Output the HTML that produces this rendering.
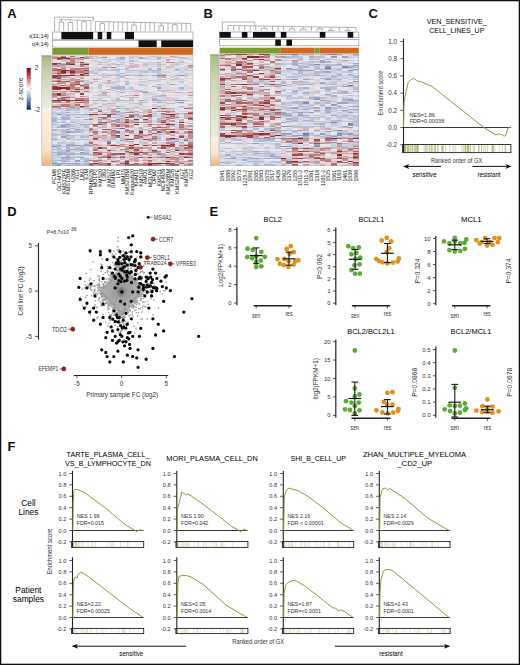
<!DOCTYPE html>
<html><head><meta charset="utf-8"><title>Figure</title>
<style>html,body{margin:0;padding:0;background:#fff;width:520px;height:665px;overflow:hidden}
svg{display:block;font-family:"Liberation Sans", sans-serif}</style></head>
<body><svg width="520" height="665" viewBox="0 0 520 665">
<rect x="0" y="0" width="520" height="665" fill="#fff"/>
<text x="7.2" y="17.78" font-size="13" font-weight="bold" fill="#111">A</text>
<text x="203.5" y="18.48" font-size="13" font-weight="bold" fill="#111">B</text>
<text x="368.4" y="18.28" font-size="13" font-weight="bold" fill="#111">C</text>
<text x="7.2" y="215.88" font-size="13" font-weight="bold" fill="#111">D</text>
<text x="209.5" y="215.78" font-size="13" font-weight="bold" fill="#111">E</text>
<text x="7.5" y="450.78" font-size="13" font-weight="bold" fill="#111">F</text>
<g transform="translate(52.3,55.5) scale(4.5387,1.2244)" shape-rendering="crispEdges">
<path fill="#626c96" d="M10 45h1v1h-1zM12 49h1v1h-1zM17 49h1v1h-1zM15 59h1v1h-1zM16 87h1v1h-1z"/>
<path fill="#6e779f" d="M14 66h1v1h-1zM29 69h1v1h-1zM12 71h1v1h-1z"/>
<path fill="#7a83a8" d="M23 16h1v1h-1zM25 45h1v1h-1zM24 47h1v1h-1zM10 54h1v1h-1z"/>
<path fill="#858eb1" d="M24 16h1v1h-1zM28 16h1v1h-1zM1 48h1v1h-1zM19 63h1v1h-1zM22 67h1v1h-1zM0 74h1v1h-1zM9 76h1v1h-1zM23 80h1v1h-1zM15 82h1v1h-1z"/>
<path fill="#919aba" d="M28 36h1v1h-1zM14 43h1v1h-1zM14 45h1v1h-1zM26 45h1v1h-1zM13 53h1v1h-1zM3 56h1v1h-1zM2 57h1v1h-1zM14 59h1v1h-1zM22 61h1v1h-1zM3 62h1v1h-1zM28 65h1v1h-1zM27 70h1v1h-1zM26 71h1v1h-1zM5 73h1v1h-1zM7 73h1v1h-1zM27 76h1v1h-1zM6 79h1v1h-1zM2 83h1v1h-1zM6 83h1v1h-1zM5 85h1v1h-1zM27 87h1v1h-1zM0 88h1v1h-1zM2 88h1v1h-1zM5 88h1v1h-1zM1 89h1v1h-1z"/>
<path fill="#9da5c3" d="M15 1h1v1h-1zM19 1h1v1h-1zM19 2h1v1h-1zM16 10h1v1h-1zM12 16h1v1h-1zM16 16h1v1h-1zM19 16h1v1h-1zM22 16h1v1h-1zM23 26h1v1h-1zM9 36h1v1h-1zM19 36h1v1h-1zM23 36h1v1h-1zM27 36h1v1h-1zM23 38h1v1h-1zM28 38h1v1h-1zM14 41h1v1h-1zM23 41h1v1h-1zM3 46h1v1h-1zM13 47h1v1h-1zM19 50h1v1h-1zM7 52h1v1h-1zM14 53h1v1h-1zM6 56h1v1h-1zM3 60h1v1h-1zM5 60h1v1h-1zM13 63h1v1h-1zM2 66h1v1h-1zM15 69h1v1h-1zM17 70h1v1h-1zM1 73h1v1h-1zM3 73h1v1h-1zM4 73h1v1h-1zM4 76h1v1h-1zM3 77h1v1h-1zM3 78h1v1h-1zM16 79h1v1h-1zM1 80h1v1h-1zM13 81h1v1h-1zM19 81h1v1h-1zM3 83h1v1h-1zM10 87h1v1h-1z"/>
<path fill="#a9b1cc" d="M10 1h1v1h-1zM23 1h1v1h-1zM23 2h1v1h-1zM29 2h1v1h-1zM15 3h1v1h-1zM23 5h1v1h-1zM2 8h1v1h-1zM7 9h1v1h-1zM23 11h1v1h-1zM27 11h1v1h-1zM22 12h1v1h-1zM15 14h1v1h-1zM14 16h1v1h-1zM27 16h1v1h-1zM29 16h1v1h-1zM6 20h1v1h-1zM16 23h1v1h-1zM22 25h1v1h-1zM13 26h1v1h-1zM14 26h1v1h-1zM15 26h1v1h-1zM28 26h1v1h-1zM19 29h1v1h-1zM22 35h1v1h-1zM15 36h1v1h-1zM22 36h1v1h-1zM24 36h1v1h-1zM19 38h1v1h-1zM27 38h1v1h-1zM10 41h1v1h-1zM1 43h1v1h-1zM5 43h1v1h-1zM7 43h1v1h-1zM3 44h1v1h-1zM8 44h1v1h-1zM21 45h1v1h-1zM14 46h1v1h-1zM3 48h1v1h-1zM5 48h1v1h-1zM6 48h1v1h-1zM7 48h1v1h-1zM18 49h1v1h-1zM2 50h1v1h-1zM5 50h1v1h-1zM0 51h1v1h-1zM2 51h1v1h-1zM3 51h1v1h-1zM23 51h1v1h-1zM2 52h1v1h-1zM3 52h1v1h-1zM11 52h1v1h-1zM0 53h1v1h-1zM23 53h1v1h-1zM2 54h1v1h-1zM4 54h1v1h-1zM0 56h1v1h-1zM1 58h1v1h-1zM2 58h1v1h-1zM3 58h1v1h-1zM4 59h1v1h-1zM13 59h1v1h-1zM19 59h1v1h-1zM22 59h1v1h-1zM0 60h1v1h-1zM4 62h1v1h-1zM5 62h1v1h-1zM14 63h1v1h-1zM3 65h1v1h-1zM19 65h1v1h-1zM10 66h1v1h-1zM3 67h1v1h-1zM27 67h1v1h-1zM0 68h1v1h-1zM7 68h1v1h-1zM8 70h1v1h-1zM3 72h1v1h-1zM4 72h1v1h-1zM7 72h1v1h-1zM21 72h1v1h-1zM6 74h1v1h-1zM28 74h1v1h-1zM3 75h1v1h-1zM1 76h1v1h-1zM5 76h1v1h-1zM6 76h1v1h-1zM6 77h1v1h-1zM30 78h1v1h-1zM0 79h1v1h-1zM1 79h1v1h-1zM2 79h1v1h-1zM23 79h1v1h-1zM2 80h1v1h-1zM3 80h1v1h-1zM4 80h1v1h-1zM6 80h1v1h-1zM7 80h1v1h-1zM3 82h1v1h-1zM24 82h1v1h-1zM4 83h1v1h-1zM3 84h1v1h-1zM18 84h1v1h-1zM1 85h1v1h-1zM2 85h1v1h-1zM7 85h1v1h-1zM2 86h1v1h-1zM5 86h1v1h-1zM7 86h1v1h-1zM0 87h1v1h-1zM15 87h1v1h-1zM1 88h1v1h-1zM3 88h1v1h-1zM4 88h1v1h-1zM7 88h1v1h-1z"/>
<path fill="#b5bcd3" d="M8 1h1v1h-1zM27 1h1v1h-1zM8 2h1v1h-1zM9 2h1v1h-1zM15 2h1v1h-1zM20 2h1v1h-1zM28 2h1v1h-1zM5 3h1v1h-1zM10 5h1v1h-1zM28 5h1v1h-1zM17 6h1v1h-1zM10 7h1v1h-1zM14 7h1v1h-1zM20 7h1v1h-1zM23 7h1v1h-1zM27 7h1v1h-1zM21 10h1v1h-1zM23 10h1v1h-1zM11 11h1v1h-1zM14 11h1v1h-1zM21 11h1v1h-1zM10 12h1v1h-1zM13 12h1v1h-1zM14 12h1v1h-1zM18 12h1v1h-1zM21 12h1v1h-1zM23 12h1v1h-1zM27 12h1v1h-1zM8 13h1v1h-1zM20 13h1v1h-1zM23 14h1v1h-1zM15 16h1v1h-1zM18 16h1v1h-1zM15 17h1v1h-1zM23 17h1v1h-1zM1 19h1v1h-1zM21 20h1v1h-1zM12 21h1v1h-1zM8 22h1v1h-1zM10 23h1v1h-1zM19 23h1v1h-1zM23 23h1v1h-1zM14 24h1v1h-1zM10 25h1v1h-1zM14 25h1v1h-1zM15 25h1v1h-1zM13 28h1v1h-1zM23 28h1v1h-1zM20 29h1v1h-1zM24 29h1v1h-1zM11 31h1v1h-1zM3 32h1v1h-1zM23 32h1v1h-1zM15 33h1v1h-1zM23 33h1v1h-1zM11 36h1v1h-1zM13 36h1v1h-1zM14 36h1v1h-1zM17 36h1v1h-1zM29 36h1v1h-1zM24 38h1v1h-1zM28 41h1v1h-1zM2 43h1v1h-1zM3 43h1v1h-1zM4 43h1v1h-1zM23 43h1v1h-1zM17 45h1v1h-1zM20 45h1v1h-1zM15 47h1v1h-1zM22 47h1v1h-1zM28 47h1v1h-1zM3 49h1v1h-1zM8 49h1v1h-1zM15 49h1v1h-1zM29 49h1v1h-1zM3 50h1v1h-1zM0 52h1v1h-1zM10 53h1v1h-1zM20 53h1v1h-1zM25 53h1v1h-1zM28 53h1v1h-1zM1 54h1v1h-1zM2 56h1v1h-1zM7 56h1v1h-1zM3 57h1v1h-1zM4 57h1v1h-1zM7 57h1v1h-1zM7 58h1v1h-1zM11 58h1v1h-1zM21 59h1v1h-1zM6 60h1v1h-1zM0 61h1v1h-1zM2 61h1v1h-1zM5 61h1v1h-1zM6 61h1v1h-1zM2 62h1v1h-1zM17 63h1v1h-1zM28 63h1v1h-1zM0 64h1v1h-1zM1 64h1v1h-1zM2 64h1v1h-1zM0 65h1v1h-1zM4 65h1v1h-1zM6 65h1v1h-1zM6 66h1v1h-1zM7 66h1v1h-1zM15 67h1v1h-1zM3 68h1v1h-1zM5 68h1v1h-1zM19 68h1v1h-1zM12 69h1v1h-1zM23 69h1v1h-1zM19 70h1v1h-1zM28 71h1v1h-1zM6 73h1v1h-1zM1 74h1v1h-1zM2 74h1v1h-1zM3 74h1v1h-1zM4 74h1v1h-1zM8 74h1v1h-1zM1 75h1v1h-1zM5 75h1v1h-1zM3 76h1v1h-1zM2 77h1v1h-1zM7 77h1v1h-1zM1 78h1v1h-1zM7 79h1v1h-1zM27 79h1v1h-1zM5 80h1v1h-1zM1 81h1v1h-1zM3 81h1v1h-1zM25 81h1v1h-1zM5 83h1v1h-1zM2 84h1v1h-1zM7 84h1v1h-1zM28 84h1v1h-1zM0 85h1v1h-1zM24 85h1v1h-1zM3 86h1v1h-1zM13 87h1v1h-1zM21 87h1v1h-1zM0 89h1v1h-1zM3 89h1v1h-1zM4 89h1v1h-1zM5 89h1v1h-1zM7 89h1v1h-1z"/>
<path fill="#c1c7db" d="M5 1h1v1h-1zM14 1h1v1h-1zM17 1h1v1h-1zM20 1h1v1h-1zM24 1h1v1h-1zM28 1h1v1h-1zM14 2h1v1h-1zM13 3h1v1h-1zM23 3h1v1h-1zM2 4h1v1h-1zM11 5h1v1h-1zM15 5h1v1h-1zM21 5h1v1h-1zM13 6h1v1h-1zM20 6h1v1h-1zM27 6h1v1h-1zM12 7h1v1h-1zM13 7h1v1h-1zM15 7h1v1h-1zM18 7h1v1h-1zM24 7h1v1h-1zM23 8h1v1h-1zM3 9h1v1h-1zM10 10h1v1h-1zM30 10h1v1h-1zM10 11h1v1h-1zM13 11h1v1h-1zM15 11h1v1h-1zM29 11h1v1h-1zM11 12h1v1h-1zM12 12h1v1h-1zM17 12h1v1h-1zM19 12h1v1h-1zM19 13h1v1h-1zM22 13h1v1h-1zM23 13h1v1h-1zM29 14h1v1h-1zM13 15h1v1h-1zM14 15h1v1h-1zM10 16h1v1h-1zM11 16h1v1h-1zM13 16h1v1h-1zM17 16h1v1h-1zM20 16h1v1h-1zM25 16h1v1h-1zM14 18h1v1h-1zM27 18h1v1h-1zM10 19h1v1h-1zM19 19h1v1h-1zM23 19h1v1h-1zM27 19h1v1h-1zM22 20h1v1h-1zM14 21h1v1h-1zM19 21h1v1h-1zM20 21h1v1h-1zM28 21h1v1h-1zM7 22h1v1h-1zM16 22h1v1h-1zM10 24h1v1h-1zM19 24h1v1h-1zM20 24h1v1h-1zM23 25h1v1h-1zM10 26h1v1h-1zM17 26h1v1h-1zM14 27h1v1h-1zM15 27h1v1h-1zM17 27h1v1h-1zM7 28h1v1h-1zM19 28h1v1h-1zM10 29h1v1h-1zM14 29h1v1h-1zM17 29h1v1h-1zM28 30h1v1h-1zM22 33h1v1h-1zM24 33h1v1h-1zM10 35h1v1h-1zM17 35h1v1h-1zM10 36h1v1h-1zM16 36h1v1h-1zM20 36h1v1h-1zM25 36h1v1h-1zM26 36h1v1h-1zM11 37h1v1h-1zM14 37h1v1h-1zM20 38h1v1h-1zM11 40h1v1h-1zM19 40h1v1h-1zM12 41h1v1h-1zM15 41h1v1h-1zM15 43h1v1h-1zM4 44h1v1h-1zM5 44h1v1h-1zM16 44h1v1h-1zM22 45h1v1h-1zM29 45h1v1h-1zM0 46h1v1h-1zM2 46h1v1h-1zM5 46h1v1h-1zM11 46h1v1h-1zM15 46h1v1h-1zM0 47h1v1h-1zM1 47h1v1h-1zM2 47h1v1h-1zM11 47h1v1h-1zM14 47h1v1h-1zM2 48h1v1h-1zM4 48h1v1h-1zM2 49h1v1h-1zM22 49h1v1h-1zM25 49h1v1h-1zM27 49h1v1h-1zM0 50h1v1h-1zM14 50h1v1h-1zM28 50h1v1h-1zM19 51h1v1h-1zM1 52h1v1h-1zM15 53h1v1h-1zM0 54h1v1h-1zM6 54h1v1h-1zM3 55h1v1h-1zM5 55h1v1h-1zM8 55h1v1h-1zM4 56h1v1h-1zM1 57h1v1h-1zM5 58h1v1h-1zM27 59h1v1h-1zM2 60h1v1h-1zM9 60h1v1h-1zM18 60h1v1h-1zM19 60h1v1h-1zM1 61h1v1h-1zM7 61h1v1h-1zM23 61h1v1h-1zM6 62h1v1h-1zM0 63h1v1h-1zM15 63h1v1h-1zM18 63h1v1h-1zM24 63h1v1h-1zM3 64h1v1h-1zM7 64h1v1h-1zM2 65h1v1h-1zM5 65h1v1h-1zM3 66h1v1h-1zM4 66h1v1h-1zM23 66h1v1h-1zM0 67h1v1h-1zM4 67h1v1h-1zM1 68h1v1h-1zM6 68h1v1h-1zM28 68h1v1h-1zM30 69h1v1h-1zM26 70h1v1h-1zM1 71h1v1h-1zM2 71h1v1h-1zM4 71h1v1h-1zM0 72h1v1h-1zM1 72h1v1h-1zM16 72h1v1h-1zM23 72h1v1h-1zM0 73h1v1h-1zM9 74h1v1h-1zM6 75h1v1h-1zM0 76h1v1h-1zM2 78h1v1h-1zM21 78h1v1h-1zM3 79h1v1h-1zM4 79h1v1h-1zM8 80h1v1h-1zM0 81h1v1h-1zM8 81h1v1h-1zM5 82h1v1h-1zM13 82h1v1h-1zM22 82h1v1h-1zM1 83h1v1h-1zM4 84h1v1h-1zM6 84h1v1h-1zM10 84h1v1h-1zM15 84h1v1h-1zM3 85h1v1h-1zM6 86h1v1h-1zM14 87h1v1h-1zM6 88h1v1h-1zM6 89h1v1h-1z"/>
<path fill="#ced2e2" d="M11 0h1v1h-1zM23 0h1v1h-1zM29 1h1v1h-1zM17 2h1v1h-1zM18 2h1v1h-1zM14 3h1v1h-1zM3 4h1v1h-1zM14 4h1v1h-1zM18 4h1v1h-1zM19 5h1v1h-1zM22 5h1v1h-1zM27 5h1v1h-1zM10 6h1v1h-1zM22 6h1v1h-1zM23 6h1v1h-1zM29 6h1v1h-1zM11 7h1v1h-1zM17 7h1v1h-1zM21 7h1v1h-1zM22 7h1v1h-1zM28 7h1v1h-1zM3 8h1v1h-1zM14 8h1v1h-1zM23 9h1v1h-1zM29 9h1v1h-1zM9 10h1v1h-1zM11 10h1v1h-1zM14 10h1v1h-1zM27 10h1v1h-1zM28 10h1v1h-1zM29 10h1v1h-1zM9 11h1v1h-1zM9 12h1v1h-1zM16 12h1v1h-1zM20 12h1v1h-1zM28 12h1v1h-1zM29 12h1v1h-1zM9 13h1v1h-1zM14 13h1v1h-1zM16 13h1v1h-1zM17 13h1v1h-1zM21 13h1v1h-1zM24 13h1v1h-1zM25 13h1v1h-1zM28 13h1v1h-1zM3 14h1v1h-1zM11 14h1v1h-1zM14 14h1v1h-1zM27 14h1v1h-1zM17 15h1v1h-1zM19 15h1v1h-1zM8 16h1v1h-1zM9 16h1v1h-1zM21 16h1v1h-1zM14 17h1v1h-1zM27 17h1v1h-1zM23 20h1v1h-1zM13 21h1v1h-1zM22 21h1v1h-1zM28 22h1v1h-1zM24 23h1v1h-1zM24 24h1v1h-1zM13 25h1v1h-1zM25 25h1v1h-1zM29 25h1v1h-1zM24 26h1v1h-1zM30 26h1v1h-1zM16 27h1v1h-1zM27 27h1v1h-1zM28 27h1v1h-1zM4 28h1v1h-1zM28 28h1v1h-1zM18 29h1v1h-1zM6 30h1v1h-1zM10 31h1v1h-1zM20 31h1v1h-1zM21 31h1v1h-1zM22 31h1v1h-1zM27 32h1v1h-1zM2 33h1v1h-1zM10 33h1v1h-1zM12 33h1v1h-1zM14 34h1v1h-1zM24 34h1v1h-1zM20 35h1v1h-1zM23 35h1v1h-1zM27 35h1v1h-1zM8 36h1v1h-1zM12 36h1v1h-1zM30 36h1v1h-1zM22 37h1v1h-1zM9 38h1v1h-1zM12 38h1v1h-1zM13 38h1v1h-1zM15 38h1v1h-1zM22 38h1v1h-1zM12 40h1v1h-1zM13 40h1v1h-1zM8 41h1v1h-1zM13 41h1v1h-1zM18 41h1v1h-1zM20 41h1v1h-1zM22 41h1v1h-1zM16 42h1v1h-1zM23 42h1v1h-1zM28 42h1v1h-1zM29 42h1v1h-1zM19 43h1v1h-1zM0 44h1v1h-1zM1 44h1v1h-1zM2 44h1v1h-1zM11 44h1v1h-1zM12 44h1v1h-1zM23 44h1v1h-1zM2 45h1v1h-1zM28 45h1v1h-1zM1 46h1v1h-1zM18 46h1v1h-1zM4 47h1v1h-1zM7 47h1v1h-1zM18 47h1v1h-1zM0 48h1v1h-1zM0 49h1v1h-1zM4 49h1v1h-1zM6 49h1v1h-1zM7 49h1v1h-1zM9 49h1v1h-1zM14 49h1v1h-1zM23 49h1v1h-1zM6 50h1v1h-1zM7 50h1v1h-1zM9 51h1v1h-1zM14 51h1v1h-1zM18 51h1v1h-1zM4 52h1v1h-1zM5 52h1v1h-1zM2 53h1v1h-1zM4 53h1v1h-1zM5 53h1v1h-1zM22 53h1v1h-1zM5 54h1v1h-1zM7 54h1v1h-1zM26 55h1v1h-1zM5 57h1v1h-1zM6 57h1v1h-1zM27 57h1v1h-1zM0 58h1v1h-1zM27 58h1v1h-1zM5 59h1v1h-1zM9 59h1v1h-1zM10 59h1v1h-1zM1 60h1v1h-1zM7 60h1v1h-1zM3 61h1v1h-1zM4 61h1v1h-1zM20 61h1v1h-1zM1 63h1v1h-1zM2 63h1v1h-1zM21 63h1v1h-1zM24 64h1v1h-1zM1 65h1v1h-1zM7 65h1v1h-1zM15 65h1v1h-1zM22 65h1v1h-1zM23 65h1v1h-1zM0 66h1v1h-1zM2 67h1v1h-1zM6 67h1v1h-1zM17 67h1v1h-1zM4 68h1v1h-1zM0 69h1v1h-1zM2 69h1v1h-1zM13 69h1v1h-1zM20 69h1v1h-1zM26 69h1v1h-1zM27 69h1v1h-1zM2 70h1v1h-1zM14 70h1v1h-1zM25 70h1v1h-1zM29 70h1v1h-1zM3 71h1v1h-1zM7 71h1v1h-1zM14 71h1v1h-1zM17 71h1v1h-1zM19 71h1v1h-1zM24 71h1v1h-1zM19 72h1v1h-1zM7 74h1v1h-1zM0 75h1v1h-1zM7 75h1v1h-1zM2 76h1v1h-1zM7 76h1v1h-1zM22 76h1v1h-1zM0 77h1v1h-1zM1 77h1v1h-1zM4 77h1v1h-1zM5 77h1v1h-1zM5 78h1v1h-1zM7 78h1v1h-1zM8 78h1v1h-1zM14 78h1v1h-1zM17 78h1v1h-1zM28 78h1v1h-1zM0 80h1v1h-1zM4 81h1v1h-1zM23 81h1v1h-1zM29 81h1v1h-1zM0 82h1v1h-1zM1 82h1v1h-1zM18 82h1v1h-1zM0 83h1v1h-1zM0 84h1v1h-1zM8 84h1v1h-1zM13 84h1v1h-1zM24 84h1v1h-1zM0 86h1v1h-1zM4 86h1v1h-1zM15 86h1v1h-1zM22 86h1v1h-1zM7 87h1v1h-1zM11 87h1v1h-1zM23 87h1v1h-1zM29 87h1v1h-1zM30 87h1v1h-1zM2 89h1v1h-1z"/>
<path fill="#dadce8" d="M5 0h1v1h-1zM14 0h1v1h-1zM16 1h1v1h-1zM30 1h1v1h-1zM10 2h1v1h-1zM16 2h1v1h-1zM21 2h1v1h-1zM22 2h1v1h-1zM8 3h1v1h-1zM22 3h1v1h-1zM27 3h1v1h-1zM10 4h1v1h-1zM15 4h1v1h-1zM12 5h1v1h-1zM17 5h1v1h-1zM20 5h1v1h-1zM29 5h1v1h-1zM8 6h1v1h-1zM12 6h1v1h-1zM15 6h1v1h-1zM24 6h1v1h-1zM30 6h1v1h-1zM9 7h1v1h-1zM19 7h1v1h-1zM15 8h1v1h-1zM27 8h1v1h-1zM0 9h1v1h-1zM1 9h1v1h-1zM10 9h1v1h-1zM28 9h1v1h-1zM8 10h1v1h-1zM12 10h1v1h-1zM13 10h1v1h-1zM22 10h1v1h-1zM25 10h1v1h-1zM26 10h1v1h-1zM12 11h1v1h-1zM17 11h1v1h-1zM20 11h1v1h-1zM25 11h1v1h-1zM26 11h1v1h-1zM28 11h1v1h-1zM26 12h1v1h-1zM26 13h1v1h-1zM29 13h1v1h-1zM8 14h1v1h-1zM16 14h1v1h-1zM18 14h1v1h-1zM20 14h1v1h-1zM22 14h1v1h-1zM24 14h1v1h-1zM28 14h1v1h-1zM16 15h1v1h-1zM18 15h1v1h-1zM21 15h1v1h-1zM27 15h1v1h-1zM28 15h1v1h-1zM26 16h1v1h-1zM30 16h1v1h-1zM18 17h1v1h-1zM20 17h1v1h-1zM22 17h1v1h-1zM29 17h1v1h-1zM12 18h1v1h-1zM21 18h1v1h-1zM28 18h1v1h-1zM16 19h1v1h-1zM11 20h1v1h-1zM14 20h1v1h-1zM27 20h1v1h-1zM29 20h1v1h-1zM8 21h1v1h-1zM11 21h1v1h-1zM15 21h1v1h-1zM24 21h1v1h-1zM27 21h1v1h-1zM14 22h1v1h-1zM19 22h1v1h-1zM20 22h1v1h-1zM21 22h1v1h-1zM12 23h1v1h-1zM22 23h1v1h-1zM27 23h1v1h-1zM29 23h1v1h-1zM12 24h1v1h-1zM13 24h1v1h-1zM15 24h1v1h-1zM16 24h1v1h-1zM23 24h1v1h-1zM27 24h1v1h-1zM29 24h1v1h-1zM8 25h1v1h-1zM17 25h1v1h-1zM18 25h1v1h-1zM9 26h1v1h-1zM25 26h1v1h-1zM26 26h1v1h-1zM29 26h1v1h-1zM8 27h1v1h-1zM13 27h1v1h-1zM18 27h1v1h-1zM20 27h1v1h-1zM23 27h1v1h-1zM26 27h1v1h-1zM29 27h1v1h-1zM3 28h1v1h-1zM10 28h1v1h-1zM16 28h1v1h-1zM11 29h1v1h-1zM12 29h1v1h-1zM15 29h1v1h-1zM22 29h1v1h-1zM25 29h1v1h-1zM7 30h1v1h-1zM19 30h1v1h-1zM14 31h1v1h-1zM17 31h1v1h-1zM29 31h1v1h-1zM7 32h1v1h-1zM14 32h1v1h-1zM21 32h1v1h-1zM11 33h1v1h-1zM14 33h1v1h-1zM20 33h1v1h-1zM5 34h1v1h-1zM8 34h1v1h-1zM13 34h1v1h-1zM27 34h1v1h-1zM13 35h1v1h-1zM21 35h1v1h-1zM24 35h1v1h-1zM18 36h1v1h-1zM21 36h1v1h-1zM2 37h1v1h-1zM10 37h1v1h-1zM13 37h1v1h-1zM20 37h1v1h-1zM23 37h1v1h-1zM27 37h1v1h-1zM28 37h1v1h-1zM10 38h1v1h-1zM14 38h1v1h-1zM16 38h1v1h-1zM2 39h1v1h-1zM10 39h1v1h-1zM23 39h1v1h-1zM16 40h1v1h-1zM17 40h1v1h-1zM18 40h1v1h-1zM23 40h1v1h-1zM24 40h1v1h-1zM17 41h1v1h-1zM29 41h1v1h-1zM10 42h1v1h-1zM15 42h1v1h-1zM19 42h1v1h-1zM20 42h1v1h-1zM24 42h1v1h-1zM26 42h1v1h-1zM27 42h1v1h-1zM0 43h1v1h-1zM6 44h1v1h-1zM7 44h1v1h-1zM15 44h1v1h-1zM27 44h1v1h-1zM0 45h1v1h-1zM3 45h1v1h-1zM4 45h1v1h-1zM5 45h1v1h-1zM7 45h1v1h-1zM15 45h1v1h-1zM4 46h1v1h-1zM7 46h1v1h-1zM10 47h1v1h-1zM23 47h1v1h-1zM25 47h1v1h-1zM19 48h1v1h-1zM23 48h1v1h-1zM5 49h1v1h-1zM16 49h1v1h-1zM1 50h1v1h-1zM18 50h1v1h-1zM6 51h1v1h-1zM27 51h1v1h-1zM6 52h1v1h-1zM6 53h1v1h-1zM7 53h1v1h-1zM9 53h1v1h-1zM30 53h1v1h-1zM8 54h1v1h-1zM13 54h1v1h-1zM0 55h1v1h-1zM7 55h1v1h-1zM18 55h1v1h-1zM21 55h1v1h-1zM27 55h1v1h-1zM1 56h1v1h-1zM5 56h1v1h-1zM19 56h1v1h-1zM20 56h1v1h-1zM0 57h1v1h-1zM10 57h1v1h-1zM4 58h1v1h-1zM6 58h1v1h-1zM8 58h1v1h-1zM18 58h1v1h-1zM20 58h1v1h-1zM30 58h1v1h-1zM3 59h1v1h-1zM6 59h1v1h-1zM7 59h1v1h-1zM17 59h1v1h-1zM23 59h1v1h-1zM30 59h1v1h-1zM15 60h1v1h-1zM21 60h1v1h-1zM14 61h1v1h-1zM0 62h1v1h-1zM1 62h1v1h-1zM7 62h1v1h-1zM3 63h1v1h-1zM4 63h1v1h-1zM6 63h1v1h-1zM24 65h1v1h-1zM5 66h1v1h-1zM16 66h1v1h-1zM26 66h1v1h-1zM14 68h1v1h-1zM4 69h1v1h-1zM5 69h1v1h-1zM6 69h1v1h-1zM7 69h1v1h-1zM8 69h1v1h-1zM14 69h1v1h-1zM10 70h1v1h-1zM13 70h1v1h-1zM15 70h1v1h-1zM20 70h1v1h-1zM22 70h1v1h-1zM28 70h1v1h-1zM5 71h1v1h-1zM9 71h1v1h-1zM2 72h1v1h-1zM5 72h1v1h-1zM6 72h1v1h-1zM14 72h1v1h-1zM27 72h1v1h-1zM2 73h1v1h-1zM19 73h1v1h-1zM5 74h1v1h-1zM10 74h1v1h-1zM19 74h1v1h-1zM20 74h1v1h-1zM2 75h1v1h-1zM4 75h1v1h-1zM10 76h1v1h-1zM8 77h1v1h-1zM11 77h1v1h-1zM23 77h1v1h-1zM24 77h1v1h-1zM4 78h1v1h-1zM11 78h1v1h-1zM13 78h1v1h-1zM15 78h1v1h-1zM20 78h1v1h-1zM25 78h1v1h-1zM29 79h1v1h-1zM25 80h1v1h-1zM2 81h1v1h-1zM6 81h1v1h-1zM7 81h1v1h-1zM14 81h1v1h-1zM28 81h1v1h-1zM2 82h1v1h-1zM4 82h1v1h-1zM6 82h1v1h-1zM7 83h1v1h-1zM1 84h1v1h-1zM30 84h1v1h-1zM26 85h1v1h-1zM28 85h1v1h-1zM1 86h1v1h-1zM2 87h1v1h-1zM3 87h1v1h-1zM4 87h1v1h-1zM5 87h1v1h-1zM6 87h1v1h-1zM9 87h1v1h-1zM17 87h1v1h-1z"/>
<path fill="#e6e7ed" d="M13 0h1v1h-1zM19 0h1v1h-1zM13 1h1v1h-1zM26 2h1v1h-1zM27 2h1v1h-1zM16 3h1v1h-1zM18 3h1v1h-1zM19 3h1v1h-1zM24 3h1v1h-1zM28 3h1v1h-1zM13 4h1v1h-1zM16 4h1v1h-1zM19 4h1v1h-1zM20 4h1v1h-1zM27 4h1v1h-1zM2 5h1v1h-1zM18 5h1v1h-1zM30 5h1v1h-1zM5 6h1v1h-1zM9 6h1v1h-1zM11 6h1v1h-1zM14 6h1v1h-1zM16 6h1v1h-1zM18 6h1v1h-1zM19 6h1v1h-1zM25 7h1v1h-1zM10 8h1v1h-1zM13 8h1v1h-1zM5 9h1v1h-1zM15 9h1v1h-1zM21 9h1v1h-1zM24 9h1v1h-1zM17 10h1v1h-1zM18 10h1v1h-1zM20 10h1v1h-1zM18 11h1v1h-1zM22 11h1v1h-1zM15 12h1v1h-1zM24 12h1v1h-1zM11 13h1v1h-1zM12 13h1v1h-1zM13 13h1v1h-1zM15 13h1v1h-1zM17 14h1v1h-1zM21 14h1v1h-1zM5 15h1v1h-1zM8 15h1v1h-1zM9 15h1v1h-1zM15 15h1v1h-1zM20 15h1v1h-1zM22 15h1v1h-1zM25 15h1v1h-1zM4 17h1v1h-1zM8 17h1v1h-1zM9 17h1v1h-1zM10 17h1v1h-1zM16 17h1v1h-1zM25 17h1v1h-1zM28 17h1v1h-1zM2 18h1v1h-1zM7 18h1v1h-1zM22 18h1v1h-1zM7 19h1v1h-1zM15 19h1v1h-1zM25 19h1v1h-1zM30 19h1v1h-1zM8 20h1v1h-1zM17 20h1v1h-1zM18 20h1v1h-1zM20 20h1v1h-1zM24 20h1v1h-1zM10 21h1v1h-1zM21 21h1v1h-1zM25 21h1v1h-1zM0 22h1v1h-1zM22 22h1v1h-1zM23 22h1v1h-1zM24 22h1v1h-1zM26 22h1v1h-1zM27 22h1v1h-1zM14 23h1v1h-1zM15 23h1v1h-1zM21 23h1v1h-1zM28 23h1v1h-1zM9 24h1v1h-1zM17 24h1v1h-1zM28 24h1v1h-1zM5 25h1v1h-1zM9 25h1v1h-1zM19 25h1v1h-1zM20 25h1v1h-1zM21 25h1v1h-1zM28 25h1v1h-1zM30 25h1v1h-1zM11 26h1v1h-1zM12 26h1v1h-1zM9 27h1v1h-1zM10 27h1v1h-1zM11 27h1v1h-1zM19 27h1v1h-1zM21 27h1v1h-1zM22 27h1v1h-1zM30 27h1v1h-1zM0 28h1v1h-1zM2 28h1v1h-1zM6 28h1v1h-1zM12 28h1v1h-1zM20 28h1v1h-1zM21 28h1v1h-1zM13 29h1v1h-1zM23 29h1v1h-1zM27 29h1v1h-1zM28 29h1v1h-1zM3 30h1v1h-1zM13 30h1v1h-1zM16 30h1v1h-1zM23 30h1v1h-1zM7 31h1v1h-1zM8 31h1v1h-1zM9 31h1v1h-1zM12 31h1v1h-1zM13 31h1v1h-1zM16 31h1v1h-1zM19 31h1v1h-1zM23 31h1v1h-1zM25 31h1v1h-1zM5 32h1v1h-1zM15 32h1v1h-1zM28 32h1v1h-1zM29 32h1v1h-1zM8 33h1v1h-1zM9 33h1v1h-1zM16 33h1v1h-1zM21 33h1v1h-1zM25 33h1v1h-1zM27 33h1v1h-1zM29 33h1v1h-1zM30 33h1v1h-1zM15 34h1v1h-1zM19 34h1v1h-1zM23 34h1v1h-1zM0 35h1v1h-1zM4 35h1v1h-1zM8 35h1v1h-1zM9 35h1v1h-1zM12 35h1v1h-1zM15 35h1v1h-1zM16 35h1v1h-1zM19 35h1v1h-1zM29 35h1v1h-1zM9 37h1v1h-1zM18 37h1v1h-1zM21 37h1v1h-1zM26 37h1v1h-1zM11 38h1v1h-1zM18 38h1v1h-1zM29 38h1v1h-1zM30 38h1v1h-1zM6 39h1v1h-1zM14 39h1v1h-1zM16 39h1v1h-1zM21 39h1v1h-1zM14 40h1v1h-1zM21 40h1v1h-1zM29 40h1v1h-1zM11 41h1v1h-1zM25 41h1v1h-1zM27 41h1v1h-1zM30 41h1v1h-1zM8 42h1v1h-1zM14 42h1v1h-1zM21 42h1v1h-1zM6 43h1v1h-1zM10 43h1v1h-1zM20 43h1v1h-1zM21 43h1v1h-1zM14 44h1v1h-1zM22 44h1v1h-1zM29 44h1v1h-1zM19 45h1v1h-1zM6 46h1v1h-1zM23 46h1v1h-1zM27 46h1v1h-1zM29 46h1v1h-1zM3 47h1v1h-1zM5 47h1v1h-1zM12 47h1v1h-1zM21 47h1v1h-1zM1 49h1v1h-1zM11 49h1v1h-1zM4 50h1v1h-1zM23 50h1v1h-1zM1 51h1v1h-1zM5 51h1v1h-1zM7 51h1v1h-1zM16 51h1v1h-1zM17 51h1v1h-1zM22 51h1v1h-1zM28 51h1v1h-1zM13 52h1v1h-1zM22 52h1v1h-1zM26 52h1v1h-1zM3 53h1v1h-1zM27 53h1v1h-1zM3 54h1v1h-1zM26 54h1v1h-1zM30 54h1v1h-1zM1 55h1v1h-1zM6 55h1v1h-1zM19 55h1v1h-1zM22 55h1v1h-1zM23 55h1v1h-1zM29 55h1v1h-1zM12 56h1v1h-1zM29 56h1v1h-1zM30 56h1v1h-1zM8 57h1v1h-1zM12 57h1v1h-1zM26 58h1v1h-1zM1 59h1v1h-1zM11 59h1v1h-1zM12 59h1v1h-1zM20 59h1v1h-1zM26 59h1v1h-1zM4 60h1v1h-1zM17 60h1v1h-1zM18 61h1v1h-1zM5 63h1v1h-1zM7 63h1v1h-1zM8 63h1v1h-1zM11 63h1v1h-1zM16 63h1v1h-1zM5 64h1v1h-1zM6 64h1v1h-1zM27 64h1v1h-1zM29 64h1v1h-1zM1 67h1v1h-1zM5 67h1v1h-1zM7 67h1v1h-1zM14 67h1v1h-1zM24 67h1v1h-1zM28 67h1v1h-1zM2 68h1v1h-1zM1 69h1v1h-1zM17 69h1v1h-1zM0 70h1v1h-1zM3 70h1v1h-1zM5 70h1v1h-1zM6 70h1v1h-1zM7 70h1v1h-1zM18 70h1v1h-1zM23 70h1v1h-1zM24 70h1v1h-1zM0 71h1v1h-1zM6 71h1v1h-1zM11 71h1v1h-1zM13 71h1v1h-1zM16 71h1v1h-1zM18 71h1v1h-1zM21 71h1v1h-1zM27 71h1v1h-1zM29 71h1v1h-1zM22 72h1v1h-1zM18 73h1v1h-1zM22 74h1v1h-1zM27 74h1v1h-1zM29 74h1v1h-1zM8 75h1v1h-1zM20 76h1v1h-1zM23 76h1v1h-1zM24 76h1v1h-1zM10 77h1v1h-1zM26 77h1v1h-1zM9 78h1v1h-1zM5 79h1v1h-1zM8 79h1v1h-1zM13 79h1v1h-1zM14 79h1v1h-1zM24 79h1v1h-1zM5 81h1v1h-1zM20 81h1v1h-1zM22 81h1v1h-1zM7 82h1v1h-1zM8 82h1v1h-1zM21 82h1v1h-1zM27 82h1v1h-1zM8 83h1v1h-1zM5 84h1v1h-1zM11 84h1v1h-1zM29 84h1v1h-1zM4 85h1v1h-1zM6 85h1v1h-1zM15 85h1v1h-1zM1 87h1v1h-1zM8 87h1v1h-1zM18 87h1v1h-1zM24 87h1v1h-1zM13 88h1v1h-1zM27 88h1v1h-1z"/>
<path fill="#e9e5e9" d="M3 0h1v1h-1zM6 0h1v1h-1zM10 0h1v1h-1zM12 0h1v1h-1zM16 0h1v1h-1zM20 0h1v1h-1zM24 0h1v1h-1zM25 0h1v1h-1zM28 0h1v1h-1zM29 0h1v1h-1zM30 0h1v1h-1zM9 1h1v1h-1zM12 2h1v1h-1zM13 2h1v1h-1zM25 2h1v1h-1zM7 3h1v1h-1zM9 3h1v1h-1zM10 3h1v1h-1zM20 3h1v1h-1zM29 3h1v1h-1zM0 4h1v1h-1zM1 4h1v1h-1zM7 4h1v1h-1zM21 4h1v1h-1zM22 4h1v1h-1zM23 4h1v1h-1zM26 4h1v1h-1zM29 4h1v1h-1zM30 4h1v1h-1zM0 5h1v1h-1zM8 5h1v1h-1zM13 5h1v1h-1zM14 5h1v1h-1zM24 5h1v1h-1zM25 6h1v1h-1zM8 7h1v1h-1zM16 7h1v1h-1zM29 7h1v1h-1zM8 8h1v1h-1zM28 8h1v1h-1zM14 9h1v1h-1zM19 9h1v1h-1zM22 9h1v1h-1zM27 9h1v1h-1zM3 10h1v1h-1zM15 10h1v1h-1zM24 10h1v1h-1zM30 11h1v1h-1zM25 12h1v1h-1zM27 13h1v1h-1zM30 13h1v1h-1zM10 14h1v1h-1zM13 14h1v1h-1zM26 14h1v1h-1zM2 15h1v1h-1zM7 17h1v1h-1zM13 17h1v1h-1zM17 17h1v1h-1zM21 17h1v1h-1zM30 17h1v1h-1zM5 18h1v1h-1zM15 18h1v1h-1zM18 18h1v1h-1zM20 18h1v1h-1zM23 18h1v1h-1zM24 18h1v1h-1zM26 18h1v1h-1zM6 19h1v1h-1zM11 19h1v1h-1zM12 19h1v1h-1zM21 19h1v1h-1zM29 19h1v1h-1zM9 20h1v1h-1zM10 20h1v1h-1zM13 20h1v1h-1zM15 20h1v1h-1zM19 20h1v1h-1zM30 20h1v1h-1zM17 21h1v1h-1zM18 21h1v1h-1zM30 21h1v1h-1zM6 22h1v1h-1zM9 22h1v1h-1zM15 22h1v1h-1zM29 22h1v1h-1zM2 23h1v1h-1zM8 23h1v1h-1zM11 23h1v1h-1zM17 23h1v1h-1zM25 23h1v1h-1zM30 23h1v1h-1zM8 24h1v1h-1zM18 24h1v1h-1zM21 24h1v1h-1zM22 24h1v1h-1zM26 24h1v1h-1zM11 25h1v1h-1zM16 25h1v1h-1zM24 25h1v1h-1zM26 25h1v1h-1zM27 25h1v1h-1zM18 26h1v1h-1zM19 26h1v1h-1zM21 26h1v1h-1zM22 26h1v1h-1zM24 27h1v1h-1zM1 28h1v1h-1zM9 28h1v1h-1zM14 28h1v1h-1zM17 28h1v1h-1zM22 28h1v1h-1zM27 28h1v1h-1zM9 29h1v1h-1zM21 29h1v1h-1zM29 29h1v1h-1zM30 29h1v1h-1zM10 30h1v1h-1zM17 30h1v1h-1zM22 30h1v1h-1zM24 30h1v1h-1zM5 31h1v1h-1zM15 31h1v1h-1zM26 31h1v1h-1zM27 31h1v1h-1zM6 32h1v1h-1zM8 32h1v1h-1zM13 32h1v1h-1zM19 32h1v1h-1zM5 33h1v1h-1zM13 33h1v1h-1zM18 33h1v1h-1zM19 33h1v1h-1zM26 33h1v1h-1zM28 33h1v1h-1zM6 34h1v1h-1zM10 34h1v1h-1zM28 34h1v1h-1zM29 34h1v1h-1zM11 35h1v1h-1zM18 35h1v1h-1zM28 35h1v1h-1zM30 35h1v1h-1zM8 37h1v1h-1zM12 37h1v1h-1zM15 37h1v1h-1zM24 37h1v1h-1zM30 37h1v1h-1zM21 38h1v1h-1zM25 38h1v1h-1zM0 39h1v1h-1zM1 39h1v1h-1zM8 39h1v1h-1zM15 39h1v1h-1zM20 39h1v1h-1zM22 39h1v1h-1zM24 39h1v1h-1zM27 39h1v1h-1zM10 40h1v1h-1zM20 40h1v1h-1zM26 40h1v1h-1zM27 40h1v1h-1zM28 40h1v1h-1zM9 41h1v1h-1zM16 41h1v1h-1zM19 41h1v1h-1zM26 41h1v1h-1zM2 42h1v1h-1zM13 42h1v1h-1zM25 42h1v1h-1zM11 43h1v1h-1zM28 43h1v1h-1zM18 44h1v1h-1zM28 44h1v1h-1zM1 45h1v1h-1zM6 45h1v1h-1zM8 45h1v1h-1zM9 45h1v1h-1zM11 45h1v1h-1zM16 45h1v1h-1zM27 45h1v1h-1zM24 46h1v1h-1zM28 46h1v1h-1zM6 47h1v1h-1zM16 47h1v1h-1zM17 47h1v1h-1zM20 48h1v1h-1zM28 49h1v1h-1zM8 50h1v1h-1zM20 50h1v1h-1zM22 50h1v1h-1zM19 52h1v1h-1zM29 52h1v1h-1zM1 53h1v1h-1zM19 53h1v1h-1zM29 53h1v1h-1zM9 54h1v1h-1zM2 55h1v1h-1zM4 55h1v1h-1zM9 55h1v1h-1zM12 55h1v1h-1zM18 57h1v1h-1zM19 57h1v1h-1zM22 57h1v1h-1zM24 57h1v1h-1zM9 58h1v1h-1zM14 58h1v1h-1zM15 58h1v1h-1zM21 58h1v1h-1zM0 59h1v1h-1zM2 59h1v1h-1zM16 59h1v1h-1zM10 60h1v1h-1zM10 61h1v1h-1zM11 61h1v1h-1zM15 61h1v1h-1zM26 61h1v1h-1zM29 61h1v1h-1zM20 62h1v1h-1zM20 63h1v1h-1zM4 64h1v1h-1zM10 64h1v1h-1zM14 64h1v1h-1zM12 65h1v1h-1zM17 65h1v1h-1zM25 65h1v1h-1zM27 65h1v1h-1zM1 66h1v1h-1zM17 66h1v1h-1zM18 68h1v1h-1zM3 69h1v1h-1zM19 69h1v1h-1zM1 70h1v1h-1zM13 74h1v1h-1zM23 74h1v1h-1zM12 75h1v1h-1zM15 75h1v1h-1zM22 75h1v1h-1zM14 76h1v1h-1zM0 78h1v1h-1zM6 78h1v1h-1zM27 78h1v1h-1zM29 78h1v1h-1zM15 79h1v1h-1zM27 80h1v1h-1zM19 82h1v1h-1zM14 84h1v1h-1zM19 84h1v1h-1zM23 85h1v1h-1zM29 85h1v1h-1zM8 86h1v1h-1zM19 86h1v1h-1zM20 86h1v1h-1zM12 87h1v1h-1zM19 87h1v1h-1zM22 87h1v1h-1z"/>
<path fill="#e3d7da" d="M15 0h1v1h-1zM12 1h1v1h-1zM18 1h1v1h-1zM21 1h1v1h-1zM22 1h1v1h-1zM26 1h1v1h-1zM11 2h1v1h-1zM24 2h1v1h-1zM30 2h1v1h-1zM0 3h1v1h-1zM17 3h1v1h-1zM6 4h1v1h-1zM8 4h1v1h-1zM11 4h1v1h-1zM24 4h1v1h-1zM1 5h1v1h-1zM7 5h1v1h-1zM9 5h1v1h-1zM16 5h1v1h-1zM21 6h1v1h-1zM26 6h1v1h-1zM28 6h1v1h-1zM5 7h1v1h-1zM30 7h1v1h-1zM4 8h1v1h-1zM9 8h1v1h-1zM11 8h1v1h-1zM19 8h1v1h-1zM21 8h1v1h-1zM22 8h1v1h-1zM24 8h1v1h-1zM25 8h1v1h-1zM29 8h1v1h-1zM6 9h1v1h-1zM9 9h1v1h-1zM16 9h1v1h-1zM20 9h1v1h-1zM1 10h1v1h-1zM19 10h1v1h-1zM3 11h1v1h-1zM8 11h1v1h-1zM19 11h1v1h-1zM8 12h1v1h-1zM10 13h1v1h-1zM18 13h1v1h-1zM12 14h1v1h-1zM19 14h1v1h-1zM25 14h1v1h-1zM0 15h1v1h-1zM3 15h1v1h-1zM10 15h1v1h-1zM12 15h1v1h-1zM26 15h1v1h-1zM29 15h1v1h-1zM30 15h1v1h-1zM12 17h1v1h-1zM19 17h1v1h-1zM3 18h1v1h-1zM8 18h1v1h-1zM10 18h1v1h-1zM11 18h1v1h-1zM13 18h1v1h-1zM17 18h1v1h-1zM19 18h1v1h-1zM29 18h1v1h-1zM0 19h1v1h-1zM8 19h1v1h-1zM13 19h1v1h-1zM14 19h1v1h-1zM17 19h1v1h-1zM18 19h1v1h-1zM22 19h1v1h-1zM2 20h1v1h-1zM16 20h1v1h-1zM25 20h1v1h-1zM26 20h1v1h-1zM28 20h1v1h-1zM7 21h1v1h-1zM26 21h1v1h-1zM29 21h1v1h-1zM3 22h1v1h-1zM10 22h1v1h-1zM17 22h1v1h-1zM18 22h1v1h-1zM30 22h1v1h-1zM9 23h1v1h-1zM13 23h1v1h-1zM18 23h1v1h-1zM20 23h1v1h-1zM5 24h1v1h-1zM11 24h1v1h-1zM25 24h1v1h-1zM30 24h1v1h-1zM2 25h1v1h-1zM6 26h1v1h-1zM16 26h1v1h-1zM20 26h1v1h-1zM27 26h1v1h-1zM8 28h1v1h-1zM29 28h1v1h-1zM30 28h1v1h-1zM8 29h1v1h-1zM26 29h1v1h-1zM0 30h1v1h-1zM1 30h1v1h-1zM4 30h1v1h-1zM9 30h1v1h-1zM14 30h1v1h-1zM25 30h1v1h-1zM29 30h1v1h-1zM18 31h1v1h-1zM24 31h1v1h-1zM28 31h1v1h-1zM30 31h1v1h-1zM4 32h1v1h-1zM20 32h1v1h-1zM22 32h1v1h-1zM25 32h1v1h-1zM26 32h1v1h-1zM1 33h1v1h-1zM17 33h1v1h-1zM12 34h1v1h-1zM20 34h1v1h-1zM26 34h1v1h-1zM5 37h1v1h-1zM17 37h1v1h-1zM19 37h1v1h-1zM25 37h1v1h-1zM29 37h1v1h-1zM4 38h1v1h-1zM8 38h1v1h-1zM17 38h1v1h-1zM26 38h1v1h-1zM3 39h1v1h-1zM29 39h1v1h-1zM30 39h1v1h-1zM6 40h1v1h-1zM9 40h1v1h-1zM15 40h1v1h-1zM25 40h1v1h-1zM21 41h1v1h-1zM9 42h1v1h-1zM12 42h1v1h-1zM17 42h1v1h-1zM22 42h1v1h-1zM18 43h1v1h-1zM27 43h1v1h-1zM9 44h1v1h-1zM19 44h1v1h-1zM30 44h1v1h-1zM12 45h1v1h-1zM10 46h1v1h-1zM22 46h1v1h-1zM8 47h1v1h-1zM19 47h1v1h-1zM22 48h1v1h-1zM28 48h1v1h-1zM10 49h1v1h-1zM13 49h1v1h-1zM4 51h1v1h-1zM12 51h1v1h-1zM13 51h1v1h-1zM20 51h1v1h-1zM9 52h1v1h-1zM27 52h1v1h-1zM8 53h1v1h-1zM11 53h1v1h-1zM22 54h1v1h-1zM25 54h1v1h-1zM20 55h1v1h-1zM28 55h1v1h-1zM17 56h1v1h-1zM27 56h1v1h-1zM12 58h1v1h-1zM18 59h1v1h-1zM13 60h1v1h-1zM14 60h1v1h-1zM25 61h1v1h-1zM27 61h1v1h-1zM28 61h1v1h-1zM30 61h1v1h-1zM18 62h1v1h-1zM22 62h1v1h-1zM28 62h1v1h-1zM10 63h1v1h-1zM23 63h1v1h-1zM26 63h1v1h-1zM8 64h1v1h-1zM11 64h1v1h-1zM16 64h1v1h-1zM22 64h1v1h-1zM28 64h1v1h-1zM29 65h1v1h-1zM8 66h1v1h-1zM21 66h1v1h-1zM24 66h1v1h-1zM25 66h1v1h-1zM27 66h1v1h-1zM8 67h1v1h-1zM12 67h1v1h-1zM20 67h1v1h-1zM10 68h1v1h-1zM11 68h1v1h-1zM23 68h1v1h-1zM24 68h1v1h-1zM16 69h1v1h-1zM18 69h1v1h-1zM28 69h1v1h-1zM4 70h1v1h-1zM9 70h1v1h-1zM10 71h1v1h-1zM15 71h1v1h-1zM23 71h1v1h-1zM10 72h1v1h-1zM11 72h1v1h-1zM16 73h1v1h-1zM27 73h1v1h-1zM11 74h1v1h-1zM12 74h1v1h-1zM26 75h1v1h-1zM8 76h1v1h-1zM11 76h1v1h-1zM19 76h1v1h-1zM20 77h1v1h-1zM24 78h1v1h-1zM11 80h1v1h-1zM10 81h1v1h-1zM15 81h1v1h-1zM16 81h1v1h-1zM17 81h1v1h-1zM9 82h1v1h-1zM14 82h1v1h-1zM25 82h1v1h-1zM17 83h1v1h-1zM9 84h1v1h-1zM16 84h1v1h-1zM21 84h1v1h-1zM23 84h1v1h-1zM12 85h1v1h-1zM12 86h1v1h-1zM23 86h1v1h-1zM14 88h1v1h-1zM17 88h1v1h-1zM13 89h1v1h-1zM28 89h1v1h-1z"/>
<path fill="#dcc8ca" d="M1 0h1v1h-1zM17 0h1v1h-1zM18 0h1v1h-1zM21 0h1v1h-1zM22 0h1v1h-1zM27 0h1v1h-1zM4 1h1v1h-1zM25 1h1v1h-1zM11 3h1v1h-1zM12 3h1v1h-1zM21 3h1v1h-1zM26 3h1v1h-1zM30 3h1v1h-1zM5 4h1v1h-1zM9 4h1v1h-1zM12 4h1v1h-1zM25 4h1v1h-1zM28 4h1v1h-1zM26 7h1v1h-1zM5 8h1v1h-1zM7 8h1v1h-1zM12 8h1v1h-1zM16 8h1v1h-1zM20 8h1v1h-1zM26 8h1v1h-1zM4 9h1v1h-1zM8 9h1v1h-1zM18 9h1v1h-1zM26 9h1v1h-1zM16 11h1v1h-1zM24 11h1v1h-1zM30 14h1v1h-1zM11 15h1v1h-1zM23 15h1v1h-1zM5 17h1v1h-1zM6 17h1v1h-1zM11 17h1v1h-1zM26 17h1v1h-1zM9 18h1v1h-1zM25 18h1v1h-1zM30 18h1v1h-1zM20 19h1v1h-1zM28 19h1v1h-1zM3 20h1v1h-1zM4 21h1v1h-1zM23 21h1v1h-1zM11 22h1v1h-1zM13 22h1v1h-1zM25 22h1v1h-1zM3 23h1v1h-1zM12 25h1v1h-1zM8 26h1v1h-1zM7 27h1v1h-1zM25 27h1v1h-1zM11 28h1v1h-1zM15 28h1v1h-1zM26 28h1v1h-1zM16 29h1v1h-1zM8 30h1v1h-1zM12 30h1v1h-1zM18 30h1v1h-1zM21 30h1v1h-1zM26 30h1v1h-1zM9 32h1v1h-1zM12 32h1v1h-1zM4 33h1v1h-1zM1 34h1v1h-1zM7 34h1v1h-1zM9 34h1v1h-1zM11 34h1v1h-1zM16 34h1v1h-1zM21 34h1v1h-1zM22 34h1v1h-1zM30 34h1v1h-1zM25 35h1v1h-1zM26 35h1v1h-1zM16 37h1v1h-1zM5 39h1v1h-1zM11 39h1v1h-1zM17 39h1v1h-1zM19 39h1v1h-1zM28 39h1v1h-1zM0 40h1v1h-1zM8 40h1v1h-1zM22 40h1v1h-1zM24 41h1v1h-1zM7 42h1v1h-1zM11 42h1v1h-1zM13 43h1v1h-1zM17 43h1v1h-1zM17 44h1v1h-1zM20 44h1v1h-1zM24 44h1v1h-1zM25 44h1v1h-1zM26 44h1v1h-1zM30 45h1v1h-1zM8 46h1v1h-1zM12 46h1v1h-1zM20 46h1v1h-1zM26 46h1v1h-1zM9 47h1v1h-1zM26 47h1v1h-1zM15 48h1v1h-1zM9 50h1v1h-1zM15 50h1v1h-1zM10 51h1v1h-1zM17 52h1v1h-1zM21 52h1v1h-1zM24 52h1v1h-1zM27 54h1v1h-1zM14 55h1v1h-1zM16 55h1v1h-1zM17 55h1v1h-1zM24 55h1v1h-1zM20 57h1v1h-1zM13 58h1v1h-1zM29 58h1v1h-1zM24 59h1v1h-1zM9 61h1v1h-1zM12 61h1v1h-1zM10 62h1v1h-1zM15 62h1v1h-1zM12 64h1v1h-1zM15 64h1v1h-1zM17 64h1v1h-1zM18 64h1v1h-1zM25 64h1v1h-1zM9 65h1v1h-1zM12 66h1v1h-1zM15 66h1v1h-1zM20 66h1v1h-1zM29 66h1v1h-1zM10 67h1v1h-1zM8 68h1v1h-1zM15 68h1v1h-1zM30 68h1v1h-1zM9 69h1v1h-1zM10 69h1v1h-1zM24 69h1v1h-1zM11 70h1v1h-1zM21 70h1v1h-1zM17 72h1v1h-1zM20 72h1v1h-1zM25 72h1v1h-1zM28 72h1v1h-1zM11 73h1v1h-1zM18 74h1v1h-1zM21 74h1v1h-1zM13 75h1v1h-1zM14 75h1v1h-1zM13 76h1v1h-1zM17 76h1v1h-1zM14 77h1v1h-1zM16 77h1v1h-1zM26 79h1v1h-1zM28 79h1v1h-1zM16 80h1v1h-1zM19 80h1v1h-1zM21 80h1v1h-1zM22 80h1v1h-1zM26 80h1v1h-1zM26 81h1v1h-1zM16 82h1v1h-1zM20 82h1v1h-1zM9 83h1v1h-1zM20 84h1v1h-1zM22 84h1v1h-1zM13 85h1v1h-1zM19 85h1v1h-1zM22 85h1v1h-1zM25 85h1v1h-1zM10 86h1v1h-1zM11 86h1v1h-1zM17 86h1v1h-1zM24 86h1v1h-1zM26 87h1v1h-1zM29 88h1v1h-1zM24 89h1v1h-1z"/>
<path fill="#d5b6b8" d="M7 0h1v1h-1zM8 0h1v1h-1zM9 0h1v1h-1zM17 4h1v1h-1zM5 5h1v1h-1zM2 6h1v1h-1zM17 8h1v1h-1zM18 8h1v1h-1zM12 9h1v1h-1zM30 9h1v1h-1zM30 12h1v1h-1zM0 13h1v1h-1zM6 14h1v1h-1zM7 15h1v1h-1zM24 15h1v1h-1zM3 17h1v1h-1zM16 18h1v1h-1zM3 19h1v1h-1zM24 19h1v1h-1zM26 19h1v1h-1zM7 20h1v1h-1zM16 21h1v1h-1zM12 22h1v1h-1zM1 23h1v1h-1zM6 23h1v1h-1zM0 24h1v1h-1zM1 24h1v1h-1zM3 24h1v1h-1zM2 27h1v1h-1zM18 28h1v1h-1zM24 28h1v1h-1zM25 28h1v1h-1zM6 29h1v1h-1zM2 30h1v1h-1zM3 31h1v1h-1zM4 31h1v1h-1zM10 32h1v1h-1zM11 32h1v1h-1zM16 32h1v1h-1zM17 32h1v1h-1zM3 33h1v1h-1zM7 33h1v1h-1zM17 34h1v1h-1zM18 34h1v1h-1zM25 34h1v1h-1zM3 35h1v1h-1zM14 35h1v1h-1zM4 37h1v1h-1zM6 37h1v1h-1zM4 39h1v1h-1zM9 39h1v1h-1zM12 39h1v1h-1zM13 39h1v1h-1zM18 39h1v1h-1zM25 39h1v1h-1zM26 39h1v1h-1zM1 40h1v1h-1zM4 40h1v1h-1zM7 40h1v1h-1zM30 40h1v1h-1zM5 41h1v1h-1zM3 42h1v1h-1zM5 42h1v1h-1zM18 42h1v1h-1zM12 43h1v1h-1zM26 43h1v1h-1zM13 46h1v1h-1zM19 46h1v1h-1zM20 47h1v1h-1zM16 48h1v1h-1zM27 48h1v1h-1zM19 49h1v1h-1zM24 49h1v1h-1zM30 49h1v1h-1zM13 50h1v1h-1zM15 51h1v1h-1zM21 51h1v1h-1zM24 51h1v1h-1zM29 51h1v1h-1zM15 52h1v1h-1zM28 52h1v1h-1zM12 53h1v1h-1zM18 53h1v1h-1zM29 54h1v1h-1zM15 55h1v1h-1zM11 57h1v1h-1zM23 57h1v1h-1zM26 57h1v1h-1zM29 57h1v1h-1zM17 58h1v1h-1zM19 58h1v1h-1zM25 59h1v1h-1zM20 60h1v1h-1zM27 60h1v1h-1zM8 62h1v1h-1zM12 62h1v1h-1zM27 63h1v1h-1zM20 64h1v1h-1zM26 64h1v1h-1zM10 65h1v1h-1zM21 65h1v1h-1zM9 66h1v1h-1zM11 66h1v1h-1zM16 67h1v1h-1zM19 67h1v1h-1zM29 67h1v1h-1zM12 68h1v1h-1zM13 68h1v1h-1zM11 69h1v1h-1zM22 69h1v1h-1zM30 70h1v1h-1zM20 71h1v1h-1zM8 72h1v1h-1zM13 72h1v1h-1zM24 72h1v1h-1zM29 72h1v1h-1zM9 73h1v1h-1zM21 73h1v1h-1zM25 75h1v1h-1zM28 75h1v1h-1zM12 76h1v1h-1zM25 76h1v1h-1zM15 77h1v1h-1zM17 77h1v1h-1zM19 77h1v1h-1zM21 77h1v1h-1zM10 78h1v1h-1zM12 78h1v1h-1zM19 78h1v1h-1zM11 81h1v1h-1zM18 81h1v1h-1zM10 82h1v1h-1zM23 82h1v1h-1zM26 82h1v1h-1zM30 82h1v1h-1zM16 83h1v1h-1zM22 83h1v1h-1zM28 83h1v1h-1zM25 84h1v1h-1zM11 85h1v1h-1zM17 85h1v1h-1zM18 86h1v1h-1zM20 87h1v1h-1zM25 87h1v1h-1zM28 87h1v1h-1zM19 88h1v1h-1z"/>
<path fill="#cda3a5" d="M0 0h1v1h-1zM26 0h1v1h-1zM6 2h1v1h-1zM2 3h1v1h-1zM6 6h1v1h-1zM7 6h1v1h-1zM1 7h1v1h-1zM0 8h1v1h-1zM2 9h1v1h-1zM17 9h1v1h-1zM25 9h1v1h-1zM5 14h1v1h-1zM9 14h1v1h-1zM4 15h1v1h-1zM24 17h1v1h-1zM4 19h1v1h-1zM9 19h1v1h-1zM0 20h1v1h-1zM5 20h1v1h-1zM12 20h1v1h-1zM9 21h1v1h-1zM7 24h1v1h-1zM6 25h1v1h-1zM4 27h1v1h-1zM12 27h1v1h-1zM5 28h1v1h-1zM1 29h1v1h-1zM3 29h1v1h-1zM15 30h1v1h-1zM27 30h1v1h-1zM24 32h1v1h-1zM0 34h1v1h-1zM2 38h1v1h-1zM7 39h1v1h-1zM4 41h1v1h-1zM30 42h1v1h-1zM8 43h1v1h-1zM16 43h1v1h-1zM10 44h1v1h-1zM13 44h1v1h-1zM21 44h1v1h-1zM18 45h1v1h-1zM9 46h1v1h-1zM10 48h1v1h-1zM14 48h1v1h-1zM17 48h1v1h-1zM29 48h1v1h-1zM30 48h1v1h-1zM21 50h1v1h-1zM24 50h1v1h-1zM26 50h1v1h-1zM29 50h1v1h-1zM25 51h1v1h-1zM12 52h1v1h-1zM23 52h1v1h-1zM17 53h1v1h-1zM21 53h1v1h-1zM21 54h1v1h-1zM23 54h1v1h-1zM13 55h1v1h-1zM30 55h1v1h-1zM8 56h1v1h-1zM11 56h1v1h-1zM16 56h1v1h-1zM23 56h1v1h-1zM13 57h1v1h-1zM15 57h1v1h-1zM17 57h1v1h-1zM21 57h1v1h-1zM25 57h1v1h-1zM10 58h1v1h-1zM16 58h1v1h-1zM28 59h1v1h-1zM29 59h1v1h-1zM16 60h1v1h-1zM16 62h1v1h-1zM21 62h1v1h-1zM24 62h1v1h-1zM27 62h1v1h-1zM29 63h1v1h-1zM23 64h1v1h-1zM30 64h1v1h-1zM26 65h1v1h-1zM13 66h1v1h-1zM11 67h1v1h-1zM13 67h1v1h-1zM21 67h1v1h-1zM25 69h1v1h-1zM22 71h1v1h-1zM12 72h1v1h-1zM15 73h1v1h-1zM14 74h1v1h-1zM16 74h1v1h-1zM17 74h1v1h-1zM9 75h1v1h-1zM20 75h1v1h-1zM21 75h1v1h-1zM21 76h1v1h-1zM26 76h1v1h-1zM28 76h1v1h-1zM29 76h1v1h-1zM30 76h1v1h-1zM13 77h1v1h-1zM28 77h1v1h-1zM18 78h1v1h-1zM11 79h1v1h-1zM12 79h1v1h-1zM17 80h1v1h-1zM24 80h1v1h-1zM24 81h1v1h-1zM30 81h1v1h-1zM17 82h1v1h-1zM20 83h1v1h-1zM12 84h1v1h-1zM17 84h1v1h-1zM14 86h1v1h-1zM27 86h1v1h-1zM28 86h1v1h-1zM9 89h1v1h-1zM15 89h1v1h-1z"/>
<path fill="#c69193" d="M3 1h1v1h-1zM7 1h1v1h-1zM11 1h1v1h-1zM0 2h1v1h-1zM3 3h1v1h-1zM4 3h1v1h-1zM6 3h1v1h-1zM25 3h1v1h-1zM4 5h1v1h-1zM25 5h1v1h-1zM26 5h1v1h-1zM1 8h1v1h-1zM30 8h1v1h-1zM11 9h1v1h-1zM4 10h1v1h-1zM2 11h1v1h-1zM6 11h1v1h-1zM7 11h1v1h-1zM5 12h1v1h-1zM6 12h1v1h-1zM3 13h1v1h-1zM7 13h1v1h-1zM0 14h1v1h-1zM1 15h1v1h-1zM2 17h1v1h-1zM4 18h1v1h-1zM6 18h1v1h-1zM2 19h1v1h-1zM5 19h1v1h-1zM4 20h1v1h-1zM1 22h1v1h-1zM2 22h1v1h-1zM4 22h1v1h-1zM0 23h1v1h-1zM26 23h1v1h-1zM1 25h1v1h-1zM3 25h1v1h-1zM5 26h1v1h-1zM2 29h1v1h-1zM5 30h1v1h-1zM11 30h1v1h-1zM20 30h1v1h-1zM30 30h1v1h-1zM2 31h1v1h-1zM30 32h1v1h-1zM0 33h1v1h-1zM4 34h1v1h-1zM7 35h1v1h-1zM7 37h1v1h-1zM3 38h1v1h-1zM7 38h1v1h-1zM1 42h1v1h-1zM9 43h1v1h-1zM25 43h1v1h-1zM13 45h1v1h-1zM23 45h1v1h-1zM25 46h1v1h-1zM27 47h1v1h-1zM29 47h1v1h-1zM18 48h1v1h-1zM12 50h1v1h-1zM8 51h1v1h-1zM10 52h1v1h-1zM25 52h1v1h-1zM26 53h1v1h-1zM14 54h1v1h-1zM15 54h1v1h-1zM17 54h1v1h-1zM19 54h1v1h-1zM10 55h1v1h-1zM11 55h1v1h-1zM15 56h1v1h-1zM22 56h1v1h-1zM30 57h1v1h-1zM25 58h1v1h-1zM8 59h1v1h-1zM29 60h1v1h-1zM8 61h1v1h-1zM17 61h1v1h-1zM19 61h1v1h-1zM21 61h1v1h-1zM25 62h1v1h-1zM29 62h1v1h-1zM9 63h1v1h-1zM12 63h1v1h-1zM9 64h1v1h-1zM13 64h1v1h-1zM11 65h1v1h-1zM30 66h1v1h-1zM23 67h1v1h-1zM30 67h1v1h-1zM21 68h1v1h-1zM27 68h1v1h-1zM29 68h1v1h-1zM12 70h1v1h-1zM16 70h1v1h-1zM15 72h1v1h-1zM8 73h1v1h-1zM10 73h1v1h-1zM23 73h1v1h-1zM15 74h1v1h-1zM16 75h1v1h-1zM18 75h1v1h-1zM23 75h1v1h-1zM27 75h1v1h-1zM15 76h1v1h-1zM25 77h1v1h-1zM29 77h1v1h-1zM26 78h1v1h-1zM21 79h1v1h-1zM30 79h1v1h-1zM12 80h1v1h-1zM9 81h1v1h-1zM21 81h1v1h-1zM27 81h1v1h-1zM11 82h1v1h-1zM28 82h1v1h-1zM29 82h1v1h-1zM14 83h1v1h-1zM18 83h1v1h-1zM26 84h1v1h-1zM27 84h1v1h-1zM14 85h1v1h-1zM16 85h1v1h-1zM18 85h1v1h-1zM20 85h1v1h-1zM27 85h1v1h-1zM26 86h1v1h-1zM29 86h1v1h-1zM30 86h1v1h-1zM30 88h1v1h-1zM14 89h1v1h-1zM23 89h1v1h-1zM29 89h1v1h-1z"/>
<path fill="#bd7f81" d="M2 0h1v1h-1zM0 1h1v1h-1zM4 2h1v1h-1zM5 2h1v1h-1zM7 2h1v1h-1zM4 4h1v1h-1zM2 7h1v1h-1zM6 8h1v1h-1zM0 10h1v1h-1zM2 10h1v1h-1zM5 10h1v1h-1zM7 10h1v1h-1zM4 11h1v1h-1zM1 13h1v1h-1zM5 13h1v1h-1zM5 16h1v1h-1zM0 18h1v1h-1zM1 20h1v1h-1zM0 21h1v1h-1zM6 21h1v1h-1zM5 22h1v1h-1zM7 23h1v1h-1zM4 25h1v1h-1zM4 26h1v1h-1zM6 27h1v1h-1zM0 29h1v1h-1zM7 29h1v1h-1zM0 32h1v1h-1zM2 32h1v1h-1zM18 32h1v1h-1zM6 33h1v1h-1zM1 35h1v1h-1zM5 35h1v1h-1zM0 37h1v1h-1zM0 38h1v1h-1zM1 38h1v1h-1zM2 40h1v1h-1zM3 40h1v1h-1zM1 41h1v1h-1zM7 41h1v1h-1zM0 42h1v1h-1zM4 42h1v1h-1zM6 42h1v1h-1zM30 43h1v1h-1zM16 46h1v1h-1zM17 46h1v1h-1zM21 46h1v1h-1zM24 48h1v1h-1zM27 50h1v1h-1zM30 50h1v1h-1zM26 51h1v1h-1zM8 52h1v1h-1zM14 52h1v1h-1zM16 53h1v1h-1zM12 54h1v1h-1zM20 54h1v1h-1zM25 55h1v1h-1zM13 56h1v1h-1zM14 56h1v1h-1zM24 56h1v1h-1zM9 57h1v1h-1zM28 57h1v1h-1zM23 60h1v1h-1zM28 60h1v1h-1zM24 61h1v1h-1zM11 62h1v1h-1zM13 62h1v1h-1zM17 62h1v1h-1zM30 63h1v1h-1zM19 64h1v1h-1zM20 65h1v1h-1zM30 65h1v1h-1zM18 66h1v1h-1zM22 66h1v1h-1zM25 67h1v1h-1zM22 68h1v1h-1zM26 68h1v1h-1zM21 69h1v1h-1zM25 71h1v1h-1zM30 71h1v1h-1zM9 72h1v1h-1zM12 73h1v1h-1zM28 73h1v1h-1zM11 75h1v1h-1zM19 75h1v1h-1zM30 77h1v1h-1zM23 78h1v1h-1zM10 79h1v1h-1zM22 79h1v1h-1zM9 80h1v1h-1zM20 80h1v1h-1zM13 83h1v1h-1zM23 83h1v1h-1zM24 83h1v1h-1zM26 83h1v1h-1zM27 83h1v1h-1zM8 85h1v1h-1zM9 85h1v1h-1zM21 86h1v1h-1zM10 88h1v1h-1zM11 88h1v1h-1zM20 88h1v1h-1zM10 89h1v1h-1zM11 89h1v1h-1zM19 89h1v1h-1zM22 89h1v1h-1zM25 89h1v1h-1zM30 89h1v1h-1z"/>
<path fill="#b46f71" d="M4 0h1v1h-1zM1 1h1v1h-1zM3 5h1v1h-1zM4 6h1v1h-1zM13 9h1v1h-1zM6 10h1v1h-1zM0 11h1v1h-1zM5 11h1v1h-1zM0 12h1v1h-1zM1 12h1v1h-1zM6 13h1v1h-1zM2 21h1v1h-1zM4 23h1v1h-1zM4 24h1v1h-1zM0 31h1v1h-1zM2 35h1v1h-1zM6 35h1v1h-1zM7 36h1v1h-1zM1 37h1v1h-1zM5 38h1v1h-1zM5 40h1v1h-1zM2 41h1v1h-1zM3 41h1v1h-1zM24 45h1v1h-1zM30 46h1v1h-1zM13 48h1v1h-1zM26 49h1v1h-1zM10 50h1v1h-1zM11 50h1v1h-1zM17 50h1v1h-1zM11 51h1v1h-1zM30 52h1v1h-1zM24 53h1v1h-1zM28 56h1v1h-1zM16 57h1v1h-1zM22 58h1v1h-1zM24 58h1v1h-1zM28 58h1v1h-1zM8 60h1v1h-1zM22 60h1v1h-1zM24 60h1v1h-1zM25 60h1v1h-1zM9 62h1v1h-1zM25 63h1v1h-1zM8 65h1v1h-1zM13 65h1v1h-1zM19 66h1v1h-1zM9 68h1v1h-1zM25 68h1v1h-1zM8 71h1v1h-1zM30 72h1v1h-1zM30 73h1v1h-1zM24 74h1v1h-1zM25 74h1v1h-1zM30 75h1v1h-1zM16 76h1v1h-1zM9 77h1v1h-1zM18 77h1v1h-1zM22 78h1v1h-1zM18 79h1v1h-1zM20 79h1v1h-1zM12 81h1v1h-1zM10 83h1v1h-1zM11 83h1v1h-1zM10 85h1v1h-1zM21 85h1v1h-1zM30 85h1v1h-1zM9 86h1v1h-1zM8 88h1v1h-1zM18 89h1v1h-1zM20 89h1v1h-1z"/>
<path fill="#ab5e60" d="M1 3h1v1h-1zM1 6h1v1h-1zM3 6h1v1h-1zM4 12h1v1h-1zM1 14h1v1h-1zM4 14h1v1h-1zM7 16h1v1h-1zM1 17h1v1h-1zM1 21h1v1h-1zM5 21h1v1h-1zM2 24h1v1h-1zM6 24h1v1h-1zM7 25h1v1h-1zM4 29h1v1h-1zM5 29h1v1h-1zM2 34h1v1h-1zM3 34h1v1h-1zM3 37h1v1h-1zM6 38h1v1h-1zM0 41h1v1h-1zM24 43h1v1h-1zM29 43h1v1h-1zM11 48h1v1h-1zM20 49h1v1h-1zM21 49h1v1h-1zM25 50h1v1h-1zM16 52h1v1h-1zM11 54h1v1h-1zM18 54h1v1h-1zM21 56h1v1h-1zM14 57h1v1h-1zM26 60h1v1h-1zM30 60h1v1h-1zM13 61h1v1h-1zM14 62h1v1h-1zM30 62h1v1h-1zM22 63h1v1h-1zM21 64h1v1h-1zM18 67h1v1h-1zM14 73h1v1h-1zM26 73h1v1h-1zM29 75h1v1h-1zM16 78h1v1h-1zM25 79h1v1h-1zM13 80h1v1h-1zM14 80h1v1h-1zM29 80h1v1h-1zM12 82h1v1h-1zM15 83h1v1h-1zM30 83h1v1h-1zM13 86h1v1h-1zM15 88h1v1h-1zM18 88h1v1h-1zM26 88h1v1h-1zM28 88h1v1h-1zM8 89h1v1h-1zM16 89h1v1h-1zM17 89h1v1h-1zM27 89h1v1h-1z"/>
<path fill="#a14d4f" d="M2 2h1v1h-1zM6 5h1v1h-1zM3 7h1v1h-1zM6 7h1v1h-1zM7 12h1v1h-1zM2 14h1v1h-1zM6 16h1v1h-1zM3 21h1v1h-1zM5 23h1v1h-1zM7 26h1v1h-1zM5 27h1v1h-1zM1 32h1v1h-1zM4 36h1v1h-1zM21 48h1v1h-1zM30 51h1v1h-1zM24 54h1v1h-1zM9 56h1v1h-1zM10 56h1v1h-1zM23 58h1v1h-1zM11 60h1v1h-1zM12 60h1v1h-1zM16 61h1v1h-1zM23 62h1v1h-1zM18 65h1v1h-1zM28 66h1v1h-1zM16 68h1v1h-1zM20 68h1v1h-1zM26 74h1v1h-1zM17 75h1v1h-1zM24 75h1v1h-1zM12 77h1v1h-1zM9 79h1v1h-1zM10 80h1v1h-1zM15 80h1v1h-1zM30 80h1v1h-1zM19 83h1v1h-1zM12 89h1v1h-1zM26 89h1v1h-1z"/>
<path fill="#983b3f" d="M6 1h1v1h-1zM0 7h1v1h-1zM1 11h1v1h-1zM3 12h1v1h-1zM0 16h1v1h-1zM1 16h1v1h-1zM2 16h1v1h-1zM0 17h1v1h-1zM1 18h1v1h-1zM0 25h1v1h-1zM3 26h1v1h-1zM0 27h1v1h-1zM1 27h1v1h-1zM6 31h1v1h-1zM1 36h1v1h-1zM6 36h1v1h-1zM6 41h1v1h-1zM30 47h1v1h-1zM9 48h1v1h-1zM12 48h1v1h-1zM16 50h1v1h-1zM20 52h1v1h-1zM28 54h1v1h-1zM26 56h1v1h-1zM14 65h1v1h-1zM9 67h1v1h-1zM17 68h1v1h-1zM26 72h1v1h-1zM20 73h1v1h-1zM22 73h1v1h-1zM29 73h1v1h-1zM10 75h1v1h-1zM18 76h1v1h-1zM22 77h1v1h-1zM17 79h1v1h-1zM19 79h1v1h-1zM28 80h1v1h-1zM12 88h1v1h-1zM21 88h1v1h-1z"/>
<path fill="#8e2a2e" d="M2 1h1v1h-1zM1 2h1v1h-1zM3 2h1v1h-1zM0 6h1v1h-1zM4 7h1v1h-1zM7 7h1v1h-1zM2 12h1v1h-1zM2 13h1v1h-1zM4 13h1v1h-1zM7 14h1v1h-1zM6 15h1v1h-1zM3 16h1v1h-1zM4 16h1v1h-1zM0 26h1v1h-1zM1 26h1v1h-1zM2 26h1v1h-1zM3 27h1v1h-1zM1 31h1v1h-1zM0 36h1v1h-1zM2 36h1v1h-1zM3 36h1v1h-1zM5 36h1v1h-1zM22 43h1v1h-1zM8 48h1v1h-1zM25 48h1v1h-1zM26 48h1v1h-1zM18 52h1v1h-1zM16 54h1v1h-1zM18 56h1v1h-1zM25 56h1v1h-1zM19 62h1v1h-1zM26 62h1v1h-1zM16 65h1v1h-1zM26 67h1v1h-1zM18 72h1v1h-1zM13 73h1v1h-1zM17 73h1v1h-1zM24 73h1v1h-1zM25 73h1v1h-1zM30 74h1v1h-1zM27 77h1v1h-1zM18 80h1v1h-1zM12 83h1v1h-1zM21 83h1v1h-1zM25 83h1v1h-1zM29 83h1v1h-1zM16 86h1v1h-1zM25 86h1v1h-1zM9 88h1v1h-1zM16 88h1v1h-1zM22 88h1v1h-1zM23 88h1v1h-1zM24 88h1v1h-1zM25 88h1v1h-1zM21 89h1v1h-1z"/>
</g>
<rect x="52.3" y="55.5" width="140.7" height="110.2" fill="none" stroke="#9aa" stroke-width="0.4"/>
<rect x="52.3" y="32" width="140.7" height="7.2" fill="#fff" stroke="#888" stroke-width="0.6"/>
<rect x="61.38" y="32" width="31.77" height="7.2" fill="#111"/>
<rect x="97.69" y="32" width="4.54" height="7.2" fill="#111"/>
<rect x="106.76" y="32" width="4.54" height="7.2" fill="#111"/>
<rect x="124.92" y="32" width="9.08" height="7.2" fill="#111"/>
<rect x="52.3" y="40.4" width="140.7" height="6.7" fill="#fff" stroke="#888" stroke-width="0.6"/>
<rect x="138.54" y="40.4" width="18.15" height="6.7" fill="#111"/>
<rect x="161.23" y="40.4" width="31.77" height="6.7" fill="#111"/>
<rect x="52.3" y="48" width="36.31" height="6.8" fill="#7f9a35"/>
<rect x="88.61" y="48" width="104.39" height="6.8" fill="#d0681e"/>
<text x="48.8" y="37.69" font-size="5.8" text-anchor="end" fill="#111">t(11;14)</text>
<text x="48.8" y="45.89" font-size="5.8" text-anchor="end" fill="#111">t(4;14)</text>
<path d="M59.11 19.5L90.88 20.5M61.38 19.5V22.09M59.11 31V22.09H63.65V31M70.45 19.79V22.49M68.19 31V22.49H72.72V31M77.26 20.07V31M84.07 20.21V21.74M81.8 31V21.74H86.34V31M90.88 20.5V31M95.42 21.5L190.73 23.5M95.42 21.5V31M102.23 21.6V23.56M99.96 31V23.56H104.5V31M109.03 21.79V31M113.57 21.88V31M118.11 21.98V31M122.65 22.07V31M127.19 22.17V31M134 22.26V25.03M131.73 31V25.03H136.27V31M140.8 22.45V31M145.34 22.55V31M149.88 22.64V31M154.42 22.74V31M161.23 22.83V25.85M158.96 31V25.85H163.5V31M168.04 23.02V31M174.85 23.12V24.68M172.58 31V24.68H177.11V31M181.65 23.31V31M186.19 23.4V31M190.73 23.5V31M54.57 31V17.2H93.15 V19.5M93.15 17.2V21.5" fill="none" stroke="#777" stroke-width="0.55"/>
<defs><linearGradient id="gA" x1="0" y1="0" x2="0" y2="1"><stop offset="0" stop-color="#8a9c50"/><stop offset="0.02" stop-color="#aebb84"/><stop offset="0.18" stop-color="#cdd5b2"/><stop offset="0.47" stop-color="#eaede0"/><stop offset="0.475" stop-color="#fcf0e4"/><stop offset="0.85" stop-color="#f9e2cb"/><stop offset="1" stop-color="#eeb47c"/></linearGradient><linearGradient id="gB" x1="0" y1="0" x2="0" y2="1"><stop offset="0" stop-color="#8a9c50"/><stop offset="0.015" stop-color="#aebb84"/><stop offset="0.22" stop-color="#cdd5b2"/><stop offset="0.745" stop-color="#eaede0"/><stop offset="0.75" stop-color="#fcf0e4"/><stop offset="0.9" stop-color="#f9e2cb"/><stop offset="1" stop-color="#eeb47c"/></linearGradient><linearGradient id="gZ" x1="0" y1="0" x2="0" y2="1"><stop offset="0" stop-color="#67001f"/><stop offset="0.2" stop-color="#c0504a"/><stop offset="0.5" stop-color="#ffffff"/><stop offset="0.8" stop-color="#6080b8"/><stop offset="1" stop-color="#0c1a50"/></linearGradient></defs>
<rect x="41.8" y="55.5" width="9.5" height="110.2" fill="url(#gA)" stroke="#aaa" stroke-width="0.5"/>
<rect x="26.7" y="68" width="4" height="41.7" fill="url(#gZ)"/>
<line x1="30.7" y1="68" x2="31.9" y2="68" stroke="#555" stroke-width="0.5"/>
<line x1="30.7" y1="78.4" x2="31.9" y2="78.4" stroke="#555" stroke-width="0.5"/>
<line x1="30.7" y1="88.8" x2="31.9" y2="88.8" stroke="#555" stroke-width="0.5"/>
<line x1="30.7" y1="99.2" x2="31.9" y2="99.2" stroke="#555" stroke-width="0.5"/>
<line x1="30.7" y1="109.6" x2="31.9" y2="109.6" stroke="#555" stroke-width="0.5"/>
<text x="36.6" y="70.1" font-size="6.4" text-anchor="middle" fill="#333">2</text>
<text x="37.3" y="111.9" font-size="6.4" text-anchor="middle" fill="#333">-2</text>
<text transform="translate(20,88.8) rotate(-90)" x="0" y="2.52" font-size="7" text-anchor="middle" fill="#333">z-score</text>
<text transform="translate(54.57,169.0) rotate(-90)" x="0" y="1.9" font-size="5.4" text-anchor="end" fill="#111">PCM6</text>
<text transform="translate(59.11,169.0) rotate(-90)" x="0" y="1.9" font-size="5.4" text-anchor="end" fill="#111">OCI-MY5</text>
<text transform="translate(63.65,169.0) rotate(-90)" x="0" y="1.9" font-size="5.4" text-anchor="end" fill="#111">KMS12PE</text>
<text transform="translate(68.19,169.0) rotate(-90)" x="0" y="1.9" font-size="5.4" text-anchor="end" fill="#111">KMS12BM</text>
<text transform="translate(72.72,169.0) rotate(-90)" x="0" y="1.9" font-size="5.4" text-anchor="end" fill="#111">U266</text>
<text transform="translate(77.26,169.0) rotate(-90)" x="0" y="1.9" font-size="5.4" text-anchor="end" fill="#111">XG1</text>
<text transform="translate(81.8,169.0) rotate(-90)" x="0" y="1.9" font-size="5.4" text-anchor="end" fill="#111">JJN3</text>
<text transform="translate(86.34,169.0) rotate(-90)" x="0" y="1.9" font-size="5.4" text-anchor="end" fill="#111">EJM</text>
<text transform="translate(90.88,169.0) rotate(-90)" x="0" y="1.9" font-size="5.4" text-anchor="end" fill="#111">RPMI8226</text>
<text transform="translate(95.42,169.0) rotate(-90)" x="0" y="1.9" font-size="5.4" text-anchor="end" fill="#111">MOLP2</text>
<text transform="translate(99.96,169.0) rotate(-90)" x="0" y="1.9" font-size="5.4" text-anchor="end" fill="#111">KMS20</text>
<text transform="translate(104.5,169.0) rotate(-90)" x="0" y="1.9" font-size="5.4" text-anchor="end" fill="#111">L363</text>
<text transform="translate(109.03,169.0) rotate(-90)" x="0" y="1.9" font-size="5.4" text-anchor="end" fill="#111">KMS27</text>
<text transform="translate(113.57,169.0) rotate(-90)" x="0" y="1.9" font-size="5.4" text-anchor="end" fill="#111">SKMM2</text>
<text transform="translate(118.11,169.0) rotate(-90)" x="0" y="1.9" font-size="5.4" text-anchor="end" fill="#111">LP1</text>
<text transform="translate(122.65,169.0) rotate(-90)" x="0" y="1.9" font-size="5.4" text-anchor="end" fill="#111">MM1S</text>
<text transform="translate(127.19,169.0) rotate(-90)" x="0" y="1.9" font-size="5.4" text-anchor="end" fill="#111">KMS21BM</text>
<text transform="translate(131.73,169.0) rotate(-90)" x="0" y="1.9" font-size="5.4" text-anchor="end" fill="#111">Karpas620</text>
<text transform="translate(136.27,169.0) rotate(-90)" x="0" y="1.9" font-size="5.4" text-anchor="end" fill="#111">KHM11</text>
<text transform="translate(140.8,169.0) rotate(-90)" x="0" y="1.9" font-size="5.4" text-anchor="end" fill="#111">KMS18</text>
<text transform="translate(145.34,169.0) rotate(-90)" x="0" y="1.9" font-size="5.4" text-anchor="end" fill="#111">AMO1</text>
<text transform="translate(149.88,169.0) rotate(-90)" x="0" y="1.9" font-size="5.4" text-anchor="end" fill="#111">MOLP8</text>
<text transform="translate(154.42,169.0) rotate(-90)" x="0" y="1.9" font-size="5.4" text-anchor="end" fill="#111">OPM2</text>
<text transform="translate(158.96,169.0) rotate(-90)" x="0" y="1.9" font-size="5.4" text-anchor="end" fill="#111">KMS11</text>
<text transform="translate(163.5,169.0) rotate(-90)" x="0" y="1.9" font-size="5.4" text-anchor="end" fill="#111">NCIH929</text>
<text transform="translate(168.04,169.0) rotate(-90)" x="0" y="1.9" font-size="5.4" text-anchor="end" fill="#111">KMS28BM</text>
<text transform="translate(172.58,169.0) rotate(-90)" x="0" y="1.9" font-size="5.4" text-anchor="end" fill="#111">KMS26</text>
<text transform="translate(177.11,169.0) rotate(-90)" x="0" y="1.9" font-size="5.4" text-anchor="end" fill="#111">KMS28PE</text>
<text transform="translate(181.65,169.0) rotate(-90)" x="0" y="1.9" font-size="5.4" text-anchor="end" fill="#111">XG7</text>
<text transform="translate(186.19,169.0) rotate(-90)" x="0" y="1.9" font-size="5.4" text-anchor="end" fill="#111">KMS34</text>
<text transform="translate(190.73,169.0) rotate(-90)" x="0" y="1.9" font-size="5.4" text-anchor="end" fill="#111">XG2</text>
<g transform="translate(219.6,54) scale(5.5680,1.2389)" shape-rendering="crispEdges">
<path fill="#626c96" d="M19 11h1v1h-1zM23 25h1v1h-1z"/>
<path fill="#6e779f" d="M7 62h1v1h-1zM12 88h1v1h-1z"/>
<path fill="#7a83a8" d="M13 0h1v1h-1zM20 0h1v1h-1zM10 15h1v1h-1zM23 56h1v1h-1zM21 61h1v1h-1zM15 64h1v1h-1z"/>
<path fill="#858eb1" d="M19 0h1v1h-1zM17 8h1v1h-1zM22 10h1v1h-1zM23 13h1v1h-1zM11 25h1v1h-1zM8 28h1v1h-1zM17 36h1v1h-1zM23 36h1v1h-1zM15 39h1v1h-1zM7 50h1v1h-1zM20 55h1v1h-1zM21 64h1v1h-1zM15 65h1v1h-1zM12 71h1v1h-1zM11 74h1v1h-1zM24 74h1v1h-1z"/>
<path fill="#919aba" d="M11 0h1v1h-1zM20 2h1v1h-1zM10 5h1v1h-1zM24 9h1v1h-1zM19 10h1v1h-1zM12 11h1v1h-1zM24 12h1v1h-1zM14 13h1v1h-1zM15 13h1v1h-1zM16 13h1v1h-1zM13 20h1v1h-1zM19 20h1v1h-1zM5 22h1v1h-1zM24 22h1v1h-1zM20 40h1v1h-1zM20 41h1v1h-1zM24 42h1v1h-1zM19 43h1v1h-1zM22 45h1v1h-1zM14 47h1v1h-1zM16 47h1v1h-1zM12 49h1v1h-1zM14 49h1v1h-1zM23 57h1v1h-1zM11 58h1v1h-1zM12 58h1v1h-1zM23 59h1v1h-1zM19 62h1v1h-1zM18 64h1v1h-1zM23 64h1v1h-1zM14 65h1v1h-1zM21 65h1v1h-1zM20 66h1v1h-1zM14 67h1v1h-1zM19 67h1v1h-1zM9 68h1v1h-1zM19 71h1v1h-1zM20 71h1v1h-1zM6 72h1v1h-1zM9 82h1v1h-1zM23 83h1v1h-1zM2 84h1v1h-1z"/>
<path fill="#9da5c3" d="M12 0h1v1h-1zM15 0h1v1h-1zM21 0h1v1h-1zM24 0h1v1h-1zM11 2h1v1h-1zM22 2h1v1h-1zM18 5h1v1h-1zM22 5h1v1h-1zM18 6h1v1h-1zM24 7h1v1h-1zM13 8h1v1h-1zM21 8h1v1h-1zM23 10h1v1h-1zM13 12h1v1h-1zM19 14h1v1h-1zM17 17h1v1h-1zM15 20h1v1h-1zM18 23h1v1h-1zM19 28h1v1h-1zM13 30h1v1h-1zM22 30h1v1h-1zM19 32h1v1h-1zM17 35h1v1h-1zM18 37h1v1h-1zM21 39h1v1h-1zM22 39h1v1h-1zM21 42h1v1h-1zM13 43h1v1h-1zM15 44h1v1h-1zM24 44h1v1h-1zM17 45h1v1h-1zM9 47h1v1h-1zM11 47h1v1h-1zM11 48h1v1h-1zM20 49h1v1h-1zM5 53h1v1h-1zM11 55h1v1h-1zM22 58h1v1h-1zM9 60h1v1h-1zM14 61h1v1h-1zM17 61h1v1h-1zM10 62h1v1h-1zM11 64h1v1h-1zM12 64h1v1h-1zM11 65h1v1h-1zM13 65h1v1h-1zM24 65h1v1h-1zM6 68h1v1h-1zM7 68h1v1h-1zM8 68h1v1h-1zM20 69h1v1h-1zM17 73h1v1h-1zM12 74h1v1h-1zM21 74h1v1h-1zM6 78h1v1h-1zM6 84h1v1h-1zM0 87h1v1h-1z"/>
<path fill="#a9b1cc" d="M14 0h1v1h-1zM16 0h1v1h-1zM16 2h1v1h-1zM14 4h1v1h-1zM16 4h1v1h-1zM13 6h1v1h-1zM19 6h1v1h-1zM13 7h1v1h-1zM16 8h1v1h-1zM7 9h1v1h-1zM16 9h1v1h-1zM8 10h1v1h-1zM15 10h1v1h-1zM14 11h1v1h-1zM6 12h1v1h-1zM12 12h1v1h-1zM19 12h1v1h-1zM21 12h1v1h-1zM14 15h1v1h-1zM21 16h1v1h-1zM23 16h1v1h-1zM24 18h1v1h-1zM18 19h1v1h-1zM19 19h1v1h-1zM12 20h1v1h-1zM21 20h1v1h-1zM6 23h1v1h-1zM11 23h1v1h-1zM15 24h1v1h-1zM16 24h1v1h-1zM23 26h1v1h-1zM15 27h1v1h-1zM19 27h1v1h-1zM7 28h1v1h-1zM24 28h1v1h-1zM24 30h1v1h-1zM15 31h1v1h-1zM22 31h1v1h-1zM20 33h1v1h-1zM20 34h1v1h-1zM16 35h1v1h-1zM10 36h1v1h-1zM22 36h1v1h-1zM22 37h1v1h-1zM23 37h1v1h-1zM24 37h1v1h-1zM13 38h1v1h-1zM15 38h1v1h-1zM17 39h1v1h-1zM16 41h1v1h-1zM18 41h1v1h-1zM23 42h1v1h-1zM23 44h1v1h-1zM19 45h1v1h-1zM8 46h1v1h-1zM19 46h1v1h-1zM15 47h1v1h-1zM9 48h1v1h-1zM14 48h1v1h-1zM2 49h1v1h-1zM7 49h1v1h-1zM15 49h1v1h-1zM22 49h1v1h-1zM12 52h1v1h-1zM13 53h1v1h-1zM15 53h1v1h-1zM21 53h1v1h-1zM24 54h1v1h-1zM19 55h1v1h-1zM18 56h1v1h-1zM18 58h1v1h-1zM10 61h1v1h-1zM11 61h1v1h-1zM15 61h1v1h-1zM13 62h1v1h-1zM10 63h1v1h-1zM22 64h1v1h-1zM17 65h1v1h-1zM19 65h1v1h-1zM13 66h1v1h-1zM15 66h1v1h-1zM22 67h1v1h-1zM24 67h1v1h-1zM2 68h1v1h-1zM10 68h1v1h-1zM8 69h1v1h-1zM7 70h1v1h-1zM13 71h1v1h-1zM3 72h1v1h-1zM6 80h1v1h-1zM1 81h1v1h-1zM9 81h1v1h-1zM10 83h1v1h-1zM1 84h1v1h-1zM5 84h1v1h-1zM8 84h1v1h-1zM10 84h1v1h-1zM4 85h1v1h-1zM6 86h1v1h-1zM1 88h1v1h-1z"/>
<path fill="#b5bcd3" d="M18 0h1v1h-1zM13 1h1v1h-1zM24 1h1v1h-1zM12 2h1v1h-1zM13 2h1v1h-1zM18 2h1v1h-1zM19 4h1v1h-1zM11 5h1v1h-1zM16 6h1v1h-1zM14 7h1v1h-1zM19 8h1v1h-1zM14 9h1v1h-1zM19 9h1v1h-1zM20 9h1v1h-1zM14 10h1v1h-1zM17 10h1v1h-1zM24 10h1v1h-1zM17 11h1v1h-1zM22 11h1v1h-1zM14 14h1v1h-1zM17 14h1v1h-1zM18 14h1v1h-1zM17 15h1v1h-1zM13 16h1v1h-1zM15 16h1v1h-1zM14 17h1v1h-1zM18 17h1v1h-1zM20 17h1v1h-1zM21 17h1v1h-1zM23 17h1v1h-1zM24 17h1v1h-1zM13 18h1v1h-1zM20 18h1v1h-1zM24 20h1v1h-1zM7 21h1v1h-1zM13 22h1v1h-1zM23 23h1v1h-1zM12 24h1v1h-1zM14 24h1v1h-1zM19 24h1v1h-1zM20 24h1v1h-1zM22 24h1v1h-1zM0 27h1v1h-1zM18 27h1v1h-1zM24 27h1v1h-1zM3 28h1v1h-1zM11 29h1v1h-1zM14 29h1v1h-1zM6 30h1v1h-1zM17 30h1v1h-1zM21 31h1v1h-1zM1 34h1v1h-1zM19 37h1v1h-1zM14 38h1v1h-1zM19 38h1v1h-1zM20 38h1v1h-1zM23 38h1v1h-1zM24 38h1v1h-1zM11 39h1v1h-1zM13 39h1v1h-1zM14 39h1v1h-1zM19 39h1v1h-1zM11 40h1v1h-1zM12 41h1v1h-1zM11 42h1v1h-1zM14 42h1v1h-1zM15 42h1v1h-1zM12 43h1v1h-1zM16 43h1v1h-1zM20 43h1v1h-1zM19 44h1v1h-1zM21 45h1v1h-1zM17 46h1v1h-1zM13 47h1v1h-1zM12 48h1v1h-1zM11 49h1v1h-1zM8 50h1v1h-1zM24 50h1v1h-1zM13 51h1v1h-1zM15 51h1v1h-1zM16 51h1v1h-1zM17 51h1v1h-1zM21 51h1v1h-1zM13 52h1v1h-1zM16 53h1v1h-1zM12 54h1v1h-1zM16 54h1v1h-1zM20 54h1v1h-1zM21 54h1v1h-1zM17 56h1v1h-1zM7 57h1v1h-1zM9 57h1v1h-1zM10 57h1v1h-1zM13 57h1v1h-1zM14 58h1v1h-1zM15 58h1v1h-1zM17 58h1v1h-1zM13 59h1v1h-1zM14 59h1v1h-1zM15 59h1v1h-1zM4 60h1v1h-1zM6 60h1v1h-1zM8 60h1v1h-1zM12 61h1v1h-1zM20 61h1v1h-1zM15 63h1v1h-1zM16 64h1v1h-1zM20 65h1v1h-1zM12 66h1v1h-1zM18 66h1v1h-1zM15 67h1v1h-1zM21 67h1v1h-1zM0 68h1v1h-1zM3 69h1v1h-1zM7 69h1v1h-1zM9 69h1v1h-1zM0 70h1v1h-1zM24 70h1v1h-1zM17 71h1v1h-1zM0 72h1v1h-1zM2 72h1v1h-1zM5 72h1v1h-1zM10 72h1v1h-1zM10 73h1v1h-1zM8 75h1v1h-1zM10 75h1v1h-1zM20 75h1v1h-1zM1 76h1v1h-1zM4 76h1v1h-1zM22 76h1v1h-1zM17 77h1v1h-1zM0 78h1v1h-1zM3 78h1v1h-1zM7 78h1v1h-1zM8 78h1v1h-1zM4 80h1v1h-1zM7 80h1v1h-1zM8 80h1v1h-1zM10 82h1v1h-1zM2 83h1v1h-1zM4 83h1v1h-1zM9 84h1v1h-1zM12 85h1v1h-1zM5 86h1v1h-1zM7 86h1v1h-1zM9 86h1v1h-1zM10 87h1v1h-1zM6 88h1v1h-1zM3 89h1v1h-1zM8 89h1v1h-1zM9 89h1v1h-1z"/>
<path fill="#c1c7db" d="M5 1h1v1h-1zM9 1h1v1h-1zM14 2h1v1h-1zM12 3h1v1h-1zM14 3h1v1h-1zM17 4h1v1h-1zM20 4h1v1h-1zM23 5h1v1h-1zM17 6h1v1h-1zM11 7h1v1h-1zM12 7h1v1h-1zM15 7h1v1h-1zM21 7h1v1h-1zM11 8h1v1h-1zM15 8h1v1h-1zM18 8h1v1h-1zM13 9h1v1h-1zM17 9h1v1h-1zM21 9h1v1h-1zM22 9h1v1h-1zM10 10h1v1h-1zM20 11h1v1h-1zM21 11h1v1h-1zM23 11h1v1h-1zM14 12h1v1h-1zM17 12h1v1h-1zM18 12h1v1h-1zM11 13h1v1h-1zM12 13h1v1h-1zM13 13h1v1h-1zM18 13h1v1h-1zM20 13h1v1h-1zM21 13h1v1h-1zM24 13h1v1h-1zM2 14h1v1h-1zM3 14h1v1h-1zM22 14h1v1h-1zM23 14h1v1h-1zM8 15h1v1h-1zM9 15h1v1h-1zM16 15h1v1h-1zM21 15h1v1h-1zM11 16h1v1h-1zM17 16h1v1h-1zM12 18h1v1h-1zM22 19h1v1h-1zM11 20h1v1h-1zM16 20h1v1h-1zM20 20h1v1h-1zM23 20h1v1h-1zM11 22h1v1h-1zM15 22h1v1h-1zM20 22h1v1h-1zM8 23h1v1h-1zM14 23h1v1h-1zM15 23h1v1h-1zM20 23h1v1h-1zM10 25h1v1h-1zM9 26h1v1h-1zM12 26h1v1h-1zM20 26h1v1h-1zM21 26h1v1h-1zM6 28h1v1h-1zM11 28h1v1h-1zM20 28h1v1h-1zM13 29h1v1h-1zM19 29h1v1h-1zM21 29h1v1h-1zM11 30h1v1h-1zM19 30h1v1h-1zM21 30h1v1h-1zM13 31h1v1h-1zM16 31h1v1h-1zM20 31h1v1h-1zM7 32h1v1h-1zM11 33h1v1h-1zM19 33h1v1h-1zM14 34h1v1h-1zM12 35h1v1h-1zM13 35h1v1h-1zM14 35h1v1h-1zM22 35h1v1h-1zM22 38h1v1h-1zM12 39h1v1h-1zM18 39h1v1h-1zM23 39h1v1h-1zM24 39h1v1h-1zM14 40h1v1h-1zM15 40h1v1h-1zM17 40h1v1h-1zM18 40h1v1h-1zM2 41h1v1h-1zM14 41h1v1h-1zM10 42h1v1h-1zM15 43h1v1h-1zM21 43h1v1h-1zM22 43h1v1h-1zM14 44h1v1h-1zM20 44h1v1h-1zM5 45h1v1h-1zM12 45h1v1h-1zM24 45h1v1h-1zM13 46h1v1h-1zM20 46h1v1h-1zM22 46h1v1h-1zM23 46h1v1h-1zM21 47h1v1h-1zM24 47h1v1h-1zM17 49h1v1h-1zM23 49h1v1h-1zM24 49h1v1h-1zM6 50h1v1h-1zM11 50h1v1h-1zM12 50h1v1h-1zM13 50h1v1h-1zM14 50h1v1h-1zM15 50h1v1h-1zM22 50h1v1h-1zM19 51h1v1h-1zM24 51h1v1h-1zM16 52h1v1h-1zM19 52h1v1h-1zM23 52h1v1h-1zM24 52h1v1h-1zM8 53h1v1h-1zM24 53h1v1h-1zM15 54h1v1h-1zM18 54h1v1h-1zM22 54h1v1h-1zM23 54h1v1h-1zM24 55h1v1h-1zM20 56h1v1h-1zM24 56h1v1h-1zM3 57h1v1h-1zM16 58h1v1h-1zM16 59h1v1h-1zM18 59h1v1h-1zM21 59h1v1h-1zM0 60h1v1h-1zM18 60h1v1h-1zM8 61h1v1h-1zM13 61h1v1h-1zM22 61h1v1h-1zM24 61h1v1h-1zM13 63h1v1h-1zM24 64h1v1h-1zM23 65h1v1h-1zM11 66h1v1h-1zM17 66h1v1h-1zM19 66h1v1h-1zM23 66h1v1h-1zM24 66h1v1h-1zM18 67h1v1h-1zM20 67h1v1h-1zM1 68h1v1h-1zM0 69h1v1h-1zM2 69h1v1h-1zM6 69h1v1h-1zM6 70h1v1h-1zM9 70h1v1h-1zM10 70h1v1h-1zM23 71h1v1h-1zM7 72h1v1h-1zM9 72h1v1h-1zM22 74h1v1h-1zM23 74h1v1h-1zM5 75h1v1h-1zM15 75h1v1h-1zM16 75h1v1h-1zM10 76h1v1h-1zM20 76h1v1h-1zM2 78h1v1h-1zM4 78h1v1h-1zM5 78h1v1h-1zM5 79h1v1h-1zM6 79h1v1h-1zM8 79h1v1h-1zM9 80h1v1h-1zM16 80h1v1h-1zM3 81h1v1h-1zM6 81h1v1h-1zM8 81h1v1h-1zM0 82h1v1h-1zM2 82h1v1h-1zM7 82h1v1h-1zM8 82h1v1h-1zM13 82h1v1h-1zM3 83h1v1h-1zM5 83h1v1h-1zM22 83h1v1h-1zM7 84h1v1h-1zM1 86h1v1h-1zM10 86h1v1h-1zM1 87h1v1h-1zM2 87h1v1h-1zM7 87h1v1h-1zM9 87h1v1h-1zM6 89h1v1h-1z"/>
<path fill="#ced2e2" d="M17 0h1v1h-1zM23 0h1v1h-1zM21 1h1v1h-1zM23 1h1v1h-1zM23 2h1v1h-1zM24 2h1v1h-1zM16 3h1v1h-1zM19 3h1v1h-1zM21 4h1v1h-1zM14 5h1v1h-1zM21 5h1v1h-1zM24 5h1v1h-1zM5 6h1v1h-1zM15 6h1v1h-1zM21 6h1v1h-1zM22 6h1v1h-1zM8 7h1v1h-1zM16 7h1v1h-1zM23 7h1v1h-1zM12 8h1v1h-1zM24 8h1v1h-1zM11 9h1v1h-1zM15 9h1v1h-1zM18 9h1v1h-1zM23 9h1v1h-1zM8 11h1v1h-1zM18 11h1v1h-1zM7 12h1v1h-1zM9 12h1v1h-1zM15 12h1v1h-1zM20 12h1v1h-1zM10 13h1v1h-1zM11 14h1v1h-1zM12 14h1v1h-1zM15 14h1v1h-1zM20 14h1v1h-1zM13 15h1v1h-1zM18 15h1v1h-1zM20 15h1v1h-1zM24 15h1v1h-1zM5 16h1v1h-1zM8 16h1v1h-1zM3 17h1v1h-1zM11 17h1v1h-1zM22 17h1v1h-1zM14 18h1v1h-1zM19 18h1v1h-1zM21 18h1v1h-1zM22 18h1v1h-1zM23 18h1v1h-1zM15 19h1v1h-1zM16 19h1v1h-1zM20 19h1v1h-1zM21 19h1v1h-1zM17 20h1v1h-1zM6 21h1v1h-1zM8 21h1v1h-1zM17 21h1v1h-1zM8 22h1v1h-1zM21 22h1v1h-1zM1 23h1v1h-1zM19 23h1v1h-1zM24 23h1v1h-1zM18 24h1v1h-1zM24 24h1v1h-1zM13 25h1v1h-1zM14 25h1v1h-1zM21 25h1v1h-1zM22 25h1v1h-1zM19 26h1v1h-1zM24 26h1v1h-1zM10 27h1v1h-1zM0 28h1v1h-1zM12 28h1v1h-1zM13 28h1v1h-1zM14 28h1v1h-1zM15 28h1v1h-1zM8 29h1v1h-1zM10 29h1v1h-1zM2 30h1v1h-1zM15 30h1v1h-1zM12 31h1v1h-1zM23 31h1v1h-1zM11 32h1v1h-1zM13 32h1v1h-1zM15 32h1v1h-1zM16 32h1v1h-1zM15 33h1v1h-1zM18 33h1v1h-1zM24 33h1v1h-1zM11 34h1v1h-1zM17 34h1v1h-1zM1 35h1v1h-1zM6 35h1v1h-1zM15 35h1v1h-1zM19 35h1v1h-1zM20 35h1v1h-1zM23 35h1v1h-1zM5 36h1v1h-1zM18 36h1v1h-1zM19 36h1v1h-1zM20 36h1v1h-1zM5 37h1v1h-1zM7 37h1v1h-1zM18 38h1v1h-1zM12 40h1v1h-1zM16 40h1v1h-1zM24 40h1v1h-1zM18 42h1v1h-1zM19 42h1v1h-1zM14 43h1v1h-1zM11 44h1v1h-1zM12 44h1v1h-1zM13 44h1v1h-1zM8 45h1v1h-1zM13 45h1v1h-1zM18 45h1v1h-1zM20 45h1v1h-1zM15 46h1v1h-1zM24 46h1v1h-1zM18 47h1v1h-1zM18 48h1v1h-1zM19 48h1v1h-1zM20 48h1v1h-1zM21 48h1v1h-1zM22 48h1v1h-1zM23 48h1v1h-1zM21 49h1v1h-1zM10 50h1v1h-1zM11 51h1v1h-1zM18 51h1v1h-1zM23 51h1v1h-1zM14 52h1v1h-1zM21 52h1v1h-1zM19 53h1v1h-1zM1 54h1v1h-1zM14 54h1v1h-1zM17 54h1v1h-1zM16 55h1v1h-1zM17 55h1v1h-1zM18 55h1v1h-1zM5 56h1v1h-1zM14 56h1v1h-1zM15 56h1v1h-1zM21 56h1v1h-1zM20 57h1v1h-1zM21 57h1v1h-1zM20 58h1v1h-1zM24 58h1v1h-1zM3 59h1v1h-1zM6 59h1v1h-1zM19 59h1v1h-1zM12 60h1v1h-1zM23 61h1v1h-1zM8 62h1v1h-1zM17 62h1v1h-1zM20 62h1v1h-1zM1 63h1v1h-1zM11 63h1v1h-1zM16 63h1v1h-1zM22 63h1v1h-1zM23 63h1v1h-1zM14 64h1v1h-1zM19 64h1v1h-1zM12 65h1v1h-1zM21 66h1v1h-1zM22 66h1v1h-1zM11 67h1v1h-1zM23 67h1v1h-1zM3 68h1v1h-1zM4 68h1v1h-1zM5 68h1v1h-1zM8 70h1v1h-1zM8 71h1v1h-1zM15 71h1v1h-1zM21 71h1v1h-1zM1 72h1v1h-1zM4 72h1v1h-1zM8 72h1v1h-1zM24 72h1v1h-1zM7 73h1v1h-1zM12 73h1v1h-1zM13 73h1v1h-1zM20 73h1v1h-1zM22 73h1v1h-1zM3 75h1v1h-1zM4 75h1v1h-1zM6 75h1v1h-1zM23 75h1v1h-1zM5 76h1v1h-1zM6 76h1v1h-1zM8 76h1v1h-1zM9 76h1v1h-1zM4 77h1v1h-1zM22 77h1v1h-1zM10 78h1v1h-1zM1 79h1v1h-1zM2 79h1v1h-1zM4 79h1v1h-1zM9 79h1v1h-1zM12 79h1v1h-1zM2 80h1v1h-1zM3 80h1v1h-1zM10 80h1v1h-1zM0 81h1v1h-1zM4 81h1v1h-1zM5 81h1v1h-1zM7 81h1v1h-1zM10 81h1v1h-1zM1 82h1v1h-1zM12 82h1v1h-1zM20 82h1v1h-1zM6 83h1v1h-1zM9 83h1v1h-1zM0 84h1v1h-1zM4 84h1v1h-1zM3 85h1v1h-1zM5 85h1v1h-1zM6 85h1v1h-1zM7 85h1v1h-1zM16 85h1v1h-1zM17 85h1v1h-1zM2 86h1v1h-1zM3 87h1v1h-1zM4 87h1v1h-1zM5 87h1v1h-1zM6 87h1v1h-1zM4 88h1v1h-1zM8 88h1v1h-1z"/>
<path fill="#dadce8" d="M22 0h1v1h-1zM11 1h1v1h-1zM12 1h1v1h-1zM9 3h1v1h-1zM11 3h1v1h-1zM13 3h1v1h-1zM18 3h1v1h-1zM0 4h1v1h-1zM5 4h1v1h-1zM11 4h1v1h-1zM7 5h1v1h-1zM17 5h1v1h-1zM20 5h1v1h-1zM11 6h1v1h-1zM23 6h1v1h-1zM18 7h1v1h-1zM2 8h1v1h-1zM14 8h1v1h-1zM10 9h1v1h-1zM13 10h1v1h-1zM16 10h1v1h-1zM18 10h1v1h-1zM20 10h1v1h-1zM21 10h1v1h-1zM5 11h1v1h-1zM11 11h1v1h-1zM15 11h1v1h-1zM16 11h1v1h-1zM24 11h1v1h-1zM16 12h1v1h-1zM23 12h1v1h-1zM19 13h1v1h-1zM4 14h1v1h-1zM13 14h1v1h-1zM21 14h1v1h-1zM6 15h1v1h-1zM12 15h1v1h-1zM15 15h1v1h-1zM19 15h1v1h-1zM23 15h1v1h-1zM12 16h1v1h-1zM18 16h1v1h-1zM22 16h1v1h-1zM10 17h1v1h-1zM12 17h1v1h-1zM19 17h1v1h-1zM15 18h1v1h-1zM16 18h1v1h-1zM18 18h1v1h-1zM11 19h1v1h-1zM12 19h1v1h-1zM13 19h1v1h-1zM14 19h1v1h-1zM24 19h1v1h-1zM18 20h1v1h-1zM10 21h1v1h-1zM18 21h1v1h-1zM19 21h1v1h-1zM24 21h1v1h-1zM19 22h1v1h-1zM22 22h1v1h-1zM9 23h1v1h-1zM21 23h1v1h-1zM22 23h1v1h-1zM13 24h1v1h-1zM21 24h1v1h-1zM20 25h1v1h-1zM16 26h1v1h-1zM7 27h1v1h-1zM11 27h1v1h-1zM13 27h1v1h-1zM16 27h1v1h-1zM17 28h1v1h-1zM4 29h1v1h-1zM5 29h1v1h-1zM16 29h1v1h-1zM17 29h1v1h-1zM18 29h1v1h-1zM22 29h1v1h-1zM23 29h1v1h-1zM16 30h1v1h-1zM18 30h1v1h-1zM14 31h1v1h-1zM19 31h1v1h-1zM14 33h1v1h-1zM4 34h1v1h-1zM5 34h1v1h-1zM6 34h1v1h-1zM9 34h1v1h-1zM21 34h1v1h-1zM22 34h1v1h-1zM21 35h1v1h-1zM13 36h1v1h-1zM24 36h1v1h-1zM16 37h1v1h-1zM12 38h1v1h-1zM17 38h1v1h-1zM16 39h1v1h-1zM20 39h1v1h-1zM21 40h1v1h-1zM11 41h1v1h-1zM13 41h1v1h-1zM15 41h1v1h-1zM21 41h1v1h-1zM22 41h1v1h-1zM16 42h1v1h-1zM3 43h1v1h-1zM10 43h1v1h-1zM18 43h1v1h-1zM23 43h1v1h-1zM24 43h1v1h-1zM16 44h1v1h-1zM17 44h1v1h-1zM18 44h1v1h-1zM11 45h1v1h-1zM14 45h1v1h-1zM15 45h1v1h-1zM16 45h1v1h-1zM5 46h1v1h-1zM11 46h1v1h-1zM12 46h1v1h-1zM18 46h1v1h-1zM1 47h1v1h-1zM17 47h1v1h-1zM20 47h1v1h-1zM2 48h1v1h-1zM13 48h1v1h-1zM15 48h1v1h-1zM16 48h1v1h-1zM4 49h1v1h-1zM16 49h1v1h-1zM18 49h1v1h-1zM17 50h1v1h-1zM19 50h1v1h-1zM20 50h1v1h-1zM12 51h1v1h-1zM14 51h1v1h-1zM5 52h1v1h-1zM10 52h1v1h-1zM15 52h1v1h-1zM20 52h1v1h-1zM22 52h1v1h-1zM1 53h1v1h-1zM7 53h1v1h-1zM14 53h1v1h-1zM17 53h1v1h-1zM22 53h1v1h-1zM23 53h1v1h-1zM11 54h1v1h-1zM19 54h1v1h-1zM13 55h1v1h-1zM14 55h1v1h-1zM21 55h1v1h-1zM23 55h1v1h-1zM16 56h1v1h-1zM19 56h1v1h-1zM5 57h1v1h-1zM6 57h1v1h-1zM12 57h1v1h-1zM14 57h1v1h-1zM19 57h1v1h-1zM5 58h1v1h-1zM19 58h1v1h-1zM21 58h1v1h-1zM20 60h1v1h-1zM6 61h1v1h-1zM12 63h1v1h-1zM14 63h1v1h-1zM18 63h1v1h-1zM19 63h1v1h-1zM13 64h1v1h-1zM17 64h1v1h-1zM18 65h1v1h-1zM22 65h1v1h-1zM7 66h1v1h-1zM10 67h1v1h-1zM12 67h1v1h-1zM17 67h1v1h-1zM1 69h1v1h-1zM4 69h1v1h-1zM5 69h1v1h-1zM22 69h1v1h-1zM24 69h1v1h-1zM16 70h1v1h-1zM18 70h1v1h-1zM20 70h1v1h-1zM3 73h1v1h-1zM5 74h1v1h-1zM7 74h1v1h-1zM16 74h1v1h-1zM18 74h1v1h-1zM19 74h1v1h-1zM0 75h1v1h-1zM7 75h1v1h-1zM24 75h1v1h-1zM0 76h1v1h-1zM2 76h1v1h-1zM7 76h1v1h-1zM0 77h1v1h-1zM2 77h1v1h-1zM8 77h1v1h-1zM14 77h1v1h-1zM1 78h1v1h-1zM9 78h1v1h-1zM19 78h1v1h-1zM7 79h1v1h-1zM10 79h1v1h-1zM11 79h1v1h-1zM23 79h1v1h-1zM2 81h1v1h-1zM11 81h1v1h-1zM4 82h1v1h-1zM0 83h1v1h-1zM1 83h1v1h-1zM8 83h1v1h-1zM11 83h1v1h-1zM3 84h1v1h-1zM0 85h1v1h-1zM1 85h1v1h-1zM2 85h1v1h-1zM14 85h1v1h-1zM0 86h1v1h-1zM4 86h1v1h-1zM8 86h1v1h-1zM24 86h1v1h-1zM8 87h1v1h-1zM11 87h1v1h-1zM0 88h1v1h-1zM2 88h1v1h-1zM5 88h1v1h-1zM7 88h1v1h-1zM9 88h1v1h-1zM10 88h1v1h-1zM15 88h1v1h-1zM21 88h1v1h-1zM0 89h1v1h-1zM4 89h1v1h-1zM7 89h1v1h-1zM10 89h1v1h-1zM17 89h1v1h-1z"/>
<path fill="#e6e7ed" d="M9 0h1v1h-1zM2 1h1v1h-1zM6 1h1v1h-1zM17 1h1v1h-1zM19 1h1v1h-1zM22 1h1v1h-1zM9 2h1v1h-1zM15 2h1v1h-1zM19 2h1v1h-1zM21 2h1v1h-1zM24 3h1v1h-1zM9 4h1v1h-1zM15 4h1v1h-1zM18 4h1v1h-1zM22 4h1v1h-1zM23 4h1v1h-1zM24 4h1v1h-1zM3 5h1v1h-1zM4 5h1v1h-1zM6 5h1v1h-1zM15 5h1v1h-1zM16 5h1v1h-1zM6 6h1v1h-1zM8 6h1v1h-1zM10 6h1v1h-1zM12 6h1v1h-1zM24 6h1v1h-1zM19 7h1v1h-1zM6 8h1v1h-1zM8 9h1v1h-1zM9 9h1v1h-1zM3 10h1v1h-1zM11 10h1v1h-1zM12 10h1v1h-1zM1 11h1v1h-1zM11 12h1v1h-1zM22 12h1v1h-1zM1 13h1v1h-1zM3 13h1v1h-1zM1 14h1v1h-1zM6 14h1v1h-1zM11 15h1v1h-1zM10 16h1v1h-1zM20 16h1v1h-1zM6 17h1v1h-1zM13 17h1v1h-1zM11 18h1v1h-1zM17 18h1v1h-1zM17 19h1v1h-1zM2 20h1v1h-1zM3 20h1v1h-1zM14 20h1v1h-1zM13 21h1v1h-1zM15 21h1v1h-1zM16 21h1v1h-1zM23 21h1v1h-1zM18 22h1v1h-1zM2 23h1v1h-1zM4 23h1v1h-1zM10 23h1v1h-1zM12 23h1v1h-1zM11 24h1v1h-1zM17 24h1v1h-1zM23 24h1v1h-1zM2 25h1v1h-1zM3 25h1v1h-1zM7 25h1v1h-1zM8 25h1v1h-1zM18 25h1v1h-1zM19 25h1v1h-1zM6 26h1v1h-1zM11 26h1v1h-1zM13 26h1v1h-1zM17 26h1v1h-1zM8 27h1v1h-1zM12 27h1v1h-1zM22 27h1v1h-1zM9 28h1v1h-1zM10 28h1v1h-1zM18 28h1v1h-1zM22 28h1v1h-1zM9 29h1v1h-1zM12 29h1v1h-1zM15 29h1v1h-1zM9 30h1v1h-1zM12 30h1v1h-1zM14 30h1v1h-1zM9 31h1v1h-1zM11 31h1v1h-1zM18 31h1v1h-1zM9 32h1v1h-1zM14 32h1v1h-1zM22 32h1v1h-1zM23 32h1v1h-1zM24 32h1v1h-1zM3 34h1v1h-1zM7 34h1v1h-1zM10 34h1v1h-1zM2 36h1v1h-1zM4 36h1v1h-1zM11 36h1v1h-1zM11 37h1v1h-1zM12 37h1v1h-1zM15 37h1v1h-1zM17 37h1v1h-1zM21 37h1v1h-1zM4 38h1v1h-1zM1 39h1v1h-1zM4 40h1v1h-1zM22 40h1v1h-1zM19 41h1v1h-1zM12 42h1v1h-1zM17 42h1v1h-1zM20 42h1v1h-1zM21 44h1v1h-1zM22 44h1v1h-1zM1 45h1v1h-1zM16 46h1v1h-1zM3 47h1v1h-1zM3 48h1v1h-1zM24 48h1v1h-1zM19 49h1v1h-1zM18 52h1v1h-1zM10 53h1v1h-1zM2 54h1v1h-1zM4 54h1v1h-1zM10 54h1v1h-1zM15 55h1v1h-1zM22 55h1v1h-1zM8 56h1v1h-1zM12 56h1v1h-1zM8 57h1v1h-1zM17 57h1v1h-1zM22 57h1v1h-1zM10 58h1v1h-1zM12 59h1v1h-1zM17 59h1v1h-1zM20 59h1v1h-1zM24 59h1v1h-1zM2 60h1v1h-1zM3 60h1v1h-1zM5 60h1v1h-1zM7 60h1v1h-1zM11 60h1v1h-1zM21 60h1v1h-1zM24 60h1v1h-1zM19 61h1v1h-1zM0 62h1v1h-1zM2 62h1v1h-1zM9 62h1v1h-1zM12 62h1v1h-1zM16 62h1v1h-1zM13 67h1v1h-1zM10 69h1v1h-1zM1 70h1v1h-1zM3 70h1v1h-1zM5 70h1v1h-1zM21 70h1v1h-1zM10 71h1v1h-1zM22 71h1v1h-1zM11 72h1v1h-1zM6 73h1v1h-1zM14 73h1v1h-1zM16 73h1v1h-1zM2 74h1v1h-1zM3 74h1v1h-1zM4 74h1v1h-1zM6 74h1v1h-1zM8 74h1v1h-1zM9 74h1v1h-1zM2 75h1v1h-1zM9 75h1v1h-1zM11 75h1v1h-1zM3 76h1v1h-1zM1 77h1v1h-1zM3 77h1v1h-1zM6 77h1v1h-1zM9 77h1v1h-1zM10 77h1v1h-1zM12 77h1v1h-1zM20 77h1v1h-1zM18 78h1v1h-1zM3 79h1v1h-1zM0 80h1v1h-1zM5 80h1v1h-1zM12 80h1v1h-1zM19 81h1v1h-1zM3 82h1v1h-1zM6 82h1v1h-1zM14 82h1v1h-1zM23 82h1v1h-1zM7 83h1v1h-1zM8 85h1v1h-1zM10 85h1v1h-1zM21 85h1v1h-1zM3 86h1v1h-1zM18 87h1v1h-1zM23 87h1v1h-1zM3 88h1v1h-1zM12 89h1v1h-1zM21 89h1v1h-1z"/>
<path fill="#e9e5e9" d="M1 2h1v1h-1zM2 2h1v1h-1zM7 3h1v1h-1zM10 3h1v1h-1zM20 3h1v1h-1zM21 3h1v1h-1zM12 4h1v1h-1zM1 5h1v1h-1zM19 5h1v1h-1zM17 7h1v1h-1zM20 7h1v1h-1zM22 7h1v1h-1zM9 8h1v1h-1zM22 8h1v1h-1zM23 8h1v1h-1zM2 9h1v1h-1zM12 9h1v1h-1zM0 10h1v1h-1zM6 10h1v1h-1zM6 11h1v1h-1zM17 13h1v1h-1zM22 13h1v1h-1zM0 14h1v1h-1zM7 14h1v1h-1zM24 14h1v1h-1zM2 15h1v1h-1zM5 15h1v1h-1zM22 15h1v1h-1zM24 16h1v1h-1zM0 17h1v1h-1zM7 17h1v1h-1zM7 18h1v1h-1zM10 19h1v1h-1zM23 19h1v1h-1zM22 20h1v1h-1zM4 21h1v1h-1zM12 21h1v1h-1zM1 22h1v1h-1zM16 22h1v1h-1zM23 22h1v1h-1zM15 25h1v1h-1zM16 25h1v1h-1zM1 26h1v1h-1zM5 26h1v1h-1zM14 26h1v1h-1zM15 26h1v1h-1zM9 27h1v1h-1zM17 27h1v1h-1zM21 27h1v1h-1zM4 28h1v1h-1zM1 29h1v1h-1zM3 29h1v1h-1zM20 29h1v1h-1zM24 29h1v1h-1zM8 30h1v1h-1zM20 30h1v1h-1zM23 30h1v1h-1zM24 31h1v1h-1zM2 32h1v1h-1zM6 32h1v1h-1zM17 32h1v1h-1zM18 32h1v1h-1zM20 32h1v1h-1zM21 32h1v1h-1zM6 33h1v1h-1zM13 33h1v1h-1zM17 33h1v1h-1zM21 33h1v1h-1zM13 34h1v1h-1zM15 34h1v1h-1zM18 34h1v1h-1zM23 34h1v1h-1zM4 35h1v1h-1zM10 35h1v1h-1zM11 35h1v1h-1zM24 35h1v1h-1zM14 36h1v1h-1zM21 36h1v1h-1zM9 37h1v1h-1zM13 37h1v1h-1zM14 37h1v1h-1zM11 38h1v1h-1zM16 38h1v1h-1zM21 38h1v1h-1zM10 39h1v1h-1zM19 40h1v1h-1zM23 40h1v1h-1zM17 41h1v1h-1zM23 41h1v1h-1zM0 42h1v1h-1zM6 42h1v1h-1zM9 42h1v1h-1zM13 42h1v1h-1zM22 42h1v1h-1zM0 46h1v1h-1zM2 46h1v1h-1zM21 46h1v1h-1zM0 48h1v1h-1zM17 48h1v1h-1zM5 49h1v1h-1zM0 50h1v1h-1zM2 50h1v1h-1zM8 52h1v1h-1zM11 52h1v1h-1zM4 53h1v1h-1zM6 53h1v1h-1zM9 53h1v1h-1zM18 53h1v1h-1zM9 54h1v1h-1zM4 55h1v1h-1zM9 55h1v1h-1zM11 56h1v1h-1zM13 56h1v1h-1zM22 56h1v1h-1zM1 57h1v1h-1zM4 57h1v1h-1zM11 57h1v1h-1zM15 57h1v1h-1zM23 58h1v1h-1zM11 59h1v1h-1zM1 60h1v1h-1zM13 60h1v1h-1zM16 60h1v1h-1zM22 60h1v1h-1zM7 61h1v1h-1zM16 61h1v1h-1zM18 61h1v1h-1zM1 62h1v1h-1zM6 62h1v1h-1zM15 62h1v1h-1zM23 62h1v1h-1zM0 63h1v1h-1zM7 63h1v1h-1zM17 63h1v1h-1zM20 63h1v1h-1zM24 63h1v1h-1zM20 64h1v1h-1zM14 66h1v1h-1zM16 66h1v1h-1zM16 67h1v1h-1zM16 69h1v1h-1zM18 69h1v1h-1zM21 69h1v1h-1zM2 70h1v1h-1zM0 71h1v1h-1zM2 71h1v1h-1zM3 71h1v1h-1zM5 71h1v1h-1zM6 71h1v1h-1zM7 71h1v1h-1zM9 71h1v1h-1zM12 72h1v1h-1zM15 72h1v1h-1zM0 73h1v1h-1zM1 73h1v1h-1zM2 73h1v1h-1zM5 73h1v1h-1zM8 73h1v1h-1zM11 73h1v1h-1zM18 73h1v1h-1zM19 73h1v1h-1zM0 74h1v1h-1zM1 74h1v1h-1zM15 74h1v1h-1zM1 75h1v1h-1zM7 77h1v1h-1zM0 79h1v1h-1zM15 79h1v1h-1zM16 79h1v1h-1zM19 82h1v1h-1zM20 83h1v1h-1zM9 85h1v1h-1zM15 85h1v1h-1zM22 86h1v1h-1zM22 88h1v1h-1zM1 89h1v1h-1zM2 89h1v1h-1zM5 89h1v1h-1zM14 89h1v1h-1z"/>
<path fill="#e3d7da" d="M4 1h1v1h-1zM7 1h1v1h-1zM10 1h1v1h-1zM14 1h1v1h-1zM15 1h1v1h-1zM20 1h1v1h-1zM5 3h1v1h-1zM15 3h1v1h-1zM22 3h1v1h-1zM23 3h1v1h-1zM13 4h1v1h-1zM0 5h1v1h-1zM9 5h1v1h-1zM2 6h1v1h-1zM14 6h1v1h-1zM20 6h1v1h-1zM0 7h1v1h-1zM7 7h1v1h-1zM3 11h1v1h-1zM13 11h1v1h-1zM8 14h1v1h-1zM16 14h1v1h-1zM14 16h1v1h-1zM8 19h1v1h-1zM11 21h1v1h-1zM14 21h1v1h-1zM20 21h1v1h-1zM22 21h1v1h-1zM3 22h1v1h-1zM6 22h1v1h-1zM10 22h1v1h-1zM12 22h1v1h-1zM17 22h1v1h-1zM3 23h1v1h-1zM7 24h1v1h-1zM4 25h1v1h-1zM5 25h1v1h-1zM6 25h1v1h-1zM12 25h1v1h-1zM17 25h1v1h-1zM24 25h1v1h-1zM3 26h1v1h-1zM18 26h1v1h-1zM2 27h1v1h-1zM3 27h1v1h-1zM23 27h1v1h-1zM16 28h1v1h-1zM21 28h1v1h-1zM23 28h1v1h-1zM6 29h1v1h-1zM0 32h1v1h-1zM3 32h1v1h-1zM10 32h1v1h-1zM12 32h1v1h-1zM4 33h1v1h-1zM7 33h1v1h-1zM16 33h1v1h-1zM22 33h1v1h-1zM19 34h1v1h-1zM24 34h1v1h-1zM0 35h1v1h-1zM2 35h1v1h-1zM15 36h1v1h-1zM20 37h1v1h-1zM9 39h1v1h-1zM10 40h1v1h-1zM13 40h1v1h-1zM1 41h1v1h-1zM24 41h1v1h-1zM7 42h1v1h-1zM23 45h1v1h-1zM1 46h1v1h-1zM14 46h1v1h-1zM0 47h1v1h-1zM12 47h1v1h-1zM22 47h1v1h-1zM8 49h1v1h-1zM13 49h1v1h-1zM16 50h1v1h-1zM23 50h1v1h-1zM20 51h1v1h-1zM11 53h1v1h-1zM10 55h1v1h-1zM16 57h1v1h-1zM8 58h1v1h-1zM1 59h1v1h-1zM2 59h1v1h-1zM7 59h1v1h-1zM8 59h1v1h-1zM9 59h1v1h-1zM14 60h1v1h-1zM17 60h1v1h-1zM23 60h1v1h-1zM11 62h1v1h-1zM14 62h1v1h-1zM4 63h1v1h-1zM8 66h1v1h-1zM10 66h1v1h-1zM4 67h1v1h-1zM9 67h1v1h-1zM11 70h1v1h-1zM4 71h1v1h-1zM4 73h1v1h-1zM9 73h1v1h-1zM13 74h1v1h-1zM12 75h1v1h-1zM14 75h1v1h-1zM11 78h1v1h-1zM14 79h1v1h-1zM1 80h1v1h-1zM12 81h1v1h-1zM20 81h1v1h-1zM22 81h1v1h-1zM23 81h1v1h-1zM5 82h1v1h-1zM17 82h1v1h-1zM18 82h1v1h-1zM14 83h1v1h-1zM23 84h1v1h-1zM20 85h1v1h-1zM23 85h1v1h-1zM19 87h1v1h-1zM14 88h1v1h-1zM16 88h1v1h-1zM19 88h1v1h-1zM16 89h1v1h-1zM19 89h1v1h-1z"/>
<path fill="#dcc8ca" d="M0 0h1v1h-1zM16 1h1v1h-1zM18 1h1v1h-1zM4 2h1v1h-1zM3 3h1v1h-1zM6 3h1v1h-1zM8 3h1v1h-1zM17 3h1v1h-1zM2 4h1v1h-1zM12 5h1v1h-1zM0 6h1v1h-1zM6 7h1v1h-1zM9 7h1v1h-1zM5 9h1v1h-1zM1 10h1v1h-1zM9 10h1v1h-1zM1 12h1v1h-1zM8 13h1v1h-1zM0 15h1v1h-1zM1 16h1v1h-1zM16 16h1v1h-1zM19 16h1v1h-1zM16 17h1v1h-1zM1 18h1v1h-1zM10 18h1v1h-1zM3 19h1v1h-1zM6 19h1v1h-1zM6 20h1v1h-1zM1 21h1v1h-1zM3 21h1v1h-1zM9 21h1v1h-1zM21 21h1v1h-1zM2 22h1v1h-1zM4 22h1v1h-1zM7 23h1v1h-1zM16 23h1v1h-1zM17 23h1v1h-1zM1 24h1v1h-1zM0 25h1v1h-1zM1 27h1v1h-1zM6 27h1v1h-1zM2 28h1v1h-1zM17 31h1v1h-1zM4 32h1v1h-1zM16 34h1v1h-1zM12 36h1v1h-1zM16 36h1v1h-1zM0 37h1v1h-1zM6 37h1v1h-1zM10 41h1v1h-1zM5 42h1v1h-1zM11 43h1v1h-1zM6 46h1v1h-1zM7 46h1v1h-1zM9 46h1v1h-1zM10 46h1v1h-1zM6 47h1v1h-1zM7 47h1v1h-1zM8 47h1v1h-1zM7 48h1v1h-1zM6 51h1v1h-1zM8 51h1v1h-1zM17 52h1v1h-1zM2 53h1v1h-1zM12 53h1v1h-1zM12 55h1v1h-1zM18 57h1v1h-1zM1 58h1v1h-1zM13 58h1v1h-1zM4 62h1v1h-1zM18 62h1v1h-1zM21 62h1v1h-1zM6 63h1v1h-1zM8 63h1v1h-1zM1 64h1v1h-1zM10 64h1v1h-1zM16 65h1v1h-1zM0 67h1v1h-1zM2 67h1v1h-1zM3 67h1v1h-1zM7 67h1v1h-1zM17 68h1v1h-1zM18 68h1v1h-1zM4 70h1v1h-1zM14 70h1v1h-1zM19 70h1v1h-1zM18 71h1v1h-1zM20 72h1v1h-1zM23 72h1v1h-1zM15 73h1v1h-1zM23 73h1v1h-1zM10 74h1v1h-1zM14 74h1v1h-1zM20 74h1v1h-1zM17 75h1v1h-1zM18 75h1v1h-1zM11 76h1v1h-1zM5 77h1v1h-1zM11 77h1v1h-1zM24 77h1v1h-1zM20 78h1v1h-1zM23 78h1v1h-1zM22 79h1v1h-1zM15 80h1v1h-1zM19 80h1v1h-1zM11 82h1v1h-1zM15 82h1v1h-1zM12 83h1v1h-1zM18 83h1v1h-1zM19 83h1v1h-1zM12 84h1v1h-1zM19 84h1v1h-1zM13 85h1v1h-1zM11 86h1v1h-1zM18 86h1v1h-1zM20 87h1v1h-1zM11 88h1v1h-1zM13 88h1v1h-1zM18 88h1v1h-1zM22 89h1v1h-1zM23 89h1v1h-1z"/>
<path fill="#d5b6b8" d="M6 0h1v1h-1zM1 1h1v1h-1zM3 1h1v1h-1zM0 2h1v1h-1zM3 2h1v1h-1zM17 2h1v1h-1zM3 4h1v1h-1zM8 4h1v1h-1zM7 6h1v1h-1zM1 7h1v1h-1zM0 8h1v1h-1zM20 8h1v1h-1zM0 16h1v1h-1zM3 16h1v1h-1zM4 16h1v1h-1zM7 16h1v1h-1zM1 17h1v1h-1zM2 17h1v1h-1zM8 17h1v1h-1zM15 17h1v1h-1zM5 18h1v1h-1zM5 19h1v1h-1zM9 19h1v1h-1zM5 21h1v1h-1zM5 23h1v1h-1zM13 23h1v1h-1zM1 25h1v1h-1zM9 25h1v1h-1zM8 26h1v1h-1zM14 27h1v1h-1zM20 27h1v1h-1zM2 29h1v1h-1zM0 30h1v1h-1zM5 30h1v1h-1zM7 31h1v1h-1zM8 32h1v1h-1zM1 33h1v1h-1zM9 33h1v1h-1zM10 33h1v1h-1zM12 33h1v1h-1zM23 33h1v1h-1zM8 34h1v1h-1zM12 34h1v1h-1zM3 35h1v1h-1zM5 35h1v1h-1zM18 35h1v1h-1zM7 36h1v1h-1zM2 39h1v1h-1zM6 39h1v1h-1zM0 40h1v1h-1zM2 40h1v1h-1zM3 40h1v1h-1zM7 40h1v1h-1zM8 40h1v1h-1zM3 41h1v1h-1zM4 41h1v1h-1zM8 41h1v1h-1zM8 43h1v1h-1zM9 43h1v1h-1zM6 44h1v1h-1zM10 45h1v1h-1zM3 46h1v1h-1zM2 47h1v1h-1zM5 47h1v1h-1zM1 48h1v1h-1zM10 49h1v1h-1zM5 50h1v1h-1zM18 50h1v1h-1zM21 50h1v1h-1zM22 51h1v1h-1zM2 52h1v1h-1zM0 53h1v1h-1zM20 53h1v1h-1zM3 54h1v1h-1zM13 54h1v1h-1zM8 55h1v1h-1zM9 56h1v1h-1zM24 57h1v1h-1zM2 58h1v1h-1zM5 59h1v1h-1zM22 59h1v1h-1zM10 60h1v1h-1zM15 60h1v1h-1zM0 61h1v1h-1zM1 61h1v1h-1zM22 62h1v1h-1zM24 62h1v1h-1zM21 63h1v1h-1zM2 64h1v1h-1zM9 64h1v1h-1zM16 68h1v1h-1zM15 70h1v1h-1zM24 73h1v1h-1zM19 75h1v1h-1zM21 75h1v1h-1zM17 76h1v1h-1zM21 76h1v1h-1zM15 77h1v1h-1zM16 77h1v1h-1zM19 77h1v1h-1zM13 79h1v1h-1zM19 79h1v1h-1zM24 79h1v1h-1zM11 80h1v1h-1zM17 80h1v1h-1zM21 80h1v1h-1zM13 83h1v1h-1zM15 83h1v1h-1zM16 84h1v1h-1zM24 85h1v1h-1zM14 86h1v1h-1zM16 86h1v1h-1zM20 86h1v1h-1zM11 89h1v1h-1zM18 89h1v1h-1z"/>
<path fill="#cda3a5" d="M10 2h1v1h-1zM2 5h1v1h-1zM1 6h1v1h-1zM4 7h1v1h-1zM10 7h1v1h-1zM1 8h1v1h-1zM4 8h1v1h-1zM7 8h1v1h-1zM8 8h1v1h-1zM10 8h1v1h-1zM4 9h1v1h-1zM0 11h1v1h-1zM9 11h1v1h-1zM4 12h1v1h-1zM8 12h1v1h-1zM7 13h1v1h-1zM9 14h1v1h-1zM1 15h1v1h-1zM2 16h1v1h-1zM9 16h1v1h-1zM4 17h1v1h-1zM0 18h1v1h-1zM5 20h1v1h-1zM9 20h1v1h-1zM2 21h1v1h-1zM0 22h1v1h-1zM7 22h1v1h-1zM14 22h1v1h-1zM0 23h1v1h-1zM0 26h1v1h-1zM4 27h1v1h-1zM3 30h1v1h-1zM4 30h1v1h-1zM0 31h1v1h-1zM6 31h1v1h-1zM8 31h1v1h-1zM10 31h1v1h-1zM1 32h1v1h-1zM5 33h1v1h-1zM7 35h1v1h-1zM8 35h1v1h-1zM8 36h1v1h-1zM9 36h1v1h-1zM3 37h1v1h-1zM0 38h1v1h-1zM5 38h1v1h-1zM6 38h1v1h-1zM9 38h1v1h-1zM5 40h1v1h-1zM5 41h1v1h-1zM1 42h1v1h-1zM2 42h1v1h-1zM6 43h1v1h-1zM7 43h1v1h-1zM17 43h1v1h-1zM1 44h1v1h-1zM2 44h1v1h-1zM5 44h1v1h-1zM3 45h1v1h-1zM6 45h1v1h-1zM7 45h1v1h-1zM4 47h1v1h-1zM19 47h1v1h-1zM9 49h1v1h-1zM1 50h1v1h-1zM3 51h1v1h-1zM4 52h1v1h-1zM6 52h1v1h-1zM0 54h1v1h-1zM5 54h1v1h-1zM6 54h1v1h-1zM8 54h1v1h-1zM1 55h1v1h-1zM2 55h1v1h-1zM5 55h1v1h-1zM7 55h1v1h-1zM0 57h1v1h-1zM19 60h1v1h-1zM5 61h1v1h-1zM5 62h1v1h-1zM5 63h1v1h-1zM3 64h1v1h-1zM6 65h1v1h-1zM8 65h1v1h-1zM6 67h1v1h-1zM11 69h1v1h-1zM12 69h1v1h-1zM14 69h1v1h-1zM22 70h1v1h-1zM1 71h1v1h-1zM11 71h1v1h-1zM16 71h1v1h-1zM24 71h1v1h-1zM16 72h1v1h-1zM19 72h1v1h-1zM22 72h1v1h-1zM21 73h1v1h-1zM22 75h1v1h-1zM17 78h1v1h-1zM20 79h1v1h-1zM21 79h1v1h-1zM13 80h1v1h-1zM22 80h1v1h-1zM23 80h1v1h-1zM15 81h1v1h-1zM18 81h1v1h-1zM21 82h1v1h-1zM22 82h1v1h-1zM20 84h1v1h-1zM15 87h1v1h-1zM16 87h1v1h-1zM17 87h1v1h-1zM17 88h1v1h-1zM15 89h1v1h-1z"/>
<path fill="#c69193" d="M5 0h1v1h-1zM10 0h1v1h-1zM8 1h1v1h-1zM2 3h1v1h-1zM5 5h1v1h-1zM13 5h1v1h-1zM4 6h1v1h-1zM2 7h1v1h-1zM6 9h1v1h-1zM4 11h1v1h-1zM5 12h1v1h-1zM0 13h1v1h-1zM10 14h1v1h-1zM4 15h1v1h-1zM6 16h1v1h-1zM2 18h1v1h-1zM8 18h1v1h-1zM2 19h1v1h-1zM7 19h1v1h-1zM1 20h1v1h-1zM8 24h1v1h-1zM4 26h1v1h-1zM10 26h1v1h-1zM22 26h1v1h-1zM0 29h1v1h-1zM7 29h1v1h-1zM7 30h1v1h-1zM5 31h1v1h-1zM2 34h1v1h-1zM0 36h1v1h-1zM3 36h1v1h-1zM6 36h1v1h-1zM10 37h1v1h-1zM2 38h1v1h-1zM7 38h1v1h-1zM0 41h1v1h-1zM3 42h1v1h-1zM1 43h1v1h-1zM4 43h1v1h-1zM5 43h1v1h-1zM23 47h1v1h-1zM0 52h1v1h-1zM0 55h1v1h-1zM10 56h1v1h-1zM7 58h1v1h-1zM9 58h1v1h-1zM10 59h1v1h-1zM4 61h1v1h-1zM9 63h1v1h-1zM9 65h1v1h-1zM6 66h1v1h-1zM15 68h1v1h-1zM22 68h1v1h-1zM15 69h1v1h-1zM23 69h1v1h-1zM13 70h1v1h-1zM13 75h1v1h-1zM12 76h1v1h-1zM18 77h1v1h-1zM21 77h1v1h-1zM12 78h1v1h-1zM13 78h1v1h-1zM16 78h1v1h-1zM22 78h1v1h-1zM18 79h1v1h-1zM20 80h1v1h-1zM16 83h1v1h-1zM15 84h1v1h-1zM11 85h1v1h-1zM22 85h1v1h-1zM17 86h1v1h-1z"/>
<path fill="#bd7f81" d="M8 2h1v1h-1zM1 3h1v1h-1zM1 4h1v1h-1zM10 4h1v1h-1zM8 5h1v1h-1zM2 10h1v1h-1zM2 11h1v1h-1zM10 12h1v1h-1zM3 15h1v1h-1zM9 17h1v1h-1zM6 24h1v1h-1zM10 24h1v1h-1zM0 33h1v1h-1zM0 34h1v1h-1zM8 38h1v1h-1zM10 38h1v1h-1zM1 40h1v1h-1zM9 40h1v1h-1zM0 45h1v1h-1zM4 46h1v1h-1zM5 48h1v1h-1zM6 48h1v1h-1zM8 48h1v1h-1zM10 48h1v1h-1zM3 49h1v1h-1zM3 55h1v1h-1zM6 55h1v1h-1zM3 56h1v1h-1zM3 63h1v1h-1zM4 64h1v1h-1zM5 64h1v1h-1zM7 65h1v1h-1zM13 69h1v1h-1zM17 70h1v1h-1zM14 71h1v1h-1zM13 72h1v1h-1zM18 72h1v1h-1zM14 76h1v1h-1zM16 76h1v1h-1zM18 76h1v1h-1zM23 76h1v1h-1zM13 77h1v1h-1zM23 77h1v1h-1zM16 81h1v1h-1zM17 81h1v1h-1zM24 81h1v1h-1zM21 83h1v1h-1zM24 84h1v1h-1zM18 85h1v1h-1zM19 85h1v1h-1zM23 88h1v1h-1zM24 88h1v1h-1z"/>
<path fill="#b46f71" d="M1 0h1v1h-1zM0 1h1v1h-1zM0 3h1v1h-1zM4 4h1v1h-1zM6 4h1v1h-1zM3 6h1v1h-1zM9 6h1v1h-1zM3 7h1v1h-1zM5 8h1v1h-1zM0 9h1v1h-1zM7 10h1v1h-1zM7 11h1v1h-1zM2 13h1v1h-1zM5 13h1v1h-1zM9 13h1v1h-1zM5 14h1v1h-1zM3 18h1v1h-1zM4 18h1v1h-1zM2 24h1v1h-1zM5 24h1v1h-1zM7 26h1v1h-1zM5 27h1v1h-1zM1 28h1v1h-1zM5 28h1v1h-1zM1 30h1v1h-1zM3 31h1v1h-1zM4 31h1v1h-1zM8 33h1v1h-1zM1 37h1v1h-1zM2 37h1v1h-1zM3 38h1v1h-1zM5 39h1v1h-1zM6 40h1v1h-1zM6 41h1v1h-1zM8 42h1v1h-1zM8 44h1v1h-1zM4 45h1v1h-1zM1 49h1v1h-1zM6 49h1v1h-1zM9 50h1v1h-1zM1 51h1v1h-1zM9 51h1v1h-1zM9 52h1v1h-1zM7 56h1v1h-1zM2 57h1v1h-1zM3 58h1v1h-1zM0 59h1v1h-1zM3 61h1v1h-1zM3 62h1v1h-1zM3 65h1v1h-1zM3 66h1v1h-1zM11 68h1v1h-1zM12 68h1v1h-1zM23 68h1v1h-1zM19 69h1v1h-1zM12 70h1v1h-1zM23 70h1v1h-1zM21 72h1v1h-1zM17 74h1v1h-1zM19 76h1v1h-1zM17 79h1v1h-1zM24 82h1v1h-1zM22 84h1v1h-1zM19 86h1v1h-1zM12 87h1v1h-1zM14 87h1v1h-1zM21 87h1v1h-1zM20 88h1v1h-1zM20 89h1v1h-1zM24 89h1v1h-1z"/>
<path fill="#ab5e60" d="M2 0h1v1h-1zM7 2h1v1h-1zM1 9h1v1h-1zM4 10h1v1h-1zM2 12h1v1h-1zM4 13h1v1h-1zM4 19h1v1h-1zM4 20h1v1h-1zM7 20h1v1h-1zM10 20h1v1h-1zM0 21h1v1h-1zM9 22h1v1h-1zM3 24h1v1h-1zM2 26h1v1h-1zM10 30h1v1h-1zM1 31h1v1h-1zM2 33h1v1h-1zM1 36h1v1h-1zM4 37h1v1h-1zM1 38h1v1h-1zM3 39h1v1h-1zM4 39h1v1h-1zM7 39h1v1h-1zM9 41h1v1h-1zM2 43h1v1h-1zM9 44h1v1h-1zM10 44h1v1h-1zM10 47h1v1h-1zM2 51h1v1h-1zM5 51h1v1h-1zM10 51h1v1h-1zM3 52h1v1h-1zM7 54h1v1h-1zM0 56h1v1h-1zM4 56h1v1h-1zM6 56h1v1h-1zM0 58h1v1h-1zM6 58h1v1h-1zM4 59h1v1h-1zM4 65h1v1h-1zM1 67h1v1h-1zM8 67h1v1h-1zM13 68h1v1h-1zM19 68h1v1h-1zM21 68h1v1h-1zM13 76h1v1h-1zM24 76h1v1h-1zM24 78h1v1h-1zM14 80h1v1h-1zM16 82h1v1h-1zM17 83h1v1h-1zM13 84h1v1h-1zM15 86h1v1h-1zM13 87h1v1h-1zM22 87h1v1h-1zM13 89h1v1h-1z"/>
<path fill="#a14d4f" d="M5 10h1v1h-1zM0 12h1v1h-1zM3 12h1v1h-1zM9 18h1v1h-1zM1 19h1v1h-1zM9 24h1v1h-1zM3 33h1v1h-1zM9 35h1v1h-1zM8 37h1v1h-1zM0 39h1v1h-1zM4 42h1v1h-1zM3 44h1v1h-1zM7 44h1v1h-1zM4 48h1v1h-1zM1 52h1v1h-1zM1 56h1v1h-1zM2 61h1v1h-1zM9 61h1v1h-1zM2 63h1v1h-1zM0 64h1v1h-1zM6 64h1v1h-1zM2 65h1v1h-1zM0 66h1v1h-1zM5 66h1v1h-1zM17 69h1v1h-1zM17 72h1v1h-1zM15 76h1v1h-1zM15 78h1v1h-1zM18 80h1v1h-1zM13 81h1v1h-1zM14 81h1v1h-1zM17 84h1v1h-1zM18 84h1v1h-1zM21 84h1v1h-1zM12 86h1v1h-1z"/>
<path fill="#983b3f" d="M8 0h1v1h-1zM5 7h1v1h-1zM10 11h1v1h-1zM7 15h1v1h-1zM5 17h1v1h-1zM6 18h1v1h-1zM0 19h1v1h-1zM0 20h1v1h-1zM8 20h1v1h-1zM0 24h1v1h-1zM8 39h1v1h-1zM0 43h1v1h-1zM4 44h1v1h-1zM9 45h1v1h-1zM0 49h1v1h-1zM2 56h1v1h-1zM8 64h1v1h-1zM0 65h1v1h-1zM4 66h1v1h-1zM9 66h1v1h-1zM5 67h1v1h-1zM14 78h1v1h-1z"/>
<path fill="#8e2a2e" d="M3 0h1v1h-1zM4 0h1v1h-1zM7 0h1v1h-1zM5 2h1v1h-1zM6 2h1v1h-1zM4 3h1v1h-1zM7 4h1v1h-1zM3 8h1v1h-1zM3 9h1v1h-1zM6 13h1v1h-1zM4 24h1v1h-1zM2 31h1v1h-1zM5 32h1v1h-1zM7 41h1v1h-1zM0 44h1v1h-1zM2 45h1v1h-1zM3 50h1v1h-1zM4 50h1v1h-1zM0 51h1v1h-1zM4 51h1v1h-1zM7 51h1v1h-1zM7 52h1v1h-1zM3 53h1v1h-1zM4 58h1v1h-1zM7 64h1v1h-1zM1 65h1v1h-1zM5 65h1v1h-1zM10 65h1v1h-1zM1 66h1v1h-1zM2 66h1v1h-1zM14 68h1v1h-1zM20 68h1v1h-1zM24 68h1v1h-1zM14 72h1v1h-1zM21 78h1v1h-1zM24 80h1v1h-1zM21 81h1v1h-1zM24 83h1v1h-1zM11 84h1v1h-1zM14 84h1v1h-1zM13 86h1v1h-1zM21 86h1v1h-1zM23 86h1v1h-1zM24 87h1v1h-1z"/>
</g>
<rect x="219.6" y="54" width="139.2" height="111.5" fill="none" stroke="#9aa" stroke-width="0.4"/>
<rect x="219.6" y="32" width="139.2" height="5.7" fill="#fff" stroke="#888" stroke-width="0.6"/>
<rect x="219.6" y="32" width="11.14" height="5.7" fill="#111"/>
<rect x="241.87" y="32" width="5.57" height="5.7" fill="#111"/>
<rect x="253.01" y="32" width="22.27" height="5.7" fill="#111"/>
<rect x="280.85" y="32" width="5.57" height="5.7" fill="#111"/>
<rect x="319.82" y="32" width="5.57" height="5.7" fill="#111"/>
<rect x="347.66" y="32" width="5.57" height="5.7" fill="#111"/>
<rect x="219.6" y="39.6" width="139.2" height="6.2" fill="#fff" stroke="#888" stroke-width="0.6"/>
<rect x="275.28" y="39.6" width="5.57" height="6.2" fill="#111"/>
<rect x="286.42" y="39.6" width="5.57" height="6.2" fill="#111"/>
<rect x="219.6" y="47.7" width="61.25" height="5.8" fill="#7f9a35"/>
<rect x="280.85" y="47.7" width="33.41" height="5.8" fill="#d0681e"/>
<rect x="314.26" y="47.7" width="5.57" height="5.8" fill="#7f9a35"/>
<rect x="319.82" y="47.7" width="38.98" height="5.8" fill="#d0681e"/>
<path d="M227.95 25.5L356.02 27.5M227.95 25.5V31M233.52 25.59V31M239.09 25.67V31M244.66 25.76V31M250.22 25.85V31M255.79 25.93V31M264.14 26.02V28.45M261.36 31V28.45H266.93V31M272.5 26.2V31M278.06 26.28V31M283.63 26.37V31M291.98 26.46V28.89M289.2 31V28.89H294.77V31M303.12 26.63V29.22M300.34 31V29.22H305.9V31M311.47 26.8V31M319.82 26.89V28.82M317.04 31V28.82H322.61V31M330.96 27.07V30.4M328.18 31V30.4H333.74V31M339.31 27.24V31M347.66 27.33V30.42M344.88 31V30.42H350.45V31M356.02 27.5V31M222.38 31V22H254.7 V25.9" fill="none" stroke="#777" stroke-width="0.55"/>
<rect x="210.4" y="54.5" width="8.6" height="111" fill="url(#gB)" stroke="#aaa" stroke-width="0.5"/>
<text transform="translate(222.38,169.8) rotate(-90)" x="0" y="1.9" font-size="5.3" text-anchor="end" fill="#111">1541</text>
<text transform="translate(227.95,169.8) rotate(-90)" x="0" y="1.9" font-size="5.3" text-anchor="end" fill="#111">1588</text>
<text transform="translate(233.52,169.8) rotate(-90)" x="0" y="1.9" font-size="5.3" text-anchor="end" fill="#111">1592</text>
<text transform="translate(239.09,169.8) rotate(-90)" x="0" y="1.9" font-size="5.3" text-anchor="end" fill="#111">1573</text>
<text transform="translate(244.66,169.8) rotate(-90)" x="0" y="1.9" font-size="5.3" text-anchor="end" fill="#111">1225-2</text>
<text transform="translate(250.22,169.8) rotate(-90)" x="0" y="1.9" font-size="5.3" text-anchor="end" fill="#111">1591</text>
<text transform="translate(255.79,169.8) rotate(-90)" x="0" y="1.9" font-size="5.3" text-anchor="end" fill="#111">1585</text>
<text transform="translate(261.36,169.8) rotate(-90)" x="0" y="1.9" font-size="5.3" text-anchor="end" fill="#111">1563</text>
<text transform="translate(266.93,169.8) rotate(-90)" x="0" y="1.9" font-size="5.3" text-anchor="end" fill="#111">1575</text>
<text transform="translate(272.5,169.8) rotate(-90)" x="0" y="1.9" font-size="5.3" text-anchor="end" fill="#111">1517</text>
<text transform="translate(278.06,169.8) rotate(-90)" x="0" y="1.9" font-size="5.3" text-anchor="end" fill="#111">1426</text>
<text transform="translate(283.63,169.8) rotate(-90)" x="0" y="1.9" font-size="5.3" text-anchor="end" fill="#111">1562</text>
<text transform="translate(289.2,169.8) rotate(-90)" x="0" y="1.9" font-size="5.3" text-anchor="end" fill="#111">1379</text>
<text transform="translate(294.77,169.8) rotate(-90)" x="0" y="1.9" font-size="5.3" text-anchor="end" fill="#111">1255</text>
<text transform="translate(300.34,169.8) rotate(-90)" x="0" y="1.9" font-size="5.3" text-anchor="end" fill="#111">1511-2</text>
<text transform="translate(305.9,169.8) rotate(-90)" x="0" y="1.9" font-size="5.3" text-anchor="end" fill="#111">1511-3</text>
<text transform="translate(311.47,169.8) rotate(-90)" x="0" y="1.9" font-size="5.3" text-anchor="end" fill="#111">1581</text>
<text transform="translate(317.04,169.8) rotate(-90)" x="0" y="1.9" font-size="5.3" text-anchor="end" fill="#111">1318</text>
<text transform="translate(322.61,169.8) rotate(-90)" x="0" y="1.9" font-size="5.3" text-anchor="end" fill="#111">1201-2</text>
<text transform="translate(328.18,169.8) rotate(-90)" x="0" y="1.9" font-size="5.3" text-anchor="end" fill="#111">1525</text>
<text transform="translate(333.74,169.8) rotate(-90)" x="0" y="1.9" font-size="5.3" text-anchor="end" fill="#111">1561</text>
<text transform="translate(339.31,169.8) rotate(-90)" x="0" y="1.9" font-size="5.3" text-anchor="end" fill="#111">1183</text>
<text transform="translate(344.88,169.8) rotate(-90)" x="0" y="1.9" font-size="5.3" text-anchor="end" fill="#111">1461</text>
<text transform="translate(350.45,169.8) rotate(-90)" x="0" y="1.9" font-size="5.3" text-anchor="end" fill="#111">1539</text>
<text transform="translate(356.02,169.8) rotate(-90)" x="0" y="1.9" font-size="5.3" text-anchor="end" fill="#111">1586</text>
<text x="456.8" y="24.38" font-size="8" text-anchor="middle" textLength="60" lengthAdjust="spacingAndGlyphs">VEN_SENSITIVE_</text>
<text x="456.8" y="33.28" font-size="8" text-anchor="middle" textLength="55" lengthAdjust="spacingAndGlyphs">CELL_LINES_UP</text>
<line x1="400.3" y1="41.5" x2="403.5" y2="41.5" stroke="#333" stroke-width="0.8"/>
<text x="397.1" y="43.77" font-size="6.3" text-anchor="end" fill="#333">1.0</text>
<line x1="400.3" y1="58.7" x2="403.5" y2="58.7" stroke="#333" stroke-width="0.8"/>
<text x="397.1" y="60.97" font-size="6.3" text-anchor="end" fill="#333">0.8</text>
<line x1="400.3" y1="75.9" x2="403.5" y2="75.9" stroke="#333" stroke-width="0.8"/>
<text x="397.1" y="78.17" font-size="6.3" text-anchor="end" fill="#333">0.6</text>
<line x1="400.3" y1="93.1" x2="403.5" y2="93.1" stroke="#333" stroke-width="0.8"/>
<text x="397.1" y="95.37" font-size="6.3" text-anchor="end" fill="#333">0.4</text>
<line x1="400.3" y1="110.3" x2="403.5" y2="110.3" stroke="#333" stroke-width="0.8"/>
<text x="397.1" y="112.57" font-size="6.3" text-anchor="end" fill="#333">0.2</text>
<line x1="400.3" y1="127.5" x2="403.5" y2="127.5" stroke="#333" stroke-width="0.8"/>
<text x="397.1" y="129.77" font-size="6.3" text-anchor="end" fill="#333">0.0</text>
<line x1="400.3" y1="144.7" x2="403.5" y2="144.7" stroke="#333" stroke-width="0.8"/>
<text x="397.1" y="146.97" font-size="6.3" text-anchor="end" fill="#333">-0.2</text>
<path d="M455.16 145V152.1M416.08 145V152.1M504.99 145V152.1M499.23 145V152.1M442.22 145V152.1M465.08 145V152.1M417.69 145V152.1M418.29 145V152.1M424.18 145V152.1M468.67 145V152.1M417.51 145V152.1M505.81 145V152.1M407.43 145V152.1M415.96 145V152.1M408.51 145V152.1M478.55 145V152.1M431.69 145V152.1M442.72 145V152.1M427.71 145V152.1M461.89 145V152.1M435.5 145V152.1M417.18 145V152.1M438.25 145V152.1M425.65 145V152.1M409.91 145V152.1M485.58 145V152.1M467.14 145V152.1M465.24 145V152.1M493.53 145V152.1M434.54 145V152.1M432.97 145V152.1M437.49 145V152.1M435.56 145V152.1M465.75 145V152.1M404.62 145V152.1M441.89 145V152.1M449.81 145V152.1M429.61 145V152.1M405.1 145V152.1M470.2 145V152.1M404.69 145V152.1M453.2 145V152.1M412.89 145V152.1M405.62 145V152.1M414.98 145V152.1M407.17 145V152.1M412.69 145V152.1M467.73 145V152.1M473.2 145V152.1M431.31 145V152.1M463.71 145V152.1M443.1 145V152.1M445.67 145V152.1M492.64 145V152.1M426.31 145V152.1M491.83 145V152.1M468.5 145V152.1M467.55 145V152.1M404.6 145V152.1M408.22 145V152.1M405.51 145V152.1M429.63 145V152.1M502.3 145V152.1M492.61 145V152.1M487.6 145V152.1M410.45 145V152.1M470.34 145V152.1M479.15 145V152.1M483.71 145V152.1M481.46 145V152.1M411.94 145V152.1M414.82 145V152.1M481.51 145V152.1M474.47 145V152.1M494.89 145V152.1" stroke="#98aa58" stroke-width="0.5" fill="none"/>
<rect x="402.6" y="144.5" width="108.3" height="8.1" fill="none" stroke="#222" stroke-width="0.9"/>
<line x1="403.5" y1="127.5" x2="510.9" y2="127.5" stroke="#222" stroke-width="0.9"/>
<line x1="403.5" y1="38.6" x2="403.5" y2="152.6" stroke="#222" stroke-width="1.1"/>
<polyline points="403.5,127.1 403.9,108 404.3,100 405.8,92.7 408.2,82.5 410.6,79.8 413.7,78.3 417.8,81.3 420.3,81.3 427.3,84.5 431.9,86.3 484,127.6 495.9,135 498.6,133.9 501.4,134.4 504.1,136.2 505.9,135.3 507.8,128 510.5,127.4" fill="none" stroke="#8a9c3a" stroke-width="1" stroke-linejoin="round"/>
<text x="409.4" y="116.53" font-size="6.2" fill="#333" textLength="25.59" lengthAdjust="spacingAndGlyphs">NES=1.86</text>
<text x="409.4" y="123.13" font-size="6.2" fill="#333" textLength="34.9" lengthAdjust="spacingAndGlyphs">FDR=0.00038</text>
<text transform="translate(380.5,93) rotate(-90)" x="0" y="2.48" font-size="6.9" text-anchor="middle" fill="#333" textLength="45" lengthAdjust="spacingAndGlyphs">Enrichment score</text>
<text x="456.6" y="162.64" font-size="7.6" text-anchor="middle" fill="#333" textLength="51.3" lengthAdjust="spacingAndGlyphs">Ranked order of GX</text>
<line x1="403.7" y1="166.4" x2="441" y2="166.4" stroke="#111" stroke-width="1"/>
<path d="M403.2 166.4L409.2 163.9L407.7 166.4L409.2 168.9z" fill="#111"/>
<line x1="472.3" y1="166.4" x2="511" y2="166.4" stroke="#111" stroke-width="1"/>
<path d="M511.5 166.4L505.5 163.9L507 166.4L505.5 168.9z" fill="#111"/>
<text x="424.6" y="176.94" font-size="7.6" text-anchor="middle" textLength="24" lengthAdjust="spacingAndGlyphs">sensitive</text>
<text x="489" y="176.94" font-size="7.6" text-anchor="middle" textLength="23" lengthAdjust="spacingAndGlyphs">resistant</text>
<text x="46.8" y="234.03" font-size="6.2" fill="#333" textLength="22" lengthAdjust="spacingAndGlyphs">P=8.7x10</text>
<text x="69" y="231.13" font-size="4.8" fill="#333" textLength="7.6" lengthAdjust="spacingAndGlyphs">-36</text>
<line x1="38.5" y1="243" x2="38.5" y2="339.6" stroke="#222" stroke-width="1.1"/>
<line x1="35" y1="245.8" x2="38.5" y2="245.8" stroke="#222" stroke-width="0.8"/>
<text x="31.9" y="248.07" font-size="6.3" text-anchor="end" fill="#333">5</text>
<line x1="35" y1="291.1" x2="38.5" y2="291.1" stroke="#222" stroke-width="0.8"/>
<text x="31.9" y="293.37" font-size="6.3" text-anchor="end" fill="#333">0</text>
<line x1="35" y1="336.4" x2="38.5" y2="336.4" stroke="#222" stroke-width="0.8"/>
<text x="31.9" y="338.67" font-size="6.3" text-anchor="end" fill="#333">-5</text>
<line x1="73.7" y1="375.5" x2="168.2" y2="375.5" stroke="#222" stroke-width="1.1"/>
<line x1="76.85" y1="375.2" x2="76.85" y2="378.2" stroke="#333" stroke-width="0.8"/>
<text x="76.85" y="386.27" font-size="6.3" text-anchor="middle" fill="#333">-5</text>
<line x1="121.6" y1="375.2" x2="121.6" y2="378.2" stroke="#333" stroke-width="0.8"/>
<text x="121.6" y="386.27" font-size="6.3" text-anchor="middle" fill="#333">0</text>
<line x1="166.35" y1="375.2" x2="166.35" y2="378.2" stroke="#333" stroke-width="0.8"/>
<text x="166.35" y="386.27" font-size="6.3" text-anchor="middle" fill="#333">5</text>
<text x="122.2" y="396.64" font-size="7.9" text-anchor="middle" fill="#333" textLength="72" lengthAdjust="spacingAndGlyphs">Primary sample FC (log2)</text>
<text transform="translate(19.9,291) rotate(-90)" x="0" y="2.84" font-size="7.9" text-anchor="middle" fill="#333" textLength="49" lengthAdjust="spacingAndGlyphs">Cell line FC (log2)</text>
<defs><radialGradient id="gc" cx="0.5" cy="0.5" r="0.5"><stop offset="0" stop-color="#404040"/><stop offset="0.08" stop-color="#6a6a6a"/><stop offset="0.25" stop-color="#9a9a9a"/><stop offset="0.8" stop-color="#aeaeae"/><stop offset="1" stop-color="#b8b8b8"/></radialGradient><filter id="bl" x="-20%" y="-20%" width="140%" height="140%"><feGaussianBlur stdDeviation="1.6"/></filter><filter id="bl2" x="-30%" y="-30%" width="160%" height="160%"><feGaussianBlur stdDeviation="4"/></filter></defs>
<path d="M97.6 292.1L121.6 267.1L144.6 290.1L122.6 316.1z" fill="url(#gc)" filter="url(#bl)"/>
<path d="M101.6 292.1L121.6 271.1L140.6 290.1L122.6 312.1z" fill="url(#gc)"/>
<path d="M113.92 304.75h1.4M100.34 271.2h1.4M131.29 277.37h1.4M122.58 325.88h1.4M136.95 287.24h1.4M129.63 259.32h1.4M101.89 287.47h1.4M89.97 286.62h1.4M133.95 302.42h1.4M97.89 285.15h1.4M117.82 308.65h1.4M94.16 297.38h1.4M119.6 267.25h1.4M110.05 281.67h1.4M133.12 305.53h1.4M98.34 283.03h1.4M146.62 319.05h1.4M127.39 257h1.4M124.74 255.36h1.4M153.08 283.04h1.4M116.55 309.94h1.4M138.19 296.7h1.4M93.35 280.7h1.4M134.11 300.03h1.4M135.99 286.24h1.4M127.46 267.09h1.4M130.46 301.85h1.4M127.35 273.07h1.4M121.29 317.24h1.4M122.71 322.09h1.4M133.2 282.66h1.4M132.59 307.52h1.4M136.66 278.8h1.4M124.26 272.83h1.4M128.33 259.2h1.4M140.55 288.7h1.4M102.7 274.37h1.4M104.69 303.37h1.4M129.75 315.11h1.4M121.8 269.88h1.4M124 325.88h1.4M132.32 300.99h1.4M108.8 301.26h1.4M129.87 268.31h1.4M129.91 303.15h1.4M98.39 301.12h1.4M137.11 322.74h1.4M113.32 311.84h1.4M129.89 272.35h1.4M145.23 290.83h1.4M111.36 305.11h1.4M102.44 299.54h1.4M116 266.13h1.4M121.62 327.04h1.4M132.82 278.6h1.4M98.74 285h1.4M104.24 282.41h1.4M116.97 246.82h1.4M140.76 289.34h1.4M119.72 322.84h1.4M99.5 288.01h1.4M140.14 296.23h1.4M126.29 268.86h1.4M145.44 293.88h1.4M130.58 306.31h1.4M135.88 271.51h1.4M135.58 283.45h1.4M142.21 291.67h1.4M134.19 279.01h1.4M104.4 281.75h1.4M123.05 272.13h1.4M113.79 264.17h1.4M129.93 273.56h1.4M123.47 315.82h1.4M120.08 314.39h1.4M126.42 328.63h1.4M117.46 269.5h1.4M140.93 296.14h1.4M128.2 308.91h1.4M124.8 258.86h1.4M141.49 307.61h1.4M109.7 275.48h1.4M94.67 293.44h1.4M114.08 307.48h1.4M120.75 251.86h1.4M98.95 281.04h1.4M112.68 308.71h1.4M132.18 300.38h1.4M105.55 286.06h1.4M133.76 268.87h1.4M131.03 277.1h1.4M102.93 284.47h1.4M131.7 281.35h1.4M121.58 268.07h1.4M121.62 266.13h1.4M120.08 270.82h1.4M112.43 307.63h1.4M117.59 315.73h1.4M117.36 241.11h1.4M122.26 267.98h1.4M121.23 329.95h1.4M121.38 337.31h1.4M102.78 277.96h1.4M107.34 302.35h1.4M103.52 295.26h1.4M143.44 306.71h1.4M113.7 277.64h1.4M122.45 268.34h1.4M122.16 270.39h1.4M122.76 271.7h1.4M102.31 301.74h1.4M116.71 250.01h1.4M113.35 304.51h1.4M98.12 275.93h1.4M116.92 316.24h1.4M121.21 268.37h1.4M110.5 273.3h1.4M141.84 271.68h1.4M120.92 329.75h1.4M116.41 270.56h1.4M89.61 287.97h1.4M142.04 294.26h1.4M79.33 297.48h1.4M125.76 274.63h1.4M101.16 290.65h1.4M104.72 296.93h1.4M136.45 257.23h1.4M102.42 314.56h1.4M123.12 316.42h1.4M99.16 287.41h1.4M129.07 265.84h1.4M129.54 252.22h1.4M123.11 324.04h1.4M93.58 307.6h1.4M150.68 279.8h1.4M129.04 272.15h1.4M115.4 272.92h1.4M109.11 267.54h1.4M113.08 251.01h1.4M98.45 289.71h1.4M133.76 310.43h1.4M90.17 289.43h1.4M126.55 271.74h1.4M138.65 287.49h1.4M94.07 289.35h1.4M107.02 268.26h1.4M139.84 272.51h1.4M105.49 286.28h1.4M142.46 290.45h1.4M108.07 309.19h1.4M125.3 313.39h1.4M104.5 295.28h1.4M135.98 297.75h1.4M119.35 256.73h1.4M88.71 280.29h1.4M132.48 300.66h1.4M117.87 266.83h1.4M106.84 272.23h1.4M127.07 271.82h1.4M123.76 308.99h1.4M124.75 309.49h1.4M127.54 312.36h1.4M128.84 278.83h1.4M135.5 301.23h1.4M124.65 317.23h1.4M125.02 313.35h1.4M109.99 303.82h1.4M84.7 285.27h1.4M105.3 302.22h1.4M142.35 305.62h1.4M113.22 304.24h1.4M121.44 318.25h1.4M114.98 308.58h1.4M124.89 321.43h1.4M129.39 302.88h1.4M127.2 311.2h1.4M131.15 280.07h1.4M122.3 265.75h1.4M94.18 297.21h1.4M111.07 302.45h1.4M135.46 284.58h1.4M133.64 302.77h1.4M96.41 307.12h1.4M101.11 296.79h1.4M119.83 253.49h1.4M150.91 292.34h1.4M101.41 290.25h1.4M105.35 286.6h1.4M118.47 312.32h1.4M145.66 290.48h1.4M103.2 300.06h1.4M126.04 326.8h1.4M123.77 270.97h1.4M144.32 290.18h1.4M120.95 264.69h1.4M102.57 283.72h1.4M133.17 301.37h1.4M133.88 302.37h1.4M85.06 297.18h1.4M113.5 265.58h1.4M142.97 294.79h1.4M94.26 304.77h1.4M118.19 267.12h1.4M161.47 293.91h1.4M101.02 295.24h1.4M113 304.35h1.4M120.81 262.69h1.4M148.54 283.74h1.4M102.72 288.55h1.4M120.61 322.32h1.4M148.35 308.54h1.4M139.52 284.99h1.4M142.53 298.59h1.4M99.74 293.65h1.4M127.72 269.81h1.4M129.71 310.74h1.4M144.9 306.52h1.4M114.37 325.36h1.4M100.15 302.44h1.4M137.83 274.14h1.4M132.91 301.02h1.4M122.14 259.06h1.4M141.61 318.78h1.4M135.18 328.28h1.4M92.53 292.41h1.4M129.53 310.16h1.4M108.38 308.77h1.4M135.85 283.04h1.4M101.22 281.61h1.4M101.39 259h1.4M106.16 298.37h1.4M141.41 311.99h1.4M104.97 282.25h1.4M165.61 282.34h1.4M122.27 312.78h1.4M98.81 297.73h1.4M170.56 289.84h1.4M118.95 271.13h1.4M117.94 320.88h1.4M116.88 267.68h1.4M113.94 309.58h1.4M116.52 265.93h1.4M115.37 254.1h1.4M131.66 307.26h1.4M90.91 295.88h1.4M90.44 310.32h1.4M133.85 283h1.4M140.74 285.82h1.4M120.77 261.16h1.4M144.47 296.64h1.4M141.24 294.33h1.4M157.87 307.95h1.4M134.3 302.58h1.4M125.62 310.51h1.4M91.15 286.01h1.4M103.47 293.57h1.4M119.55 265.84h1.4M140.29 296.2h1.4M152.27 314.7h1.4M112.76 303.64h1.4M140.82 284.92h1.4M138.69 278.64h1.4M137.98 308.76h1.4M136.81 286.85h1.4M136.64 296.26h1.4M98.72 279.3h1.4M120.86 311.75h1.4M109.41 303.1h1.4M110.4 303.37h1.4M118.16 319.98h1.4M101.62 300.19h1.4M85.48 273.34h1.4M136.93 315.8h1.4M108.65 300.95h1.4M109.18 279.51h1.4M127.5 309.11h1.4M131.92 279.72h1.4M104.5 299.38h1.4M125.74 273.98h1.4M104.59 272.78h1.4M120.14 331.21h1.4M125.72 275.32h1.4M120.95 313.13h1.4M101.67 292.67h1.4M87.42 284.97h1.4M112.25 277.7h1.4M135.69 304.62h1.4M121.98 313.81h1.4M138.27 279.31h1.4M111.65 319.81h1.4M104.82 297.34h1.4M123.59 339.77h1.4M103.59 299.69h1.4M120.52 260.76h1.4M136.98 302.69h1.4M147.12 301.47h1.4M130.72 306.55h1.4M128.05 306.72h1.4M106.4 303.35h1.4M123.3 309.42h1.4M119.26 269.65h1.4M137.58 287.37h1.4M126.88 333.72h1.4M128.84 276.13h1.4M117.87 257.26h1.4M118.98 262.17h1.4M136.53 285.09h1.4M99.96 287.83h1.4M146.82 283.94h1.4M136.77 268.58h1.4M102.53 302.72h1.4M143.02 266.04h1.4M140.03 296.32h1.4M108.54 300.33h1.4M109.95 252.55h1.4M135.58 282.57h1.4M128.18 315.7h1.4M122.77 327.67h1.4M117.66 321.42h1.4M140.66 289.92h1.4M140.83 290.64h1.4M100.6 293.25h1.4M135.24 274.26h1.4M107.76 283.09h1.4M123.64 308.91h1.4M94.69 296.44h1.4M87.77 286.87h1.4M111.04 269.16h1.4M120.55 327.67h1.4M135.19 300.97h1.4M138.93 292.72h1.4M131.27 273.58h1.4M131.06 276.15h1.4M107.26 307.45h1.4M124.1 253.11h1.4M139.44 285.92h1.4M128.18 261.12h1.4M116.64 322h1.4M119.95 317.31h1.4M150.32 298.91h1.4M105.83 278.98h1.4M116.94 314.11h1.4M131.37 278.96h1.4M128.47 263.03h1.4M119.8 332.49h1.4M110.92 315.2h1.4M127.77 273.59h1.4M116.07 258.92h1.4M153.65 286.25h1.4M129.05 310.75h1.4M111.13 276.14h1.4M90.89 290.25h1.4M139.69 309.14h1.4M96.2 318.31h1.4M138.49 303.66h1.4M104.93 286.88h1.4M113.07 322.84h1.4M121.24 329.1h1.4M114.68 311.46h1.4M126.6 275.09h1.4M129.67 277.48h1.4M139.92 292.52h1.4M104.02 305.12h1.4M112.08 332.06h1.4M104.59 286.8h1.4M119.15 316.31h1.4M124.91 314.4h1.4M102.96 288.05h1.4M114.58 311.09h1.4M138.6 285.98h1.4M127.49 322.19h1.4M128.23 274.64h1.4M130.39 278.11h1.4M142.16 289.54h1.4M100.65 287.73h1.4M108.82 319.6h1.4M121.89 264.47h1.4M126.48 256.03h1.4M126.52 266.53h1.4M113.38 305.58h1.4M147.24 307.65h1.4M102.23 292.53h1.4M93.09 294.14h1.4M123.34 317.82h1.4M138.95 294.59h1.4M123.03 309.98h1.4M107.91 312.58h1.4M123.1 267.52h1.4M109.85 277.39h1.4M118.85 311.61h1.4M138.47 294.79h1.4M127.97 252.08h1.4M127.82 273.02h1.4M103.29 287.42h1.4M109.78 275.21h1.4M107.35 325.94h1.4M123.2 325.11h1.4M147.55 304.42h1.4M132.24 300.29h1.4M144.24 263.13h1.4M130.28 279.42h1.4M126.36 253.41h1.4M99.89 291.34h1.4M81.76 305.84h1.4M121.51 315.1h1.4M126.61 270.73h1.4M135.16 309.92h1.4M142.81 272.92h1.4M121.13 255.42h1.4M129.75 270.39h1.4M134.16 306.98h1.4M140.54 280.32h1.4M146.07 292.25h1.4M135.83 302.92h1.4M133.83 271.74h1.4M135.6 312.58h1.4M140.21 289.87h1.4M118.82 322.32h1.4M118.17 332.47h1.4M97.12 275.99h1.4M94.19 291.09h1.4M98.46 284.64h1.4M134.01 333.41h1.4M94.31 286.52h1.4M137.83 312.51h1.4M133.33 306.06h1.4M132.38 307.95h1.4M107 302.82h1.4M153.22 299.89h1.4M132.4 275.41h1.4M129.83 275.04h1.4M94.78 300.7h1.4M110.83 306.39h1.4M121.56 268.71h1.4M139.88 266.16h1.4M117.53 237.48h1.4M114.22 314.01h1.4M124.79 313.04h1.4M107.13 271.22h1.4M134.48 263.2h1.4M114.97 315.74h1.4M130.46 279.51h1.4M120.29 257.05h1.4M117.85 311.14h1.4M110.21 306.56h1.4M140.58 290.22h1.4M155.68 288.77h1.4M126.94 309.66h1.4M117.43 309.71h1.4M121.3 267.2h1.4M130.11 278.53h1.4M150.11 287.28h1.4M86.22 303.87h1.4M124.76 263.09h1.4M93.64 286.21h1.4M116.76 310.09h1.4M114.21 264.66h1.4M107.69 306.07h1.4M115.59 273.95h1.4M100.56 290.21h1.4M111.93 303.5h1.4M101.68 293.8h1.4M121.17 265.31h1.4M114.07 274.57h1.4M101.15 265.78h1.4M122.65 316.59h1.4M129.86 303.23h1.4M92.44 262.15h1.4M121.24 314.27h1.4M89.78 278.57h1.4M117.13 267.28h1.4M97.99 287.2h1.4M139.12 251.91h1.4M107.33 304.83h1.4M111.33 278.23h1.4M97.05 290.7h1.4M121.81 318.01h1.4M119.77 250.71h1.4M124.81 264.05h1.4M122.06 314.03h1.4M88.34 312.77h1.4M115.89 314.26h1.4M123.81 311.47h1.4M98.22 279.7h1.4M132.08 276.47h1.4M94.15 306.72h1.4M134.91 301.99h1.4M96.58 284.98h1.4M129.37 245.19h1.4M93.38 294.36h1.4M132.39 316.89h1.4M110.53 279.99h1.4M134.47 281.23h1.4M135.43 298.65h1.4M146.19 292.74h1.4M99 285.57h1.4M112.23 307.5h1.4M120.46 315.34h1.4M118.69 314.78h1.4M109.16 303.96h1.4M115.24 312.4h1.4M126.9 276.71h1.4M131.66 312.06h1.4M108.3 267.43h1.4M133.92 301.61h1.4M113.29 314.86h1.4M124.3 309.34h1.4M98.08 299.16h1.4M159.57 291.61h1.4M125.72 274.07h1.4M93.75 285.75h1.4M111.26 280.31h1.4M95.4 293.26h1.4M104.86 321.83h1.4M114.17 306.2h1.4M106.92 266.37h1.4M109.07 314.97h1.4M107.41 298.18h1.4M140.03 298.37h1.4M121.28 270.66h1.4M138.77 288.35h1.4M102.05 305.56h1.4M148.77 291.86h1.4M135.54 296.88h1.4M100.42 306.07h1.4M114.57 258.2h1.4M133.95 302.07h1.4M102.61 293.73h1.4M123.79 270.68h1.4M132.02 279.29h1.4M135.41 297.65h1.4M108.01 282.78h1.4M128 306.81h1.4M120.17 269.82h1.4M103.88 287.8h1.4M144.92 282.44h1.4M127.5 269.31h1.4M121.59 322.3h1.4M110.43 314.86h1.4M149.69 289.51h1.4M119.57 263.39h1.4M138.29 286.53h1.4M133.27 326.28h1.4M134.37 302.97h1.4M97.34 316.81h1.4M119.98 314.06h1.4M128.53 305.93h1.4M129.41 252.91h1.4M123.97 312.54h1.4M114.86 267.02h1.4M118.41 249.44h1.4M107.95 274.81h1.4M101.39 265.24h1.4M124.07 325.64h1.4M104.43 296.63h1.4M133.43 298.94h1.4M122.76 319.29h1.4M135.46 298.24h1.4M109.97 272.01h1.4M117.77 312.96h1.4M108.63 305.18h1.4M111.27 256.13h1.4M105.1 295.63h1.4M140.45 298.45h1.4M116.4 312.56h1.4M141.5 283.43h1.4M110.47 319.56h1.4M125.15 273.96h1.4M118.37 314.04h1.4M138.82 304.36h1.4M127.64 269.06h1.4M164.63 290.64h1.4M131.15 265.36h1.4M100.82 305.22h1.4M81.53 289.25h1.4M119.28 310.41h1.4M119.48 324.9h1.4M117.03 326.94h1.4M97.38 288.19h1.4M128.82 261.44h1.4M135.45 302.61h1.4M122.8 250.83h1.4M102.34 296.59h1.4M121.29 330.64h1.4M147.94 284.89h1.4M145.3 279.59h1.4M124.49 308.31h1.4M143 291.86h1.4M118.6 314.1h1.4M132.67 282.83h1.4M111.03 274.22h1.4M104.61 282.46h1.4M146.8 276.48h1.4M102.37 279.38h1.4M101.35 292.89h1.4M107.16 309.51h1.4M119.11 318.02h1.4M128.99 306.55h1.4M108.29 278.69h1.4M136.08 280.32h1.4M146.86 277.07h1.4M142.04 302.06h1.4M114.55 308.29h1.4M144.23 301.84h1.4M124.52 269.93h1.4M100.69 254.13h1.4M124.37 270.07h1.4M138.86 295.52h1.4M122.75 310.13h1.4M86.2 295.42h1.4M137.68 278.76h1.4M108.23 323.13h1.4M121.02 264.51h1.4M139.65 294.3h1.4M106.27 297.02h1.4M115.96 270.35h1.4M93.48 290.46h1.4M111.36 278.54h1.4M124.12 266.17h1.4M111.79 254.32h1.4M132.14 282.28h1.4M139.35 295.13h1.4M102.69 285.6h1.4M125.11 324.04h1.4M162.95 290.88h1.4M84.06 281.47h1.4M140.48 271.21h1.4M136.82 280.78h1.4M122.81 313.28h1.4M140.07 266.23h1.4M103.01 285.46h1.4M128.28 305.25h1.4M144.57 284.33h1.4M113.23 315.41h1.4M107.82 317.13h1.4M131.7 278.77h1.4M85.44 306.63h1.4M106.93 270.45h1.4M124.41 265.28h1.4M119.43 262.32h1.4M110.03 316.18h1.4M135.89 296.55h1.4M112.63 307.43h1.4M124.91 309.56h1.4M118.92 319.93h1.4M134.16 282.86h1.4M90 269.6h1.4M96.78 294.2h1.4M129 310.33h1.4M106.88 302.61h1.4M141.44 257.84h1.4M122.67 312h1.4M112.16 262.51h1.4M136.81 295.84h1.4M133.47 280.44h1.4M98.81 277.15h1.4M105.66 299.03h1.4M119.63 263.51h1.4M127.16 269.93h1.4M117.36 263.09h1.4M136.31 273.66h1.4M89.55 314.73h1.4M105.02 300.1h1.4M107.58 305.67h1.4M103.37 295.68h1.4M145.81 291.1h1.4M131.66 314.5h1.4M108.08 283.16h1.4M96.05 307.48h1.4M136.25 301.77h1.4M140.26 300.06h1.4M102.96 279.67h1.4M96.8 285.9h1.4M137.56 294.89h1.4M118.08 266.31h1.4M100.14 294.34h1.4M100.53 264.21h1.4M140.07 319.08h1.4M139.43 300.88h1.4M143.66 272.67h1.4M135.39 281.15h1.4M130.35 268.18h1.4M112.12 276.83h1.4M109.57 320.65h1.4M136.94 300.4h1.4M84.21 288.04h1.4M134.53 297.82h1.4M115.01 276.53h1.4M101.25 304.51h1.4M115.38 266.31h1.4M135.72 307.33h1.4M125.28 273.83h1.4M112.16 307.98h1.4M101.54 297.04h1.4M115.03 307.89h1.4M113.9 320.58h1.4M122.62 318.49h1.4M103.78 298.83h1.4M131.49 305.56h1.4M88.64 285.42h1.4M115.69 266.89h1.4M104.59 286.65h1.4M102.54 284.12h1.4M131.9 304.62h1.4M111.61 313.18h1.4M140.39 285.07h1.4M136.99 285.73h1.4M122.65 323.84h1.4M117.05 270.92h1.4M135.98 302.18h1.4M142.47 301.88h1.4M128.2 273.73h1.4" stroke="#9a9a9a" stroke-width="1.4" fill="none"/>
<path d="M132.7 235.92h0M128.66 237.54h0M131.35 244.81h0M90.16 250.73h0M100.39 251.54h0M109.81 250.73h0M119.77 251.54h0M123.27 255.58h0M125.97 252.89h0M131.35 251.54h0M136.74 251.54h0M140.78 252.89h0M140.78 256.93h0M135.39 259.62h0M127.31 256.93h0M124.08 259.62h0M117.89 259.62h0M113.85 256.93h0M107.12 259.62h0M100.39 254.77h0M116.54 263.66h0M121.93 263.66h0M127.31 265h0M132.7 265h0M131.35 271.73h0M124.62 271.73h0M120.58 269.04h0M115.2 269.04h0M112.5 273.08h0M115.2 277.12h0M121.93 278.47h0M127.31 277.12h0M124.62 281.16h0M117.89 283.85h0M115.2 287.89h0M121.93 291.93h0M131.35 282.5h0M138.08 267.7h0M135.39 274.43h0M139.43 278.47h0M140.78 283.85h0M143.47 287.89h0M148.85 286.54h0M151.55 282.5h0M154.24 287.89h0M146.16 277.12h0M150.2 273.08h0M156.93 278.47h0M160.97 281.16h0M165.01 277.12h0M166.35 287.89h0M162.32 286.54h0M152.89 269.04h0M155.58 273.08h0M151.55 295.97h0M144.81 295.97h0M138.08 291.93h0M132.7 291.93h0M131.35 301.35h0M120.58 301.35h0M124.62 304.04h0M148.85 308.08h0M163.66 301.35h0M170.39 290.58h0M191.93 298.66h0M183.86 312.12h0M198.66 336.35h0M166.35 275.77h0M109.81 267.7h0M101.73 267.7h0M103.08 278.47h0M90.96 283.85h0M86.93 287.89h0M80.19 278.47h0M78.85 287.35h0M80.19 299.47h0M86.93 303.24h0M95 295.97h0M93.66 308.08h0M84.23 308.08h0M89.62 312.12h0M96.35 312.12h0M103.08 304.04h0M103.08 317.51h0M113.85 310.78h0M116.54 314.81h0M109.81 317.51h0M119.24 317.51h0M123.27 320.2h0M131.35 318.85h0M127.31 324.24h0M120.58 325.58h0M117.89 329.62h0M112.5 330.97h0M107.12 332.32h0M105.77 337.7h0M112.5 340.39h0M116.54 343.09h0M119.24 340.39h0M125.97 341.74h0M124.62 345.78h0M117.89 351.16h0M113.85 356.55h0M107.12 356.55h0M101.73 349.82h0M105.77 352.51h0M109.81 361.93h0M123.27 361.93h0M127.31 355.2h0M132.7 356.55h0M136.74 357.89h0M138.08 367.32h0M152.89 348.47h0M155.58 335.01h0M158.28 324.24h0M152.89 318.85h0M163.66 330.97h0M174.43 356.55h0M138.08 349.82h0M146.16 359.24h0M140.78 328.28h0M139.43 336.35h0M130.01 332.32h0M132.7 336.35h0M111.16 326.93h0M100.39 324.24h0M93.66 320.2h0M115.2 336.35h0M121.93 336.35h0M127.31 337.7h0M130.01 348.47h0M138.18 267.44h0M116.31 263.02h0M121.05 281.63h0M124.87 262.62h0M123.95 256.02h0M129.55 272.92h0M118.22 261.37h0M130.97 256.87h0M114.24 276.14h0M115.45 278.32h0M122.14 270.22h0M126.95 280.38h0M129.11 259.7h0M134.35 261.55h0M139.16 263.67h0M122.92 267.85h0M131.06 264.53h0M118.84 263.73h0M135.12 265.62h0M135.2 261.09h0M118.86 274.17h0M118.93 280.57h0M135.95 270.37h0M125.86 258.67h0M126.73 275h0M120.24 276.22h0M119.76 257.32h0M139.07 278.5h0M135.04 278.87h0M138.57 267.43h0M127.01 271.52h0M124.53 266.75h0M139.49 278.03h0M155.84 287.75h0M152.15 291.21h0M146.17 281.42h0M153.23 287.47h0M152.57 279.54h0M139.77 283.37h0M147.35 291.99h0M141.13 277.99h0M147.27 277.6h0M151.93 291.77h0M148.11 278.72h0M143.4 289.52h0M146.51 287.05h0M139.96 277.06h0M150.34 285.81h0M156.63 290.64h0M138.79 287.25h0M143.51 285.46h0M150.77 277.1h0M156.89 288.38h0M147.3 285.2h0M125.61 328.04h0M115.28 321.5h0M129.55 344.47h0M122.93 341.78h0M118.41 322.01h0M117.88 341.74h0M128.58 332.88h0M112.85 319.06h0M120.36 334.67h0M128.79 338.81h0M122.34 327.94h0M126.05 313.36h0M117.44 317.58h0M123.63 327.15h0" stroke="#0a0a0a" stroke-width="3.3" stroke-linecap="round" fill="none"/>
<circle cx="148.2" cy="217.2" r="1.5" fill="#111"/>
<line x1="150.2" y1="217.2" x2="152.6" y2="217.2" stroke="#222" stroke-width="0.6"/>
<text x="153.8" y="219.5" font-size="6.4" fill="#333" textLength="17.7" lengthAdjust="spacingAndGlyphs">MS4A1</text>
<circle cx="153.1" cy="239.2" r="2.1" fill="#a01818" stroke="#6a1010" stroke-width="0.5"/>
<line x1="155.1" y1="239.2" x2="157.7" y2="239.2" stroke="#222" stroke-width="0.6"/>
<text x="158.9" y="241.5" font-size="6.4" fill="#333" textLength="14.2" lengthAdjust="spacingAndGlyphs">CCR7</text>
<circle cx="147.4" cy="257.6" r="2.1" fill="#a01818" stroke="#6a1010" stroke-width="0.5"/>
<line x1="149.4" y1="257.6" x2="151.8" y2="257.6" stroke="#222" stroke-width="0.6"/>
<text x="153" y="259.9" font-size="6.4" fill="#333" textLength="17" lengthAdjust="spacingAndGlyphs">SORL1</text>
<circle cx="170.3" cy="263.8" r="2.1" fill="#a01818" stroke="#6a1010" stroke-width="0.5"/>
<line x1="172.3" y1="263.8" x2="174.6" y2="263.8" stroke="#222" stroke-width="0.6"/>
<text x="175.8" y="266.1" font-size="6.4" fill="#333" textLength="20" lengthAdjust="spacingAndGlyphs">VPREB3</text>
<circle cx="140.5" cy="267.3" r="2.1" fill="#a01818" stroke="#6a1010" stroke-width="0.5"/>
<text x="143.8" y="265.43" font-size="6.2" fill="#333" textLength="23" lengthAdjust="spacingAndGlyphs">TRABD2A</text>
<circle cx="72.8" cy="329.2" r="2.1" fill="#a01818" stroke="#6a1010" stroke-width="0.5"/>
<line x1="68.1" y1="329.2" x2="70.8" y2="329.2" stroke="#222" stroke-width="0.6"/>
<text x="66.9" y="331.5" font-size="6.4" text-anchor="end" fill="#333" textLength="15" lengthAdjust="spacingAndGlyphs">TDO2</text>
<circle cx="63.8" cy="368.9" r="2.1" fill="#a01818" stroke="#6a1010" stroke-width="0.5"/>
<line x1="59.6" y1="368.9" x2="61.8" y2="368.9" stroke="#222" stroke-width="0.6"/>
<text x="58.4" y="371.2" font-size="6.4" text-anchor="end" fill="#333" textLength="20" lengthAdjust="spacingAndGlyphs">EFEMP1</text>
<line x1="236.9" y1="227.3" x2="236.9" y2="305.3" stroke="#222" stroke-width="1.2"/>
<line x1="234.1" y1="303" x2="236.9" y2="303" stroke="#222" stroke-width="0.8"/>
<text x="231.7" y="305.16" font-size="6" text-anchor="end" fill="#333">0</text>
<line x1="234.1" y1="284.6" x2="236.9" y2="284.6" stroke="#222" stroke-width="0.8"/>
<text x="231.7" y="286.76" font-size="6" text-anchor="end" fill="#333">2</text>
<line x1="234.1" y1="266.2" x2="236.9" y2="266.2" stroke="#222" stroke-width="0.8"/>
<text x="231.7" y="268.36" font-size="6" text-anchor="end" fill="#333">4</text>
<line x1="234.1" y1="247.8" x2="236.9" y2="247.8" stroke="#222" stroke-width="0.8"/>
<text x="231.7" y="249.96" font-size="6" text-anchor="end" fill="#333">6</text>
<line x1="234.1" y1="229.4" x2="236.9" y2="229.4" stroke="#222" stroke-width="0.8"/>
<text x="231.7" y="231.56" font-size="6" text-anchor="end" fill="#333">8</text>
<line x1="253.5" y1="305.8" x2="291.8" y2="305.8" stroke="#222" stroke-width="1.5"/>
<line x1="256.2" y1="305.8" x2="256.2" y2="308.3" stroke="#222" stroke-width="0.8"/>
<line x1="289" y1="305.8" x2="289" y2="308.3" stroke="#222" stroke-width="0.8"/>
<text x="256.2" y="317.58" font-size="6.6" text-anchor="middle" fill="#333" textLength="8.4" lengthAdjust="spacingAndGlyphs">sen</text>
<text x="289" y="315.78" font-size="6.6" text-anchor="middle" fill="#333" textLength="7.2" lengthAdjust="spacingAndGlyphs">res</text>
<text x="272.7" y="222.18" font-size="8" text-anchor="middle" textLength="18.4" lengthAdjust="spacingAndGlyphs">BCL2</text>
<g fill="#5fa83a"><circle cx="256.2" cy="238.1" r="2.4"/><circle cx="247.5" cy="248.7" r="2.4"/><circle cx="252.7" cy="249.8" r="2.4"/><circle cx="261.3" cy="251.9" r="2.4"/><circle cx="247.2" cy="257.1" r="2.4"/><circle cx="252.1" cy="258.3" r="2.4"/><circle cx="256.2" cy="256.5" r="2.4"/><circle cx="264.8" cy="256.8" r="2.4"/><circle cx="260.8" cy="260.6" r="2.4"/><circle cx="256.2" cy="262" r="2.4"/><circle cx="256.2" cy="266.9" r="2.4"/><circle cx="261.3" cy="266.3" r="2.4"/></g>
<g fill="#e0901e"><circle cx="290.8" cy="246.2" r="2.4"/><circle cx="286.7" cy="249" r="2.4"/><circle cx="293.7" cy="252.2" r="2.4"/><circle cx="277.5" cy="259.1" r="2.4"/><circle cx="284.4" cy="258.8" r="2.4"/><circle cx="298.3" cy="260.2" r="2.4"/><circle cx="279.8" cy="263.7" r="2.4"/><circle cx="283.8" cy="265.2" r="2.4"/><circle cx="288.5" cy="266.9" r="2.4"/><circle cx="293.7" cy="264.6" r="2.4"/><circle cx="288.5" cy="261.2" r="2.4"/><circle cx="289.6" cy="253.7" r="2.4"/><circle cx="295.4" cy="261.2" r="2.4"/></g>
<line x1="256.2" y1="247.9" x2="256.2" y2="263.7" stroke="#1a1a1a" stroke-width="1.1"/>
<line x1="252.9" y1="247.9" x2="259.5" y2="247.9" stroke="#1a1a1a" stroke-width="1.1"/>
<line x1="252.9" y1="263.7" x2="259.5" y2="263.7" stroke="#1a1a1a" stroke-width="1.1"/>
<line x1="249.8" y1="255.6" x2="262.6" y2="255.6" stroke="#1a1a1a" stroke-width="1.2"/>
<line x1="289" y1="252.2" x2="289" y2="265.2" stroke="#1a1a1a" stroke-width="1.1"/>
<line x1="285.7" y1="252.2" x2="292.3" y2="252.2" stroke="#1a1a1a" stroke-width="1.1"/>
<line x1="285.7" y1="265.2" x2="292.3" y2="265.2" stroke="#1a1a1a" stroke-width="1.1"/>
<line x1="282.6" y1="258.8" x2="295.4" y2="258.8" stroke="#1a1a1a" stroke-width="1.2"/>
<line x1="335.8" y1="227.5" x2="335.8" y2="305.3" stroke="#222" stroke-width="1.2"/>
<line x1="333" y1="303.2" x2="335.8" y2="303.2" stroke="#222" stroke-width="0.8"/>
<text x="330.6" y="305.36" font-size="6" text-anchor="end" fill="#333">0</text>
<line x1="333" y1="291.05" x2="335.8" y2="291.05" stroke="#222" stroke-width="0.8"/>
<text x="330.6" y="293.21" font-size="6" text-anchor="end" fill="#333">1</text>
<line x1="333" y1="278.9" x2="335.8" y2="278.9" stroke="#222" stroke-width="0.8"/>
<text x="330.6" y="281.06" font-size="6" text-anchor="end" fill="#333">2</text>
<line x1="333" y1="266.75" x2="335.8" y2="266.75" stroke="#222" stroke-width="0.8"/>
<text x="330.6" y="268.91" font-size="6" text-anchor="end" fill="#333">3</text>
<line x1="333" y1="254.6" x2="335.8" y2="254.6" stroke="#222" stroke-width="0.8"/>
<text x="330.6" y="256.76" font-size="6" text-anchor="end" fill="#333">4</text>
<line x1="333" y1="242.45" x2="335.8" y2="242.45" stroke="#222" stroke-width="0.8"/>
<text x="330.6" y="244.61" font-size="6" text-anchor="end" fill="#333">5</text>
<line x1="333" y1="230.3" x2="335.8" y2="230.3" stroke="#222" stroke-width="0.8"/>
<text x="330.6" y="232.46" font-size="6" text-anchor="end" fill="#333">6</text>
<line x1="351.9" y1="305.8" x2="390.4" y2="305.8" stroke="#222" stroke-width="1.5"/>
<line x1="355.1" y1="305.8" x2="355.1" y2="308.3" stroke="#222" stroke-width="0.8"/>
<line x1="387.4" y1="305.8" x2="387.4" y2="308.3" stroke="#222" stroke-width="0.8"/>
<text x="355.1" y="317.58" font-size="6.6" text-anchor="middle" fill="#333" textLength="8.4" lengthAdjust="spacingAndGlyphs">sen</text>
<text x="387.4" y="315.78" font-size="6.6" text-anchor="middle" fill="#333" textLength="7.2" lengthAdjust="spacingAndGlyphs">res</text>
<text x="371.3" y="222.38" font-size="8" text-anchor="middle" textLength="25.8" lengthAdjust="spacingAndGlyphs">BCL2L1</text>
<g fill="#5fa83a"><circle cx="348.3" cy="246.2" r="2.4"/><circle cx="353.1" cy="248.2" r="2.4"/><circle cx="358.8" cy="247.5" r="2.4"/><circle cx="351.4" cy="254.2" r="2.4"/><circle cx="356.4" cy="252.9" r="2.4"/><circle cx="360.2" cy="257.6" r="2.4"/><circle cx="355.5" cy="258.9" r="2.4"/><circle cx="359.5" cy="264.3" r="2.4"/><circle cx="354.5" cy="265.3" r="2.4"/><circle cx="351.4" cy="270.1" r="2.4"/><circle cx="355.1" cy="273.7" r="2.4"/><circle cx="359.9" cy="273.7" r="2.4"/></g>
<g fill="#e0901e"><circle cx="381.7" cy="240.5" r="2.4"/><circle cx="386.8" cy="237.8" r="2.4"/><circle cx="391.1" cy="241.4" r="2.4"/><circle cx="389.1" cy="248.2" r="2.4"/><circle cx="386.8" cy="252.2" r="2.4"/><circle cx="376.3" cy="258.9" r="2.4"/><circle cx="379" cy="261" r="2.4"/><circle cx="382.4" cy="262.3" r="2.4"/><circle cx="387.4" cy="263.4" r="2.4"/><circle cx="392.8" cy="262.6" r="2.4"/><circle cx="397.6" cy="261.6" r="2.4"/><circle cx="398.8" cy="258.5" r="2.4"/></g>
<line x1="355.1" y1="249.5" x2="355.1" y2="269.3" stroke="#1a1a1a" stroke-width="1.1"/>
<line x1="351.8" y1="249.5" x2="358.4" y2="249.5" stroke="#1a1a1a" stroke-width="1.1"/>
<line x1="351.8" y1="269.3" x2="358.4" y2="269.3" stroke="#1a1a1a" stroke-width="1.1"/>
<line x1="348.7" y1="259.3" x2="361.5" y2="259.3" stroke="#1a1a1a" stroke-width="1.2"/>
<line x1="387.4" y1="243.5" x2="387.4" y2="262.6" stroke="#1a1a1a" stroke-width="1.1"/>
<line x1="384.1" y1="243.5" x2="390.7" y2="243.5" stroke="#1a1a1a" stroke-width="1.1"/>
<line x1="384.1" y1="262.6" x2="390.7" y2="262.6" stroke="#1a1a1a" stroke-width="1.1"/>
<line x1="381" y1="253.3" x2="393.8" y2="253.3" stroke="#1a1a1a" stroke-width="1.2"/>
<line x1="435.8" y1="236" x2="435.8" y2="305.3" stroke="#222" stroke-width="1.2"/>
<line x1="433" y1="303.7" x2="435.8" y2="303.7" stroke="#222" stroke-width="0.8"/>
<text x="430.6" y="305.86" font-size="6" text-anchor="end" fill="#333">0</text>
<line x1="433" y1="290.66" x2="435.8" y2="290.66" stroke="#222" stroke-width="0.8"/>
<text x="430.6" y="292.82" font-size="6" text-anchor="end" fill="#333">2</text>
<line x1="433" y1="277.62" x2="435.8" y2="277.62" stroke="#222" stroke-width="0.8"/>
<text x="430.6" y="279.78" font-size="6" text-anchor="end" fill="#333">4</text>
<line x1="433" y1="264.58" x2="435.8" y2="264.58" stroke="#222" stroke-width="0.8"/>
<text x="430.6" y="266.74" font-size="6" text-anchor="end" fill="#333">6</text>
<line x1="433" y1="251.54" x2="435.8" y2="251.54" stroke="#222" stroke-width="0.8"/>
<text x="430.6" y="253.7" font-size="6" text-anchor="end" fill="#333">8</text>
<line x1="433" y1="238.5" x2="435.8" y2="238.5" stroke="#222" stroke-width="0.8"/>
<text x="430.6" y="240.66" font-size="6" text-anchor="end" fill="#333">10</text>
<line x1="452" y1="305.8" x2="490.4" y2="305.8" stroke="#222" stroke-width="1.5"/>
<line x1="454.8" y1="305.8" x2="454.8" y2="308.3" stroke="#222" stroke-width="0.8"/>
<line x1="487.1" y1="305.8" x2="487.1" y2="308.3" stroke="#222" stroke-width="0.8"/>
<text x="454.8" y="317.58" font-size="6.6" text-anchor="middle" fill="#333" textLength="8.4" lengthAdjust="spacingAndGlyphs">sen</text>
<text x="487.1" y="315.78" font-size="6.6" text-anchor="middle" fill="#333" textLength="7.2" lengthAdjust="spacingAndGlyphs">res</text>
<text x="471.3" y="222.38" font-size="8" text-anchor="middle" textLength="20.7" lengthAdjust="spacingAndGlyphs">MCL1</text>
<g fill="#5fa83a"><circle cx="444" cy="241.4" r="2.4"/><circle cx="449.4" cy="243.5" r="2.4"/><circle cx="454.8" cy="237.8" r="2.4"/><circle cx="460.2" cy="243.5" r="2.4"/><circle cx="466.2" cy="239.4" r="2.4"/><circle cx="464.5" cy="242.8" r="2.4"/><circle cx="449.4" cy="250.2" r="2.4"/><circle cx="454.8" cy="251.5" r="2.4"/><circle cx="460.2" cy="250.9" r="2.4"/><circle cx="464.9" cy="248.8" r="2.4"/><circle cx="454.8" cy="241.4" r="2.4"/></g>
<g fill="#e0901e"><circle cx="476.3" cy="240.1" r="2.4"/><circle cx="479.7" cy="243.5" r="2.4"/><circle cx="485.1" cy="238.1" r="2.4"/><circle cx="487.1" cy="245.5" r="2.4"/><circle cx="492.5" cy="244.8" r="2.4"/><circle cx="494.5" cy="238.1" r="2.4"/><circle cx="499.2" cy="238.1" r="2.4"/><circle cx="497.9" cy="242.1" r="2.4"/><circle cx="481.7" cy="242.1" r="2.4"/><circle cx="489.8" cy="242.1" r="2.4"/></g>
<line x1="454.8" y1="240.1" x2="454.8" y2="249.5" stroke="#1a1a1a" stroke-width="1.1"/>
<line x1="451.5" y1="240.1" x2="458.1" y2="240.1" stroke="#1a1a1a" stroke-width="1.1"/>
<line x1="451.5" y1="249.5" x2="458.1" y2="249.5" stroke="#1a1a1a" stroke-width="1.1"/>
<line x1="448.4" y1="244.8" x2="461.2" y2="244.8" stroke="#1a1a1a" stroke-width="1.2"/>
<line x1="487.1" y1="238.7" x2="487.1" y2="243.5" stroke="#1a1a1a" stroke-width="1.1"/>
<line x1="483.8" y1="238.7" x2="490.4" y2="238.7" stroke="#1a1a1a" stroke-width="1.1"/>
<line x1="483.8" y1="243.5" x2="490.4" y2="243.5" stroke="#1a1a1a" stroke-width="1.1"/>
<line x1="480.7" y1="241.4" x2="493.5" y2="241.4" stroke="#1a1a1a" stroke-width="1.2"/>
<line x1="335.8" y1="339.6" x2="335.8" y2="417.7" stroke="#222" stroke-width="1.2"/>
<line x1="333" y1="415.3" x2="335.8" y2="415.3" stroke="#222" stroke-width="0.8"/>
<text x="330.6" y="417.46" font-size="6" text-anchor="end" fill="#333">0</text>
<line x1="333" y1="396.9" x2="335.8" y2="396.9" stroke="#222" stroke-width="0.8"/>
<text x="330.6" y="399.06" font-size="6" text-anchor="end" fill="#333">5</text>
<line x1="333" y1="378.5" x2="335.8" y2="378.5" stroke="#222" stroke-width="0.8"/>
<text x="330.6" y="380.66" font-size="6" text-anchor="end" fill="#333">10</text>
<line x1="333" y1="360.1" x2="335.8" y2="360.1" stroke="#222" stroke-width="0.8"/>
<text x="330.6" y="362.26" font-size="6" text-anchor="end" fill="#333">15</text>
<line x1="333" y1="341.7" x2="335.8" y2="341.7" stroke="#222" stroke-width="0.8"/>
<text x="330.6" y="343.86" font-size="6" text-anchor="end" fill="#333">20</text>
<line x1="351.5" y1="418.2" x2="390.5" y2="418.2" stroke="#222" stroke-width="1.5"/>
<line x1="354.8" y1="418.2" x2="354.8" y2="420.7" stroke="#222" stroke-width="0.8"/>
<line x1="387.4" y1="418.2" x2="387.4" y2="420.7" stroke="#222" stroke-width="0.8"/>
<text x="354.8" y="430.18" font-size="6.6" text-anchor="middle" fill="#333" textLength="8.4" lengthAdjust="spacingAndGlyphs">sen</text>
<text x="387.4" y="430.18" font-size="6.6" text-anchor="middle" fill="#333" textLength="7.2" lengthAdjust="spacingAndGlyphs">res</text>
<text x="371" y="333.88" font-size="8" text-anchor="middle" textLength="47.3" lengthAdjust="spacingAndGlyphs">BCL2/BCL2L1</text>
<g fill="#5fa83a"><circle cx="354.8" cy="350.5" r="2.4"/><circle cx="354.8" cy="388.5" r="2.4"/><circle cx="359.5" cy="394.5" r="2.4"/><circle cx="354.8" cy="396.5" r="2.4"/><circle cx="346.1" cy="401.2" r="2.4"/><circle cx="351.4" cy="402.6" r="2.4"/><circle cx="358.8" cy="402.6" r="2.4"/><circle cx="354.8" cy="406" r="2.4"/><circle cx="345.1" cy="409.3" r="2.4"/><circle cx="350.1" cy="410" r="2.4"/><circle cx="359.5" cy="410.3" r="2.4"/><circle cx="354.8" cy="413.4" r="2.4"/></g>
<g fill="#e0901e"><circle cx="387.4" cy="392.8" r="2.4"/><circle cx="392.5" cy="392.2" r="2.4"/><circle cx="383.7" cy="401.9" r="2.4"/><circle cx="392.5" cy="404.6" r="2.4"/><circle cx="376.3" cy="410.3" r="2.4"/><circle cx="382.4" cy="412.4" r="2.4"/><circle cx="387.8" cy="413.4" r="2.4"/><circle cx="393.2" cy="412.7" r="2.4"/><circle cx="397.9" cy="411.1" r="2.4"/><circle cx="398.5" cy="408.9" r="2.4"/><circle cx="387.1" cy="404.6" r="2.4"/></g>
<line x1="354.8" y1="382.1" x2="354.8" y2="415.4" stroke="#1a1a1a" stroke-width="1.1"/>
<line x1="351.5" y1="382.1" x2="358.1" y2="382.1" stroke="#1a1a1a" stroke-width="1.1"/>
<line x1="351.5" y1="415.4" x2="358.1" y2="415.4" stroke="#1a1a1a" stroke-width="1.1"/>
<line x1="348.4" y1="398.5" x2="361.2" y2="398.5" stroke="#1a1a1a" stroke-width="1.2"/>
<line x1="387.4" y1="399.6" x2="387.4" y2="414" stroke="#1a1a1a" stroke-width="1.1"/>
<line x1="384.1" y1="399.6" x2="390.7" y2="399.6" stroke="#1a1a1a" stroke-width="1.1"/>
<line x1="384.1" y1="414" x2="390.7" y2="414" stroke="#1a1a1a" stroke-width="1.1"/>
<line x1="381" y1="406.6" x2="393.8" y2="406.6" stroke="#1a1a1a" stroke-width="1.2"/>
<line x1="435.8" y1="346.5" x2="435.8" y2="417.7" stroke="#222" stroke-width="1.2"/>
<line x1="433" y1="415.3" x2="435.8" y2="415.3" stroke="#222" stroke-width="0.8"/>
<text x="430.6" y="417.46" font-size="6" text-anchor="end" fill="#333">0.0</text>
<line x1="433" y1="402.14" x2="435.8" y2="402.14" stroke="#222" stroke-width="0.8"/>
<text x="430.6" y="404.3" font-size="6" text-anchor="end" fill="#333">0.1</text>
<line x1="433" y1="388.98" x2="435.8" y2="388.98" stroke="#222" stroke-width="0.8"/>
<text x="430.6" y="391.14" font-size="6" text-anchor="end" fill="#333">0.2</text>
<line x1="433" y1="375.82" x2="435.8" y2="375.82" stroke="#222" stroke-width="0.8"/>
<text x="430.6" y="377.98" font-size="6" text-anchor="end" fill="#333">0.3</text>
<line x1="433" y1="362.66" x2="435.8" y2="362.66" stroke="#222" stroke-width="0.8"/>
<text x="430.6" y="364.82" font-size="6" text-anchor="end" fill="#333">0.4</text>
<line x1="433" y1="349.5" x2="435.8" y2="349.5" stroke="#222" stroke-width="0.8"/>
<text x="430.6" y="351.66" font-size="6" text-anchor="end" fill="#333">0.5</text>
<line x1="451.5" y1="418.2" x2="490.5" y2="418.2" stroke="#222" stroke-width="1.5"/>
<line x1="454.8" y1="418.2" x2="454.8" y2="420.7" stroke="#222" stroke-width="0.8"/>
<line x1="487.4" y1="418.2" x2="487.4" y2="420.7" stroke="#222" stroke-width="0.8"/>
<text x="454.8" y="430.18" font-size="6.6" text-anchor="middle" fill="#333" textLength="8.4" lengthAdjust="spacingAndGlyphs">sen</text>
<text x="487.4" y="430.18" font-size="6.6" text-anchor="middle" fill="#333" textLength="7.2" lengthAdjust="spacingAndGlyphs">res</text>
<text x="471" y="333.88" font-size="8" text-anchor="middle" textLength="40.8" lengthAdjust="spacingAndGlyphs">BCL2/MCL1</text>
<g fill="#5fa83a"><circle cx="454.8" cy="350.5" r="2.4"/><circle cx="454.8" cy="387.8" r="2.4"/><circle cx="464.9" cy="403.5" r="2.4"/><circle cx="449.7" cy="405.3" r="2.4"/><circle cx="454.8" cy="406" r="2.4"/><circle cx="459.9" cy="405.7" r="2.4"/><circle cx="466.2" cy="408.4" r="2.4"/><circle cx="444.7" cy="409.3" r="2.4"/><circle cx="450.1" cy="411.1" r="2.4"/><circle cx="459.9" cy="412.7" r="2.4"/><circle cx="454.8" cy="413.4" r="2.4"/><circle cx="464.9" cy="410" r="2.4"/></g>
<g fill="#e0901e"><circle cx="487.4" cy="399.5" r="2.4"/><circle cx="482.4" cy="406.2" r="2.4"/><circle cx="492.5" cy="406.6" r="2.4"/><circle cx="476.3" cy="410.7" r="2.4"/><circle cx="482.4" cy="412" r="2.4"/><circle cx="487.4" cy="411.3" r="2.4"/><circle cx="492.5" cy="412.7" r="2.4"/><circle cx="498.5" cy="411.3" r="2.4"/><circle cx="487.4" cy="408" r="2.4"/></g>
<line x1="454.8" y1="384.4" x2="454.8" y2="417" stroke="#1a1a1a" stroke-width="1.1"/>
<line x1="451.5" y1="384.4" x2="458.1" y2="384.4" stroke="#1a1a1a" stroke-width="1.1"/>
<line x1="451.5" y1="417" x2="458.1" y2="417" stroke="#1a1a1a" stroke-width="1.1"/>
<line x1="448.4" y1="402.2" x2="461.2" y2="402.2" stroke="#1a1a1a" stroke-width="1.2"/>
<line x1="487.4" y1="406.2" x2="487.4" y2="412.7" stroke="#1a1a1a" stroke-width="1.1"/>
<line x1="484.1" y1="406.2" x2="490.7" y2="406.2" stroke="#1a1a1a" stroke-width="1.1"/>
<line x1="484.1" y1="412.7" x2="490.7" y2="412.7" stroke="#1a1a1a" stroke-width="1.1"/>
<line x1="481" y1="409.7" x2="493.8" y2="409.7" stroke="#1a1a1a" stroke-width="1.2"/>
<text transform="translate(220.8,265.4) rotate(-90)" x="0" y="2.48" font-size="6.9" text-anchor="middle" fill="#333" textLength="42.7" lengthAdjust="spacingAndGlyphs">Log2(FPKM+1)</text>
<text transform="translate(316,378.8) rotate(-90)" x="0" y="2.48" font-size="6.9" text-anchor="middle" fill="#333" textLength="41.6" lengthAdjust="spacingAndGlyphs">log2(FPKM+1)</text>
<text transform="translate(319.3,266.6) rotate(-90)" x="0" y="2.52" font-size="7" text-anchor="middle" fill="#333" textLength="25" lengthAdjust="spacingAndGlyphs">P=0.062</text>
<text transform="translate(417,271) rotate(-90)" x="0" y="2.52" font-size="7" text-anchor="middle" fill="#333" textLength="25" lengthAdjust="spacingAndGlyphs">P=0.324</text>
<text transform="translate(508.4,271) rotate(-90)" x="0" y="2.52" font-size="7" text-anchor="middle" fill="#333" textLength="25" lengthAdjust="spacingAndGlyphs">P=0.374</text>
<text transform="translate(414,382.3) rotate(-90)" x="0" y="2.52" font-size="7" text-anchor="middle" fill="#333" textLength="29" lengthAdjust="spacingAndGlyphs">P=0.0868</text>
<text transform="translate(509.6,382.3) rotate(-90)" x="0" y="2.52" font-size="7" text-anchor="middle" fill="#333" textLength="29" lengthAdjust="spacingAndGlyphs">P=0.0678</text>
<line x1="69.3" y1="473.5" x2="72.5" y2="473.5" stroke="#333" stroke-width="0.8"/>
<text x="66.3" y="475.52" font-size="5.6" text-anchor="end" fill="#333">1.0</text>
<line x1="69.3" y1="484.9" x2="72.5" y2="484.9" stroke="#333" stroke-width="0.8"/>
<text x="66.3" y="486.92" font-size="5.6" text-anchor="end" fill="#333">0.8</text>
<line x1="69.3" y1="496.3" x2="72.5" y2="496.3" stroke="#333" stroke-width="0.8"/>
<text x="66.3" y="498.32" font-size="5.6" text-anchor="end" fill="#333">0.6</text>
<line x1="69.3" y1="507.7" x2="72.5" y2="507.7" stroke="#333" stroke-width="0.8"/>
<text x="66.3" y="509.72" font-size="5.6" text-anchor="end" fill="#333">0.4</text>
<line x1="69.3" y1="519.1" x2="72.5" y2="519.1" stroke="#333" stroke-width="0.8"/>
<text x="66.3" y="521.12" font-size="5.6" text-anchor="end" fill="#333">0.2</text>
<line x1="69.3" y1="530.5" x2="72.5" y2="530.5" stroke="#333" stroke-width="0.8"/>
<text x="66.3" y="532.52" font-size="5.6" text-anchor="end" fill="#333">0.0</text>
<line x1="69.3" y1="541.9" x2="72.5" y2="541.9" stroke="#333" stroke-width="0.8"/>
<text x="66.3" y="543.92" font-size="5.6" text-anchor="end" fill="#333">-0.2</text>
<path d="M73.99 542V546.9M78.92 542V546.9M113.43 542V546.9M76.58 542V546.9M127.86 542V546.9M81.85 542V546.9M73.55 542V546.9M92.1 542V546.9M77.46 542V546.9M73.59 542V546.9M82.43 542V546.9M93.46 542V546.9M78.47 542V546.9M127.14 542V546.9M83.58 542V546.9M112.68 542V546.9M86.46 542V546.9M75.26 542V546.9M91.74 542V546.9M111.33 542V546.9M95.39 542V546.9M107.57 542V546.9M75.88 542V546.9M76.47 542V546.9M76.15 542V546.9M95.72 542V546.9M127.96 542V546.9M88.41 542V546.9M123.9 542V546.9M75.56 542V546.9M79.88 542V546.9M110.25 542V546.9M120.53 542V546.9M121.31 542V546.9" stroke="#c4cc98" stroke-width="0.4" fill="none"/>
<rect x="71.6" y="541.5" width="72.1" height="5.9" fill="none" stroke="#222" stroke-width="0.9"/>
<line x1="72.5" y1="530.5" x2="143.7" y2="530.5" stroke="#222" stroke-width="0.9"/>
<line x1="72.5" y1="470.8" x2="72.5" y2="547.4" stroke="#222" stroke-width="1.1"/>
<polyline points="72.86,530.5 73.21,502 73.92,490.6 74.64,489.46 78.2,489.75 81.04,491.17 85.32,492.88 90.3,496.87 105.96,508.27 124.48,524.23 135.16,530.5 136.58,531.36 140.14,529.93 143.34,530.5" fill="none" stroke="#8a9c3a" stroke-width="1" stroke-linejoin="round"/>
<text x="76.7" y="518.12" font-size="5.9" fill="#333" textLength="22.73" lengthAdjust="spacingAndGlyphs">NES 1.99</text>
<text x="76.7" y="524.72" font-size="5.9" fill="#333" textLength="27.3" lengthAdjust="spacingAndGlyphs">FDR=0.015</text>
<line x1="69.3" y1="560.5" x2="72.5" y2="560.5" stroke="#333" stroke-width="0.8"/>
<text x="66.3" y="562.52" font-size="5.6" text-anchor="end" fill="#333">1.0</text>
<line x1="69.3" y1="571.9" x2="72.5" y2="571.9" stroke="#333" stroke-width="0.8"/>
<text x="66.3" y="573.92" font-size="5.6" text-anchor="end" fill="#333">0.8</text>
<line x1="69.3" y1="583.3" x2="72.5" y2="583.3" stroke="#333" stroke-width="0.8"/>
<text x="66.3" y="585.32" font-size="5.6" text-anchor="end" fill="#333">0.6</text>
<line x1="69.3" y1="594.7" x2="72.5" y2="594.7" stroke="#333" stroke-width="0.8"/>
<text x="66.3" y="596.72" font-size="5.6" text-anchor="end" fill="#333">0.4</text>
<line x1="69.3" y1="606.1" x2="72.5" y2="606.1" stroke="#333" stroke-width="0.8"/>
<text x="66.3" y="608.12" font-size="5.6" text-anchor="end" fill="#333">0.2</text>
<line x1="69.3" y1="617.5" x2="72.5" y2="617.5" stroke="#333" stroke-width="0.8"/>
<text x="66.3" y="619.52" font-size="5.6" text-anchor="end" fill="#333">0.0</text>
<line x1="69.3" y1="628.9" x2="72.5" y2="628.9" stroke="#333" stroke-width="0.8"/>
<text x="66.3" y="630.92" font-size="5.6" text-anchor="end" fill="#333">-0.2</text>
<path d="M103.87 628.9V633.1M86.09 628.9V633.1M73.5 628.9V633.1M86.19 628.9V633.1M124.19 628.9V633.1M91 628.9V633.1M102.43 628.9V633.1M77.25 628.9V633.1M91.28 628.9V633.1M87.49 628.9V633.1M76.43 628.9V633.1M80.85 628.9V633.1M75.08 628.9V633.1M128.74 628.9V633.1M96.53 628.9V633.1M97.45 628.9V633.1M119.24 628.9V633.1M111.75 628.9V633.1M83.41 628.9V633.1M130.56 628.9V633.1M100.61 628.9V633.1M138.01 628.9V633.1M82.25 628.9V633.1M86.42 628.9V633.1M74.4 628.9V633.1M122.34 628.9V633.1M106.06 628.9V633.1M122.8 628.9V633.1M87.97 628.9V633.1M133.96 628.9V633.1M117.31 628.9V633.1M123.31 628.9V633.1M73.82 628.9V633.1M124.17 628.9V633.1" stroke="#c4cc98" stroke-width="0.4" fill="none"/>
<rect x="71.6" y="628.4" width="72.1" height="5.2" fill="none" stroke="#222" stroke-width="0.9"/>
<line x1="72.5" y1="617.5" x2="143.7" y2="617.5" stroke="#222" stroke-width="0.9"/>
<line x1="72.5" y1="557.2" x2="72.5" y2="633.6" stroke="#222" stroke-width="1.1"/>
<polyline points="72.86,617.5 73.35,585.01 74.28,577.6 75.7,577.03 77.13,578.17 77.84,574.75 80.33,572.47 83.18,573.04 91.01,578.74 105.96,590.14 129.46,608.38 143.34,617.5" fill="none" stroke="#8a9c3a" stroke-width="1" stroke-linejoin="round"/>
<text x="76.7" y="606.32" font-size="5.9" fill="#333" textLength="24.35" lengthAdjust="spacingAndGlyphs">NES=2.22</text>
<text x="76.7" y="612.92" font-size="5.9" fill="#333" textLength="33.21" lengthAdjust="spacingAndGlyphs">FDR=0.00025</text>
<line x1="173.6" y1="473.5" x2="176.8" y2="473.5" stroke="#333" stroke-width="0.8"/>
<text x="170.6" y="475.52" font-size="5.6" text-anchor="end" fill="#333">1.0</text>
<line x1="173.6" y1="484.9" x2="176.8" y2="484.9" stroke="#333" stroke-width="0.8"/>
<text x="170.6" y="486.92" font-size="5.6" text-anchor="end" fill="#333">0.8</text>
<line x1="173.6" y1="496.3" x2="176.8" y2="496.3" stroke="#333" stroke-width="0.8"/>
<text x="170.6" y="498.32" font-size="5.6" text-anchor="end" fill="#333">0.6</text>
<line x1="173.6" y1="507.7" x2="176.8" y2="507.7" stroke="#333" stroke-width="0.8"/>
<text x="170.6" y="509.72" font-size="5.6" text-anchor="end" fill="#333">0.4</text>
<line x1="173.6" y1="519.1" x2="176.8" y2="519.1" stroke="#333" stroke-width="0.8"/>
<text x="170.6" y="521.12" font-size="5.6" text-anchor="end" fill="#333">0.2</text>
<line x1="173.6" y1="530.5" x2="176.8" y2="530.5" stroke="#333" stroke-width="0.8"/>
<text x="170.6" y="532.52" font-size="5.6" text-anchor="end" fill="#333">0.0</text>
<line x1="173.6" y1="541.9" x2="176.8" y2="541.9" stroke="#333" stroke-width="0.8"/>
<text x="170.6" y="543.92" font-size="5.6" text-anchor="end" fill="#333">-0.2</text>
<path d="M178.72 542V546.9M189.28 542V546.9M177.81 542V546.9M186.96 542V546.9M221.66 542V546.9M216.31 542V546.9M198.44 542V546.9M221.75 542V546.9M197.13 542V546.9M232.56 542V546.9M209.14 542V546.9M180.76 542V546.9M205.65 542V546.9M198.92 542V546.9M203.26 542V546.9M183.71 542V546.9M216.43 542V546.9M182.6 542V546.9M187.84 542V546.9M184.83 542V546.9M186.15 542V546.9M182.28 542V546.9M221.7 542V546.9M213.82 542V546.9M178.06 542V546.9M206.35 542V546.9M178.97 542V546.9M211.93 542V546.9M194.22 542V546.9M203.47 542V546.9M222.5 542V546.9M224.12 542V546.9M215.33 542V546.9M187.52 542V546.9" stroke="#c4cc98" stroke-width="0.4" fill="none"/>
<rect x="175.9" y="541.5" width="72" height="5.9" fill="none" stroke="#222" stroke-width="0.9"/>
<line x1="176.8" y1="530.5" x2="247.9" y2="530.5" stroke="#222" stroke-width="0.9"/>
<line x1="176.8" y1="470.8" x2="176.8" y2="547.4" stroke="#222" stroke-width="1.1"/>
<polyline points="177.16,530.5 177.51,508.84 178.93,503.71 180.36,498.01 181.78,492.02 186.04,495.16 187.47,494.02 191.02,495.73 203.11,504.28 218.04,515.68 230.84,525.94 237.24,529.36 240.79,531.92 243.63,529.36 247.54,530.5" fill="none" stroke="#8a9c3a" stroke-width="1" stroke-linejoin="round"/>
<text x="181" y="518.12" font-size="5.9" fill="#333" textLength="22.73" lengthAdjust="spacingAndGlyphs">NES 1.90</text>
<text x="181" y="524.72" font-size="5.9" fill="#333" textLength="27.3" lengthAdjust="spacingAndGlyphs">FDR=0.042</text>
<line x1="173.6" y1="560.5" x2="176.8" y2="560.5" stroke="#333" stroke-width="0.8"/>
<text x="170.6" y="562.52" font-size="5.6" text-anchor="end" fill="#333">1.0</text>
<line x1="173.6" y1="571.9" x2="176.8" y2="571.9" stroke="#333" stroke-width="0.8"/>
<text x="170.6" y="573.92" font-size="5.6" text-anchor="end" fill="#333">0.8</text>
<line x1="173.6" y1="583.3" x2="176.8" y2="583.3" stroke="#333" stroke-width="0.8"/>
<text x="170.6" y="585.32" font-size="5.6" text-anchor="end" fill="#333">0.6</text>
<line x1="173.6" y1="594.7" x2="176.8" y2="594.7" stroke="#333" stroke-width="0.8"/>
<text x="170.6" y="596.72" font-size="5.6" text-anchor="end" fill="#333">0.4</text>
<line x1="173.6" y1="606.1" x2="176.8" y2="606.1" stroke="#333" stroke-width="0.8"/>
<text x="170.6" y="608.12" font-size="5.6" text-anchor="end" fill="#333">0.2</text>
<line x1="173.6" y1="617.5" x2="176.8" y2="617.5" stroke="#333" stroke-width="0.8"/>
<text x="170.6" y="619.52" font-size="5.6" text-anchor="end" fill="#333">0.0</text>
<line x1="173.6" y1="628.9" x2="176.8" y2="628.9" stroke="#333" stroke-width="0.8"/>
<text x="170.6" y="630.92" font-size="5.6" text-anchor="end" fill="#333">-0.2</text>
<path d="M193.67 628.9V633.1M226.1 628.9V633.1M200.11 628.9V633.1M197.68 628.9V633.1M184.66 628.9V633.1M214.07 628.9V633.1M185.56 628.9V633.1M243.74 628.9V633.1M185 628.9V633.1M242.72 628.9V633.1M179.41 628.9V633.1M196.8 628.9V633.1M204.57 628.9V633.1M241.53 628.9V633.1M230.51 628.9V633.1M188.41 628.9V633.1M211.07 628.9V633.1M231.87 628.9V633.1M182.05 628.9V633.1M227.88 628.9V633.1M227.35 628.9V633.1M243 628.9V633.1M183.91 628.9V633.1M220.29 628.9V633.1M197.58 628.9V633.1M242.06 628.9V633.1M223.3 628.9V633.1M177.91 628.9V633.1M240.65 628.9V633.1M228.47 628.9V633.1M187.01 628.9V633.1M243.03 628.9V633.1M181.59 628.9V633.1M240.44 628.9V633.1" stroke="#c4cc98" stroke-width="0.4" fill="none"/>
<rect x="175.9" y="628.4" width="72" height="5.2" fill="none" stroke="#222" stroke-width="0.9"/>
<line x1="176.8" y1="617.5" x2="247.9" y2="617.5" stroke="#222" stroke-width="0.9"/>
<line x1="176.8" y1="557.2" x2="176.8" y2="633.6" stroke="#222" stroke-width="1.1"/>
<polyline points="177.16,617.5 177.87,583.3 178.93,576.46 182.84,575.32 187.47,575.89 191.02,577.03 203.11,584.44 225.86,604.96 237.95,612.37 247.54,617.5" fill="none" stroke="#8a9c3a" stroke-width="1" stroke-linejoin="round"/>
<text x="181" y="606.32" font-size="5.9" fill="#333" textLength="24.35" lengthAdjust="spacingAndGlyphs">NES=2.05</text>
<text x="181" y="612.92" font-size="5.9" fill="#333" textLength="30.25" lengthAdjust="spacingAndGlyphs">FDR=0.0014</text>
<line x1="280.1" y1="473.5" x2="283.3" y2="473.5" stroke="#333" stroke-width="0.8"/>
<text x="277.1" y="475.52" font-size="5.6" text-anchor="end" fill="#333">1.0</text>
<line x1="280.1" y1="484.9" x2="283.3" y2="484.9" stroke="#333" stroke-width="0.8"/>
<text x="277.1" y="486.92" font-size="5.6" text-anchor="end" fill="#333">0.8</text>
<line x1="280.1" y1="496.3" x2="283.3" y2="496.3" stroke="#333" stroke-width="0.8"/>
<text x="277.1" y="498.32" font-size="5.6" text-anchor="end" fill="#333">0.6</text>
<line x1="280.1" y1="507.7" x2="283.3" y2="507.7" stroke="#333" stroke-width="0.8"/>
<text x="277.1" y="509.72" font-size="5.6" text-anchor="end" fill="#333">0.4</text>
<line x1="280.1" y1="519.1" x2="283.3" y2="519.1" stroke="#333" stroke-width="0.8"/>
<text x="277.1" y="521.12" font-size="5.6" text-anchor="end" fill="#333">0.2</text>
<line x1="280.1" y1="530.5" x2="283.3" y2="530.5" stroke="#333" stroke-width="0.8"/>
<text x="277.1" y="532.52" font-size="5.6" text-anchor="end" fill="#333">0.0</text>
<line x1="280.1" y1="541.9" x2="283.3" y2="541.9" stroke="#333" stroke-width="0.8"/>
<text x="277.1" y="543.92" font-size="5.6" text-anchor="end" fill="#333">-0.2</text>
<path d="M328.75 542V546.9M318.19 542V546.9M300.69 542V546.9M289.43 542V546.9M320.92 542V546.9M349.37 542V546.9M301.88 542V546.9M337.13 542V546.9M284.64 542V546.9M308.9 542V546.9M289.57 542V546.9M306.45 542V546.9M315.42 542V546.9M337.63 542V546.9M308.54 542V546.9M338.92 542V546.9M295.73 542V546.9M286.86 542V546.9M304.39 542V546.9M324.31 542V546.9M323.66 542V546.9M284.65 542V546.9M291.68 542V546.9M291.95 542V546.9M304.85 542V546.9M338.2 542V546.9M292.76 542V546.9M284.79 542V546.9M341.89 542V546.9M338.96 542V546.9M329.39 542V546.9M284.68 542V546.9M292.26 542V546.9M288.58 542V546.9" stroke="#c4cc98" stroke-width="0.4" fill="none"/>
<rect x="282.4" y="541.5" width="71.3" height="5.9" fill="none" stroke="#222" stroke-width="0.9"/>
<line x1="283.3" y1="530.5" x2="353.7" y2="530.5" stroke="#222" stroke-width="0.9"/>
<line x1="283.3" y1="470.8" x2="283.3" y2="547.4" stroke="#222" stroke-width="1.1"/>
<polyline points="283.65,530.5 284.36,496.87 285.41,493.45 286.12,490.6 288.93,488.04 293.16,489.46 298.08,490.6 308.64,496.87 324.13,508.56 339.62,521.95 353.35,530.5" fill="none" stroke="#8a9c3a" stroke-width="1" stroke-linejoin="round"/>
<text x="287.5" y="518.12" font-size="5.9" fill="#333" textLength="22.73" lengthAdjust="spacingAndGlyphs">NES 2.16</text>
<text x="287.5" y="524.72" font-size="5.9" fill="#333" textLength="36.16" lengthAdjust="spacingAndGlyphs">FDR &lt; 0.00001</text>
<line x1="280.1" y1="560.5" x2="283.3" y2="560.5" stroke="#333" stroke-width="0.8"/>
<text x="277.1" y="562.52" font-size="5.6" text-anchor="end" fill="#333">1.0</text>
<line x1="280.1" y1="571.9" x2="283.3" y2="571.9" stroke="#333" stroke-width="0.8"/>
<text x="277.1" y="573.92" font-size="5.6" text-anchor="end" fill="#333">0.8</text>
<line x1="280.1" y1="583.3" x2="283.3" y2="583.3" stroke="#333" stroke-width="0.8"/>
<text x="277.1" y="585.32" font-size="5.6" text-anchor="end" fill="#333">0.6</text>
<line x1="280.1" y1="594.7" x2="283.3" y2="594.7" stroke="#333" stroke-width="0.8"/>
<text x="277.1" y="596.72" font-size="5.6" text-anchor="end" fill="#333">0.4</text>
<line x1="280.1" y1="606.1" x2="283.3" y2="606.1" stroke="#333" stroke-width="0.8"/>
<text x="277.1" y="608.12" font-size="5.6" text-anchor="end" fill="#333">0.2</text>
<line x1="280.1" y1="617.5" x2="283.3" y2="617.5" stroke="#333" stroke-width="0.8"/>
<text x="277.1" y="619.52" font-size="5.6" text-anchor="end" fill="#333">0.0</text>
<line x1="280.1" y1="628.9" x2="283.3" y2="628.9" stroke="#333" stroke-width="0.8"/>
<text x="277.1" y="630.92" font-size="5.6" text-anchor="end" fill="#333">-0.2</text>
<path d="M348.93 628.9V633.1M309.75 628.9V633.1M310.85 628.9V633.1M305.08 628.9V633.1M289.06 628.9V633.1M284.66 628.9V633.1M299.94 628.9V633.1M307.13 628.9V633.1M329.81 628.9V633.1M296.45 628.9V633.1M349.44 628.9V633.1M286.38 628.9V633.1M319.25 628.9V633.1M284.53 628.9V633.1M290.35 628.9V633.1M286.84 628.9V633.1M350.32 628.9V633.1M321.11 628.9V633.1M310.89 628.9V633.1M338.28 628.9V633.1M347.57 628.9V633.1M298.67 628.9V633.1M338.22 628.9V633.1M293.74 628.9V633.1M323.3 628.9V633.1M334.9 628.9V633.1M298.71 628.9V633.1M319.15 628.9V633.1M325.62 628.9V633.1M285.71 628.9V633.1M328.56 628.9V633.1M289.34 628.9V633.1M293.73 628.9V633.1M291.33 628.9V633.1" stroke="#c4cc98" stroke-width="0.4" fill="none"/>
<rect x="282.4" y="628.4" width="71.3" height="5.2" fill="none" stroke="#222" stroke-width="0.9"/>
<line x1="283.3" y1="617.5" x2="353.7" y2="617.5" stroke="#222" stroke-width="0.9"/>
<line x1="283.3" y1="557.2" x2="283.3" y2="633.6" stroke="#222" stroke-width="1.1"/>
<polyline points="283.65,617.5 284.14,592.99 285.76,585.01 288.58,582.16 293.16,580.45 295.27,580.45 297.38,581.59 305.12,586.15 323.43,600.4 332.58,607.81 335.4,608.1 338.92,610.95 340.32,609.8 343.84,611.23 353.35,617.5" fill="none" stroke="#8a9c3a" stroke-width="1" stroke-linejoin="round"/>
<text x="287.5" y="606.32" font-size="5.9" fill="#333" textLength="24.35" lengthAdjust="spacingAndGlyphs">NES=1.87</text>
<text x="287.5" y="612.92" font-size="5.9" fill="#333" textLength="33.36" lengthAdjust="spacingAndGlyphs">FDR=&lt;0.0001</text>
<line x1="376.1" y1="473.5" x2="379.3" y2="473.5" stroke="#333" stroke-width="0.8"/>
<text x="373.1" y="475.52" font-size="5.6" text-anchor="end" fill="#333">1.0</text>
<line x1="376.1" y1="484.9" x2="379.3" y2="484.9" stroke="#333" stroke-width="0.8"/>
<text x="373.1" y="486.92" font-size="5.6" text-anchor="end" fill="#333">0.8</text>
<line x1="376.1" y1="496.3" x2="379.3" y2="496.3" stroke="#333" stroke-width="0.8"/>
<text x="373.1" y="498.32" font-size="5.6" text-anchor="end" fill="#333">0.6</text>
<line x1="376.1" y1="507.7" x2="379.3" y2="507.7" stroke="#333" stroke-width="0.8"/>
<text x="373.1" y="509.72" font-size="5.6" text-anchor="end" fill="#333">0.4</text>
<line x1="376.1" y1="519.1" x2="379.3" y2="519.1" stroke="#333" stroke-width="0.8"/>
<text x="373.1" y="521.12" font-size="5.6" text-anchor="end" fill="#333">0.2</text>
<line x1="376.1" y1="530.5" x2="379.3" y2="530.5" stroke="#333" stroke-width="0.8"/>
<text x="373.1" y="532.52" font-size="5.6" text-anchor="end" fill="#333">0.0</text>
<line x1="376.1" y1="541.9" x2="379.3" y2="541.9" stroke="#333" stroke-width="0.8"/>
<text x="373.1" y="543.92" font-size="5.6" text-anchor="end" fill="#333">-0.2</text>
<path d="M381.78 542V546.9M432.56 542V546.9M410.72 542V546.9M386.08 542V546.9M426.5 542V546.9M410.25 542V546.9M431.17 542V546.9M411.64 542V546.9M421.27 542V546.9M426.06 542V546.9M392.78 542V546.9M381.92 542V546.9M438.2 542V546.9M382.53 542V546.9M407.26 542V546.9M448.15 542V546.9M393.16 542V546.9M388.34 542V546.9M395.08 542V546.9M385.63 542V546.9M423.71 542V546.9M390.22 542V546.9M381.35 542V546.9M410.32 542V546.9M388.23 542V546.9M384.69 542V546.9M380.4 542V546.9M432.24 542V546.9M394.79 542V546.9M410.68 542V546.9M401.61 542V546.9M435.28 542V546.9M381.22 542V546.9M413.48 542V546.9" stroke="#c4cc98" stroke-width="0.4" fill="none"/>
<rect x="378.4" y="541.5" width="71.7" height="5.9" fill="none" stroke="#222" stroke-width="0.9"/>
<line x1="379.3" y1="530.5" x2="450.1" y2="530.5" stroke="#222" stroke-width="0.9"/>
<line x1="379.3" y1="470.8" x2="379.3" y2="547.4" stroke="#222" stroke-width="1.1"/>
<polyline points="379.65,530.5 380.15,496.87 381.07,494.02 382.49,488.89 385.67,488.04 387.8,490.03 389.57,488.32 404.79,498.3 427.44,517.96 449.04,530.5" fill="none" stroke="#8a9c3a" stroke-width="1" stroke-linejoin="round"/>
<text x="383.5" y="518.12" font-size="5.9" fill="#333" textLength="22.73" lengthAdjust="spacingAndGlyphs">NES 2.14</text>
<text x="383.5" y="524.72" font-size="5.9" fill="#333" textLength="30.25" lengthAdjust="spacingAndGlyphs">FDR=0.0029</text>
<line x1="376.1" y1="560.5" x2="379.3" y2="560.5" stroke="#333" stroke-width="0.8"/>
<text x="373.1" y="562.52" font-size="5.6" text-anchor="end" fill="#333">1.0</text>
<line x1="376.1" y1="571.9" x2="379.3" y2="571.9" stroke="#333" stroke-width="0.8"/>
<text x="373.1" y="573.92" font-size="5.6" text-anchor="end" fill="#333">0.8</text>
<line x1="376.1" y1="583.3" x2="379.3" y2="583.3" stroke="#333" stroke-width="0.8"/>
<text x="373.1" y="585.32" font-size="5.6" text-anchor="end" fill="#333">0.6</text>
<line x1="376.1" y1="594.7" x2="379.3" y2="594.7" stroke="#333" stroke-width="0.8"/>
<text x="373.1" y="596.72" font-size="5.6" text-anchor="end" fill="#333">0.4</text>
<line x1="376.1" y1="606.1" x2="379.3" y2="606.1" stroke="#333" stroke-width="0.8"/>
<text x="373.1" y="608.12" font-size="5.6" text-anchor="end" fill="#333">0.2</text>
<line x1="376.1" y1="617.5" x2="379.3" y2="617.5" stroke="#333" stroke-width="0.8"/>
<text x="373.1" y="619.52" font-size="5.6" text-anchor="end" fill="#333">0.0</text>
<line x1="376.1" y1="628.9" x2="379.3" y2="628.9" stroke="#333" stroke-width="0.8"/>
<text x="373.1" y="630.92" font-size="5.6" text-anchor="end" fill="#333">-0.2</text>
<path d="M380.57 628.9V633.1M445.7 628.9V633.1M385.33 628.9V633.1M448.49 628.9V633.1M443.33 628.9V633.1M388.21 628.9V633.1M404.19 628.9V633.1M396.07 628.9V633.1M396.8 628.9V633.1M427.45 628.9V633.1M431.14 628.9V633.1M388.1 628.9V633.1M406.27 628.9V633.1M417.95 628.9V633.1M410.19 628.9V633.1M382.66 628.9V633.1M395.62 628.9V633.1M402.48 628.9V633.1M440.94 628.9V633.1M430.62 628.9V633.1M416.97 628.9V633.1M389.28 628.9V633.1M442.48 628.9V633.1M386.82 628.9V633.1M392.42 628.9V633.1M383.86 628.9V633.1M409.8 628.9V633.1M428.02 628.9V633.1M419.34 628.9V633.1M431.09 628.9V633.1M419.4 628.9V633.1M415.1 628.9V633.1M387.86 628.9V633.1M444.59 628.9V633.1" stroke="#c4cc98" stroke-width="0.4" fill="none"/>
<rect x="378.4" y="628.4" width="71.7" height="5.2" fill="none" stroke="#222" stroke-width="0.9"/>
<line x1="379.3" y1="617.5" x2="450.1" y2="617.5" stroke="#222" stroke-width="0.9"/>
<line x1="379.3" y1="557.2" x2="379.3" y2="633.6" stroke="#222" stroke-width="1.1"/>
<polyline points="379.65,617.5 380.01,592.99 381.07,579.31 383.55,570.76 385.67,569.62 389.92,569.62 393.46,571.33 449.04,617.5" fill="none" stroke="#8a9c3a" stroke-width="1" stroke-linejoin="round"/>
<text x="383.5" y="606.32" font-size="5.9" fill="#333" textLength="24.35" lengthAdjust="spacingAndGlyphs">NES=2.43</text>
<text x="383.5" y="612.92" font-size="5.9" fill="#333" textLength="30.25" lengthAdjust="spacingAndGlyphs">FDR&lt;0.0001</text>
<text x="108" y="456.68" font-size="8" text-anchor="middle" textLength="83" lengthAdjust="spacingAndGlyphs">TARTE_PLASMA_CELL_</text>
<text x="108" y="465.78" font-size="8" text-anchor="middle" textLength="86" lengthAdjust="spacingAndGlyphs">VS_B_LYMPHOCYTE_DN</text>
<text x="212.1" y="461.48" font-size="8" text-anchor="middle" textLength="91.5" lengthAdjust="spacingAndGlyphs">MORI_PLASMA_CELL_DN</text>
<text x="318.3" y="461.28" font-size="8" text-anchor="middle" textLength="55.5" lengthAdjust="spacingAndGlyphs">SHI_B_CELL_UP</text>
<text x="414.5" y="456.68" font-size="8" text-anchor="middle" textLength="103" lengthAdjust="spacingAndGlyphs">ZHAN_MULTIPLE_MYELOMA</text>
<text x="414.8" y="465.88" font-size="8" text-anchor="middle" textLength="35" lengthAdjust="spacingAndGlyphs">_CD2_UP</text>
<text x="28.4" y="506.02" font-size="8.4" text-anchor="middle">Cell</text>
<text x="28.4" y="515.42" font-size="8.4" text-anchor="middle">Lines</text>
<text x="28.4" y="592.52" font-size="8.4" text-anchor="middle">Patient</text>
<text x="28.4" y="602.02" font-size="8.4" text-anchor="middle">samples</text>
<text transform="translate(49.5,551.6) rotate(-90)" x="0" y="2.3" font-size="6.4" text-anchor="middle" fill="#333" textLength="46" lengthAdjust="spacingAndGlyphs">Enrichment score</text>
<text x="258.2" y="643.94" font-size="7.6" text-anchor="middle" fill="#333" textLength="52" lengthAdjust="spacingAndGlyphs">Ranked order of GX</text>
<line x1="72.5" y1="646.2" x2="186" y2="646.2" stroke="#111" stroke-width="1"/>
<path d="M72 646.2L78 643.7L76.5 646.2L78 648.7z" fill="#111"/>
<line x1="335" y1="646.2" x2="449.5" y2="646.2" stroke="#111" stroke-width="1"/>
<path d="M450 646.2L444 643.7L445.5 646.2L444 648.7z" fill="#111"/>
<text x="131.3" y="656.44" font-size="7.6" text-anchor="middle" textLength="24" lengthAdjust="spacingAndGlyphs">sensitive</text>
<text x="391" y="656.04" font-size="7.6" text-anchor="middle" textLength="23.5" lengthAdjust="spacingAndGlyphs">resistant</text>
<rect x="0.6" y="0.6" width="518.8" height="663.8" fill="none" stroke="#111" stroke-width="1.4"/>
</svg></body></html>
